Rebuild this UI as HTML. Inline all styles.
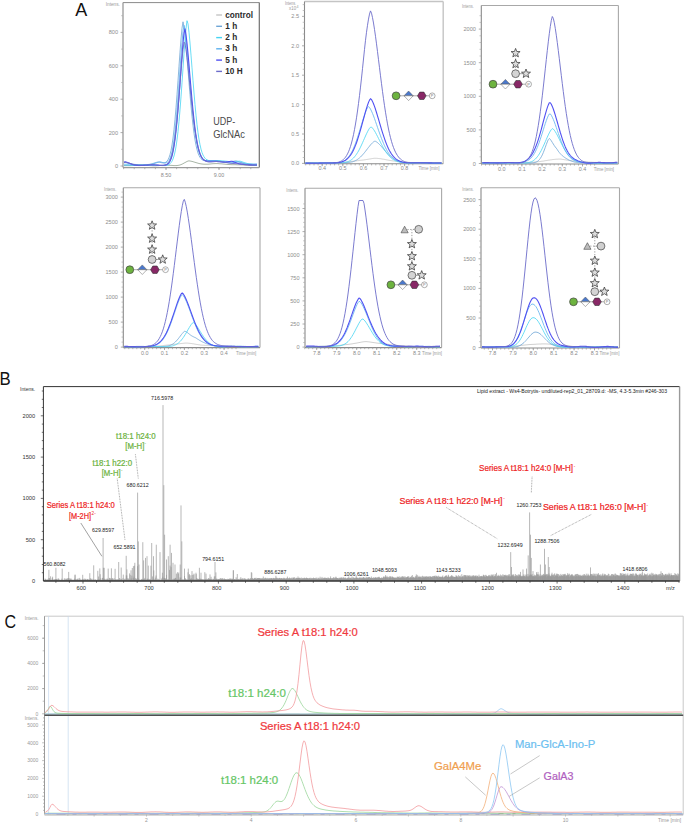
<!DOCTYPE html>
<html><head><meta charset="utf-8"><style>
html,body{margin:0;padding:0;background:#fff;}
svg{display:block;}
text{font-family:"Liberation Sans",sans-serif;}
</style></head><body>
<svg width="685" height="824" viewBox="0 0 685 824">
<rect width="685" height="824" fill="#fff"/>
<line x1="123" y1="2.6" x2="259.3" y2="2.6" stroke="#8a8a8a" stroke-width="1"/>
<line x1="259.3" y1="2.6" x2="259.3" y2="167.6" stroke="#707070" stroke-width="1.2"/>
<line x1="123" y1="2.6" x2="123" y2="167.6" stroke="#9a9a9a" stroke-width="1.3"/>
<line x1="123" y1="167.6" x2="259.3" y2="167.6" stroke="#9a9a9a" stroke-width="1.3"/>
<line x1="121.2" y1="149.3" x2="123" y2="149.3" stroke="#aaa" stroke-width="0.7"/>
<line x1="121.2" y1="115.9" x2="123" y2="115.9" stroke="#aaa" stroke-width="0.7"/>
<line x1="121.2" y1="82.5" x2="123" y2="82.5" stroke="#aaa" stroke-width="0.7"/>
<line x1="121.2" y1="49.1" x2="123" y2="49.1" stroke="#aaa" stroke-width="0.7"/>
<line x1="121.2" y1="15.7" x2="123" y2="15.7" stroke="#aaa" stroke-width="0.7"/>
<line x1="120.5" y1="166" x2="123" y2="166" stroke="#999" stroke-width="0.8"/>
<text x="118.1" y="168" font-size="5.6" fill="#8e8e8e" text-anchor="end">0</text>
<line x1="120.5" y1="132.6" x2="123" y2="132.6" stroke="#999" stroke-width="0.8"/>
<text x="118.1" y="134.6" font-size="5.6" fill="#8e8e8e" text-anchor="end">200</text>
<line x1="120.5" y1="99.2" x2="123" y2="99.2" stroke="#999" stroke-width="0.8"/>
<text x="118.1" y="101.2" font-size="5.6" fill="#8e8e8e" text-anchor="end">400</text>
<line x1="120.5" y1="65.8" x2="123" y2="65.8" stroke="#999" stroke-width="0.8"/>
<text x="118.1" y="67.8" font-size="5.6" fill="#8e8e8e" text-anchor="end">600</text>
<line x1="120.5" y1="32.4" x2="123" y2="32.4" stroke="#999" stroke-width="0.8"/>
<text x="118.1" y="34.4" font-size="5.6" fill="#8e8e8e" text-anchor="end">800</text>
<text x="119.9" y="5.9" font-size="5" fill="#999" text-anchor="end" textLength="14.2" lengthAdjust="spacingAndGlyphs">Intens.</text>
<line x1="123.6" y1="167.6" x2="123.6" y2="169.2" stroke="#999" stroke-width="0.7"/>
<line x1="134.2" y1="167.6" x2="134.2" y2="169.2" stroke="#999" stroke-width="0.7"/>
<line x1="144.8" y1="167.6" x2="144.8" y2="169.2" stroke="#999" stroke-width="0.7"/>
<line x1="155.4" y1="167.6" x2="155.4" y2="169.2" stroke="#999" stroke-width="0.7"/>
<line x1="166" y1="167.6" x2="166" y2="169.2" stroke="#999" stroke-width="0.7"/>
<line x1="176.6" y1="167.6" x2="176.6" y2="169.2" stroke="#999" stroke-width="0.7"/>
<line x1="187.2" y1="167.6" x2="187.2" y2="169.2" stroke="#999" stroke-width="0.7"/>
<line x1="197.8" y1="167.6" x2="197.8" y2="169.2" stroke="#999" stroke-width="0.7"/>
<line x1="208.4" y1="167.6" x2="208.4" y2="169.2" stroke="#999" stroke-width="0.7"/>
<line x1="219" y1="167.6" x2="219" y2="169.2" stroke="#999" stroke-width="0.7"/>
<line x1="229.6" y1="167.6" x2="229.6" y2="169.2" stroke="#999" stroke-width="0.7"/>
<line x1="240.2" y1="167.6" x2="240.2" y2="169.2" stroke="#999" stroke-width="0.7"/>
<line x1="250.8" y1="167.6" x2="250.8" y2="169.2" stroke="#999" stroke-width="0.7"/>
<line x1="166" y1="167.6" x2="166" y2="170" stroke="#999" stroke-width="0.8"/>
<text x="166" y="176.5" font-size="5.4" fill="#8a8a8a" text-anchor="middle">8.50</text>
<line x1="219" y1="167.6" x2="219" y2="170" stroke="#999" stroke-width="0.8"/>
<text x="219" y="176.5" font-size="5.4" fill="#8a8a8a" text-anchor="middle">9.00</text>
<polyline points="124,165.7 125,165.7 126,165.7 127,165.7 128,165.7 129,165.7 130,165.7 131,165.6 132,165.6 133,165.5 134,165.4 135,165.3 136,165.3 137,165.2 138,165.1 139,165.1 140,165.1 141,165 142,165.1 143,165.1 144,165.1 145,165.2 146,165.3 147,165.4 148,165.5 149,165.5 150,165.6 151,165.7 152,165.7 153,165.8 154,165.8 155,165.8 156,165.8 157,165.7 158,165.7 159,165.6 160,165.5 161,165.4 162,165.4 163,165.3 164,165.2 165,165.2 166,165.2 167,165.2 168,165.2 169,165.3 170,165.3 171,165.4 172,165.4 173,165.5 174,165.6 175,165.6 176,165.6 177,165.5 178,165.4 179,165.2 180,165 181,164.6 182,164.2 183,163.7 184,163.1 185,162.6 186,162 187,161.5 188,161 189,160.9 190,161 191,161.2 192,161.4 193,161.7 194,162 195,162.3 196,162.6 197,162.9 198,163.2 199,163.5 200,163.7 201,163.9 202,164 203,164.1 204,164.2 205,164.2 206,164.2 207,164.2 208,164.2 209,164.1 210,164 211,163.9 212,163.8 213,163.7 214,163.7 215,163.6 216,163.6 217,163.6 218,163.6 219,163.7 220,163.8 221,163.8 222,163.9 223,164 224,164.1 225,164.2 226,164.3 227,164.4 228,164.5 229,164.5 230,164.6 231,164.6 232,164.7 233,164.7 234,164.7 235,164.7 236,164.7 237,164.8 238,164.8 239,164.8 240,164.8 241,164.9 242,164.9 243,165 244,165.1 245,165.1 246,165.2 247,165.3 248,165.3 249,165.4 250,165.4 251,165.5 252,165.5 253,165.5 254,165.5 255,165.5 256,165.5 257,165.4" fill="none" stroke="#92a290" stroke-width="0.8" stroke-linejoin="round"/>
<polyline points="124,163 125,162.7 126,162.8 127,163 128,163.2 129,163.4 130,163.6 131,163.8 132,164 133,164.2 134,164.3 135,164.4 136,164.5 137,164.6 138,164.6 139,164.7 140,164.7 141,164.7 142,164.7 143,164.7 144,164.7 145,164.7 146,164.7 147,164.6 148,164.5 149,164.4 150,164.2 151,164 152,163.8 153,163.5 154,163.1 155,162.8 156,162.5 157,162.2 158,162 159,162.1 160,162.3 161,162.6 162,162.8 163,162.9 164,162.9 165,162.7 166,162.1 167,161.2 168,159.8 169,157.6 170,154.6 171,150.5 172,145 173,138.1 174,129.6 175,119.4 176,107.7 177,94.7 178,80.7 179,66.2 180,52.1 181,39 182,28.2 183,21.8 184,26.9 185,35.5 186,46.1 187,57.9 188,70.2 189,82.6 190,94.6 191,105.9 192,116.2 193,125.3 194,133.2 195,139.9 196,145.3 197,149.6 198,153 199,155.5 200,157.4 201,158.7 202,159.6 203,160.2 204,160.6 205,160.7 206,160.8 207,160.8 208,160.8 209,160.7 210,160.7 211,160.6 212,160.5 213,160.5 214,160.5 215,160.5 216,160.5 217,160.6 218,160.6 219,160.8 220,161 221,161.2 222,161.4 223,161.6 224,161.7 225,161.9 226,162 227,162.1 228,162.1 229,162 230,162 231,161.8 232,161.6 233,161.4 234,161.2 235,161 236,160.9 237,161.1 238,161.4 239,161.7 240,162.1 241,162.4 242,162.8 243,163.1 244,163.3 245,163.6 246,163.8 247,164 248,164.2 249,164.4 250,164.6 251,164.8 252,165 253,165.1 254,165.3 255,165.4 256,165.5 257,165.6" fill="none" stroke="#6fa6d6" stroke-width="0.8" stroke-linejoin="round"/>
<polyline points="124,165.1 125,165.1 126,165.1 127,165.1 128,165.1 129,165.2 130,165.2 131,165.2 132,165.3 133,165.3 134,165.4 135,165.5 136,165.5 137,165.5 138,165.5 139,165.6 140,165.6 141,165.5 142,165.5 143,165.5 144,165.4 145,165.4 146,165.3 147,165.3 148,165.2 149,165.2 150,165.2 151,165.2 152,165.1 153,165.2 154,165.2 155,165.2 156,165.3 157,165.3 158,165.4 159,165.4 160,165.5 161,165.5 162,165.6 163,165.6 164,165.6 165,165.6 166,165.5 167,165.3 168,165 169,164.5 170,163.8 171,162.7 172,161.2 173,159 174,156 175,152 176,146.7 177,139.9 178,131.6 179,121.5 180,109.9 181,96.9 182,82.9 183,68.3 184,53.7 185,40.2 186,28.6 187,20.7 188,23.8 189,32.3 190,43 191,55.1 192,67.8 193,80.6 194,93 195,104.6 196,115.2 197,124.6 198,132.6 199,139.3 200,144.7 201,149.1 202,152.5 203,155 204,156.9 205,158.2 206,159.2 207,159.8 208,160.3 209,160.6 210,160.7 211,160.8 212,160.9 213,160.8 214,160.8 215,160.8 216,160.7 217,160.7 218,160.6 219,160.7 220,160.7 221,160.8 222,160.9 223,160.9 224,161 225,161.1 226,161.2 227,161.3 228,161.4 229,161.6 230,161.7 231,161.7 232,161.8 233,161.8 234,161.8 235,161.7 236,161.6 237,161.5 238,161.3 239,161.2 240,161.2 241,161.4 242,161.8 243,162.1 244,162.5 245,162.8 246,163.1 247,163.4 248,163.6 249,163.8 250,163.9 251,164.1 252,164.2 253,164.4 254,164.5 255,164.7 256,164.8 257,165" fill="none" stroke="#45d4f2" stroke-width="0.8" stroke-linejoin="round"/>
<polyline points="124,165 125,164.9 126,164.9 127,164.9 128,164.8 129,164.8 130,164.8 131,164.7 132,164.7 133,164.7 134,164.7 135,164.7 136,164.7 137,164.7 138,164.7 139,164.7 140,164.7 141,164.7 142,164.7 143,164.7 144,164.7 145,164.7 146,164.7 147,164.7 148,164.6 149,164.6 150,164.5 151,164.3 152,164.2 153,163.9 154,163.6 155,163.3 156,163 157,162.6 158,162.3 159,162 160,161.8 161,162 162,162.3 163,162.6 164,162.8 165,163 166,162.9 167,162.5 168,161.8 169,160.5 170,158.4 171,155.5 172,151.5 173,146.2 174,139.5 175,131.2 176,121.2 177,109.7 178,97 179,83.2 180,69.1 181,55.2 182,42.4 183,31.7 184,25.3 185,30.1 186,38.4 187,48.5 188,59.8 189,71.7 190,83.7 191,95.3 192,106.2 193,116.2 194,125.1 195,132.8 196,139.3 197,144.6 198,148.9 199,152.3 200,154.8 201,156.8 202,158.2 203,159.2 204,159.9 205,160.3 206,160.6 207,160.8 208,160.9 209,161 210,161 211,161 212,161 213,161 214,160.9 215,160.9 216,161 217,161 218,161 219,161.2 220,161.3 221,161.5 222,161.7 223,161.9 224,162 225,162.2 226,162.4 227,162.5 228,162.7 229,162.8 230,162.8 231,162.8 232,162.8 233,162.7 234,162.6 235,162.4 236,162.2 237,162 238,162 239,162.2 240,162.4 241,162.8 242,163.1 243,163.3 244,163.6 245,163.8 246,163.9 247,164 248,164 249,164 250,164 251,164 252,164 253,164 254,164 255,163.9 256,163.9 257,163.9" fill="none" stroke="#5cb0ee" stroke-width="0.8" stroke-linejoin="round"/>
<polyline points="124,162.2 125,161.9 126,162 127,162.3 128,162.7 129,163.1 130,163.5 131,163.9 132,164.3 133,164.6 134,164.9 135,165.1 136,165.3 137,165.4 138,165.5 139,165.5 140,165.5 141,165.5 142,165.5 143,165.5 144,165.4 145,165.3 146,165.2 147,165.2 148,165.1 149,165 150,165 151,165 152,164.9 153,164.9 154,164.9 155,165 156,165 157,165.1 158,165.1 159,165.2 160,165.2 161,165.3 162,165.3 163,165.3 164,165.3 165,165.1 166,164.9 167,164.5 168,163.8 169,162.8 170,161.2 171,159.1 172,156 173,151.9 174,146.5 175,139.7 176,131.3 177,121.3 178,109.8 179,96.9 180,83.2 181,69.2 182,55.5 183,43 184,33 185,28.9 186,34.7 187,43.3 188,53.6 189,64.9 190,76.7 191,88.4 192,99.7 193,110.3 194,119.9 195,128.4 196,135.7 197,141.8 198,146.8 199,150.8 200,153.9 201,156.2 202,157.9 203,159.2 204,160 205,160.6 206,160.9 207,161.2 208,161.3 209,161.3 210,161.3 211,161.3 212,161.3 213,161.3 214,161.3 215,161.3 216,161.3 217,161.4 218,161.6 219,161.7 220,161.8 221,161.9 222,162 223,162.1 224,162.1 225,162.1 226,162.1 227,161.9 228,161.8 229,161.6 230,161.5 231,161.3 232,161.3 233,161.6 234,161.9 235,162.3 236,162.7 237,163.1 238,163.4 239,163.7 240,163.9 241,164.1 242,164.3 243,164.4 244,164.5 245,164.6 246,164.7 247,164.8 248,164.8 249,164.9 250,164.9 251,164.9 252,165 253,165 254,165 255,165 256,165 257,165" fill="none" stroke="#5050f2" stroke-width="1.1" stroke-linejoin="round"/>
<polyline points="124,162.6 125,162.2 126,162.3 127,162.6 128,162.8 129,163.1 130,163.4 131,163.7 132,164 133,164.3 134,164.5 135,164.7 136,164.9 137,165 138,165.1 139,165.2 140,165.2 141,165.2 142,165.2 143,165.2 144,165.2 145,165.1 146,165 147,164.9 148,164.9 149,164.8 150,164.8 151,164.7 152,164.7 153,164.8 154,164.8 155,164.9 156,165 157,165.1 158,165.2 159,165.3 160,165.4 161,165.5 162,165.5 163,165.5 164,165.4 165,165.1 166,164.8 167,164.2 168,163.3 169,162.1 170,160.3 171,157.9 172,154.6 173,150.3 174,144.7 175,137.9 176,129.5 177,119.8 178,108.8 179,96.8 180,84.2 181,71.6 182,59.7 183,49.4 184,42.2 185,43.6 186,49.7 187,57.6 188,66.7 189,76.4 190,86.4 191,96.3 192,105.8 193,114.7 194,122.9 195,130.2 196,136.5 197,142 198,146.5 199,150.2 200,153.2 201,155.6 202,157.5 203,158.9 204,159.9 205,160.7 206,161.3 207,161.6 208,161.9 209,162 210,162 211,162 212,161.9 213,161.8 214,161.7 215,161.6 216,161.5 217,161.5 218,161.5 219,161.6 220,161.7 221,161.8 222,161.9 223,162 224,162.2 225,162.4 226,162.5 227,162.7 228,162.9 229,163 230,163.2 231,163.3 232,163.4 233,163.5 234,163.5 235,163.6 236,163.7 237,163.7 238,163.8 239,163.9 240,164 241,164.1 242,164.2 243,164.3 244,164.4 245,164.5 246,164.6 247,164.7 248,164.8 249,164.9 250,164.9 251,165 252,165 253,165 254,165 255,164.9 256,164.9 257,164.8" fill="none" stroke="#6c6cca" stroke-width="0.9" stroke-linejoin="round"/>
<line x1="216.2" y1="15" x2="222" y2="15" stroke="#c4c4c4" stroke-width="1.4"/>
<text x="225.3" y="17.5" font-size="8.2" fill="#2a2a2a" font-weight="bold">control</text>
<line x1="216.2" y1="26.3" x2="222" y2="26.3" stroke="#6fa6d6" stroke-width="1.4"/>
<text x="225.3" y="28.8" font-size="8.2" fill="#2a2a2a" font-weight="bold">1 h</text>
<line x1="216.2" y1="37.6" x2="222" y2="37.6" stroke="#45d4f2" stroke-width="1.4"/>
<text x="225.3" y="40.1" font-size="8.2" fill="#2a2a2a" font-weight="bold">2 h</text>
<line x1="216.2" y1="48.8" x2="222" y2="48.8" stroke="#5cb0ee" stroke-width="1.4"/>
<text x="225.3" y="51.3" font-size="8.2" fill="#2a2a2a" font-weight="bold">3 h</text>
<line x1="216.2" y1="60.1" x2="222" y2="60.1" stroke="#5050f2" stroke-width="1.4"/>
<text x="225.3" y="62.6" font-size="8.2" fill="#2a2a2a" font-weight="bold">5 h</text>
<line x1="216.2" y1="71.4" x2="222" y2="71.4" stroke="#6c6cca" stroke-width="1.4"/>
<text x="225.3" y="73.9" font-size="8.2" fill="#2a2a2a" font-weight="bold">10 H</text>
<text x="213.3" y="124.8" font-size="10.4" fill="#4a4a4a" textLength="22" lengthAdjust="spacingAndGlyphs">UDP-</text>
<text x="213.3" y="137.5" font-size="10.4" fill="#4a4a4a" textLength="31.6" lengthAdjust="spacingAndGlyphs">GlcNAc</text>
<line x1="304.5" y1="1.5" x2="443.2" y2="1.5" stroke="#c4c4c4" stroke-width="1.4"/>
<line x1="443.2" y1="1.5" x2="443.2" y2="163.8" stroke="#c4c4c4" stroke-width="1.4"/>
<line x1="304.5" y1="1.5" x2="304.5" y2="163.8" stroke="#8a8a8a" stroke-width="1.1"/>
<line x1="304.5" y1="163.8" x2="443.2" y2="163.8" stroke="#8a8a8a" stroke-width="1.1"/>
<line x1="302.7" y1="157.5" x2="304.5" y2="157.5" stroke="#aaa" stroke-width="0.7"/>
<line x1="302.7" y1="151.6" x2="304.5" y2="151.6" stroke="#aaa" stroke-width="0.7"/>
<line x1="302.7" y1="145.8" x2="304.5" y2="145.8" stroke="#aaa" stroke-width="0.7"/>
<line x1="302.7" y1="139.9" x2="304.5" y2="139.9" stroke="#aaa" stroke-width="0.7"/>
<line x1="302.7" y1="128.1" x2="304.5" y2="128.1" stroke="#aaa" stroke-width="0.7"/>
<line x1="302.7" y1="122.2" x2="304.5" y2="122.2" stroke="#aaa" stroke-width="0.7"/>
<line x1="302.7" y1="116.4" x2="304.5" y2="116.4" stroke="#aaa" stroke-width="0.7"/>
<line x1="302.7" y1="110.5" x2="304.5" y2="110.5" stroke="#aaa" stroke-width="0.7"/>
<line x1="302.7" y1="98.7" x2="304.5" y2="98.7" stroke="#aaa" stroke-width="0.7"/>
<line x1="302.7" y1="92.8" x2="304.5" y2="92.8" stroke="#aaa" stroke-width="0.7"/>
<line x1="302.7" y1="87" x2="304.5" y2="87" stroke="#aaa" stroke-width="0.7"/>
<line x1="302.7" y1="81.1" x2="304.5" y2="81.1" stroke="#aaa" stroke-width="0.7"/>
<line x1="302.7" y1="69.3" x2="304.5" y2="69.3" stroke="#aaa" stroke-width="0.7"/>
<line x1="302.7" y1="63.4" x2="304.5" y2="63.4" stroke="#aaa" stroke-width="0.7"/>
<line x1="302.7" y1="57.6" x2="304.5" y2="57.6" stroke="#aaa" stroke-width="0.7"/>
<line x1="302.7" y1="51.7" x2="304.5" y2="51.7" stroke="#aaa" stroke-width="0.7"/>
<line x1="302.7" y1="39.9" x2="304.5" y2="39.9" stroke="#aaa" stroke-width="0.7"/>
<line x1="302.7" y1="34" x2="304.5" y2="34" stroke="#aaa" stroke-width="0.7"/>
<line x1="302.7" y1="28.2" x2="304.5" y2="28.2" stroke="#aaa" stroke-width="0.7"/>
<line x1="302.7" y1="22.3" x2="304.5" y2="22.3" stroke="#aaa" stroke-width="0.7"/>
<line x1="302.7" y1="10.5" x2="304.5" y2="10.5" stroke="#aaa" stroke-width="0.7"/>
<line x1="302.7" y1="4.6" x2="304.5" y2="4.6" stroke="#aaa" stroke-width="0.7"/>
<line x1="302" y1="163.4" x2="304.5" y2="163.4" stroke="#999" stroke-width="0.8"/>
<text x="299.1" y="165.4" font-size="5.6" fill="#8e8e8e" text-anchor="end">0.0</text>
<line x1="302" y1="134" x2="304.5" y2="134" stroke="#999" stroke-width="0.8"/>
<text x="299.1" y="136" font-size="5.6" fill="#8e8e8e" text-anchor="end">0.5</text>
<line x1="302" y1="104.6" x2="304.5" y2="104.6" stroke="#999" stroke-width="0.8"/>
<text x="299.1" y="106.6" font-size="5.6" fill="#8e8e8e" text-anchor="end">1.0</text>
<line x1="302" y1="75.2" x2="304.5" y2="75.2" stroke="#999" stroke-width="0.8"/>
<text x="299.1" y="77.2" font-size="5.6" fill="#8e8e8e" text-anchor="end">1.5</text>
<line x1="302" y1="45.8" x2="304.5" y2="45.8" stroke="#999" stroke-width="0.8"/>
<text x="299.1" y="47.8" font-size="5.6" fill="#8e8e8e" text-anchor="end">2.0</text>
<line x1="302" y1="16.4" x2="304.5" y2="16.4" stroke="#999" stroke-width="0.8"/>
<text x="299.1" y="18.4" font-size="5.6" fill="#8e8e8e" text-anchor="end">2.5</text>
<text x="296.1" y="4.6" font-size="4.8" fill="#999" text-anchor="end" textLength="11.2" lengthAdjust="spacingAndGlyphs">Intens.</text>
<text x="296.1" y="10.2" font-size="4.8" fill="#999" text-anchor="end" textLength="7" lengthAdjust="spacingAndGlyphs">x10</text>
<text x="296.5" y="7.6" font-size="3.6" fill="#999">4</text>
<line x1="305.7" y1="163.8" x2="305.7" y2="165.4" stroke="#999" stroke-width="0.7"/>
<line x1="309.8" y1="163.8" x2="309.8" y2="165.4" stroke="#999" stroke-width="0.7"/>
<line x1="314" y1="163.8" x2="314" y2="165.4" stroke="#999" stroke-width="0.7"/>
<line x1="318.1" y1="163.8" x2="318.1" y2="165.4" stroke="#999" stroke-width="0.7"/>
<line x1="322.2" y1="163.8" x2="322.2" y2="165.4" stroke="#999" stroke-width="0.7"/>
<line x1="326.3" y1="163.8" x2="326.3" y2="165.4" stroke="#999" stroke-width="0.7"/>
<line x1="330.4" y1="163.8" x2="330.4" y2="165.4" stroke="#999" stroke-width="0.7"/>
<line x1="334.6" y1="163.8" x2="334.6" y2="165.4" stroke="#999" stroke-width="0.7"/>
<line x1="338.7" y1="163.8" x2="338.7" y2="165.4" stroke="#999" stroke-width="0.7"/>
<line x1="342.8" y1="163.8" x2="342.8" y2="165.4" stroke="#999" stroke-width="0.7"/>
<line x1="346.9" y1="163.8" x2="346.9" y2="165.4" stroke="#999" stroke-width="0.7"/>
<line x1="351" y1="163.8" x2="351" y2="165.4" stroke="#999" stroke-width="0.7"/>
<line x1="355.2" y1="163.8" x2="355.2" y2="165.4" stroke="#999" stroke-width="0.7"/>
<line x1="359.3" y1="163.8" x2="359.3" y2="165.4" stroke="#999" stroke-width="0.7"/>
<line x1="363.4" y1="163.8" x2="363.4" y2="165.4" stroke="#999" stroke-width="0.7"/>
<line x1="367.5" y1="163.8" x2="367.5" y2="165.4" stroke="#999" stroke-width="0.7"/>
<line x1="371.6" y1="163.8" x2="371.6" y2="165.4" stroke="#999" stroke-width="0.7"/>
<line x1="375.8" y1="163.8" x2="375.8" y2="165.4" stroke="#999" stroke-width="0.7"/>
<line x1="379.9" y1="163.8" x2="379.9" y2="165.4" stroke="#999" stroke-width="0.7"/>
<line x1="384" y1="163.8" x2="384" y2="165.4" stroke="#999" stroke-width="0.7"/>
<line x1="388.1" y1="163.8" x2="388.1" y2="165.4" stroke="#999" stroke-width="0.7"/>
<line x1="392.2" y1="163.8" x2="392.2" y2="165.4" stroke="#999" stroke-width="0.7"/>
<line x1="396.4" y1="163.8" x2="396.4" y2="165.4" stroke="#999" stroke-width="0.7"/>
<line x1="400.5" y1="163.8" x2="400.5" y2="165.4" stroke="#999" stroke-width="0.7"/>
<line x1="404.6" y1="163.8" x2="404.6" y2="165.4" stroke="#999" stroke-width="0.7"/>
<line x1="408.7" y1="163.8" x2="408.7" y2="165.4" stroke="#999" stroke-width="0.7"/>
<line x1="412.8" y1="163.8" x2="412.8" y2="165.4" stroke="#999" stroke-width="0.7"/>
<line x1="322.2" y1="163.8" x2="322.2" y2="166.2" stroke="#999" stroke-width="0.8"/>
<text x="322.2" y="170.4" font-size="5.4" fill="#8a8a8a" text-anchor="middle">0.4</text>
<line x1="342.8" y1="163.8" x2="342.8" y2="166.2" stroke="#999" stroke-width="0.8"/>
<text x="342.8" y="170.4" font-size="5.4" fill="#8a8a8a" text-anchor="middle">0.5</text>
<line x1="363.4" y1="163.8" x2="363.4" y2="166.2" stroke="#999" stroke-width="0.8"/>
<text x="363.4" y="170.4" font-size="5.4" fill="#8a8a8a" text-anchor="middle">0.6</text>
<line x1="384" y1="163.8" x2="384" y2="166.2" stroke="#999" stroke-width="0.8"/>
<text x="384" y="170.4" font-size="5.4" fill="#8a8a8a" text-anchor="middle">0.7</text>
<line x1="404.6" y1="163.8" x2="404.6" y2="166.2" stroke="#999" stroke-width="0.8"/>
<text x="404.6" y="170.4" font-size="5.4" fill="#8a8a8a" text-anchor="middle">0.8</text>
<text x="429" y="170.4" font-size="4.6" fill="#999" text-anchor="middle" textLength="21" lengthAdjust="spacingAndGlyphs">Time [min]</text>
<polyline points="305.5,163 306.5,163 307.5,163 308.5,162.9 309.5,162.9 310.5,162.9 311.5,162.9 312.5,162.9 313.5,162.9 314.5,163 315.5,163 316.5,163 317.5,163.1 318.5,163.1 319.5,163.1 320.5,163.1 321.5,163.1 322.5,163.1 323.5,163.1 324.5,163.1 325.5,163.1 326.5,163.1 327.5,163 328.5,163 329.5,162.9 330.5,162.9 331.5,162.9 332.5,162.8 333.5,162.8 334.5,162.8 335.5,162.7 336.5,162.7 337.5,162.7 338.5,162.6 339.5,162.6 340.5,162.5 341.5,162.5 342.5,162.4 343.5,162.3 344.5,162.2 345.5,162.1 346.5,162 347.5,161.9 348.5,161.8 349.5,161.7 350.5,161.5 351.5,161.4 352.5,161.3 353.5,161.1 354.5,161 355.5,160.9 356.5,160.8 357.5,160.7 358.5,160.6 359.5,160.4 360.5,160.3 361.5,160.2 362.5,160.1 363.5,160 364.5,159.8 365.5,159.7 366.5,159.5 367.5,159.4 368.5,159.2 369.5,159 370.5,158.9 371.5,158.7 372.5,158.5 373.5,158.4 374.5,158.3 375.5,158.3 376.5,158.3 377.5,158.4 378.5,158.5 379.5,158.6 380.5,158.7 381.5,158.9 382.5,159.1 383.5,159.2 384.5,159.4 385.5,159.6 386.5,159.8 387.5,160 388.5,160.2 389.5,160.4 390.5,160.5 391.5,160.7 392.5,160.8 393.5,161 394.5,161.1 395.5,161.2 396.5,161.3 397.5,161.4 398.5,161.5 399.5,161.6 400.5,161.6 401.5,161.7 402.5,161.8 403.5,161.9 404.5,162 405.5,162.1 406.5,162.1 407.5,162.2 408.5,162.3 409.5,162.4 410.5,162.5 411.5,162.6 412.5,162.7 413.5,162.7 414.5,162.8 415.5,162.8 416.5,162.9 417.5,162.9 418.5,163 419.5,163 420.5,163 421.5,163 422.5,163.1 423.5,163.1 424.5,163.1 425.5,163.1 426.5,163.1 427.5,163.1 428.5,163.1 429.5,163.1 430.5,163.1 431.5,163.1 432.5,163.1 433.5,163 434.5,163 435.5,163 436.5,163 437.5,163 438.5,163 439.5,163 440.5,163 441.5,162.9" fill="none" stroke="#c4c4c4" stroke-width="0.8" stroke-linejoin="round"/>
<polyline points="305.5,163 306.5,163 307.5,162.9 308.5,162.9 309.5,162.8 310.5,162.8 311.5,162.8 312.5,162.7 313.5,162.7 314.5,162.7 315.5,162.7 316.5,162.7 317.5,162.8 318.5,162.8 319.5,162.9 320.5,162.9 321.5,163 322.5,163.1 323.5,163.1 324.5,163.2 325.5,163.2 326.5,163.3 327.5,163.3 328.5,163.3 329.5,163.3 330.5,163.3 331.5,163.3 332.5,163.3 333.5,163.2 334.5,163.1 335.5,163.1 336.5,163 337.5,163 338.5,162.9 339.5,162.8 340.5,162.8 341.5,162.8 342.5,162.7 343.5,162.7 344.5,162.7 345.5,162.6 346.5,162.6 347.5,162.5 348.5,162.5 349.5,162.4 350.5,162.2 351.5,162 352.5,161.8 353.5,161.5 354.5,161.1 355.5,160.6 356.5,160.1 357.5,159.4 358.5,158.7 359.5,157.9 360.5,157 361.5,156 362.5,154.9 363.5,153.8 364.5,152.6 365.5,151.3 366.5,150 367.5,148.7 368.5,147.4 369.5,146.2 370.5,144.9 371.5,143.8 372.5,142.8 373.5,141.9 374.5,141.3 375.5,141.3 376.5,141.9 377.5,142.6 378.5,143.5 379.5,144.5 380.5,145.5 381.5,146.6 382.5,147.8 383.5,148.9 384.5,150.1 385.5,151.2 386.5,152.3 387.5,153.4 388.5,154.4 389.5,155.3 390.5,156.3 391.5,157.1 392.5,157.9 393.5,158.6 394.5,159.3 395.5,159.9 396.5,160.4 397.5,160.9 398.5,161.3 399.5,161.7 400.5,162 401.5,162.2 402.5,162.4 403.5,162.6 404.5,162.7 405.5,162.8 406.5,162.8 407.5,162.8 408.5,162.8 409.5,162.8 410.5,162.8 411.5,162.8 412.5,162.7 413.5,162.7 414.5,162.7 415.5,162.7 416.5,162.7 417.5,162.7 418.5,162.7 419.5,162.7 420.5,162.7 421.5,162.8 422.5,162.8 423.5,162.9 424.5,163 425.5,163 426.5,163.1 427.5,163.1 428.5,163.1 429.5,163.1 430.5,163.1 431.5,163.1 432.5,163.1 433.5,163.1 434.5,163.1 435.5,163 436.5,163 437.5,162.9 438.5,162.9 439.5,162.9 440.5,162.8 441.5,162.8" fill="none" stroke="#6fa6d6" stroke-width="0.8" stroke-linejoin="round"/>
<polyline points="305.5,163.1 306.5,163.1 307.5,163.1 308.5,163.1 309.5,163.1 310.5,163.2 311.5,163.2 312.5,163.2 313.5,163.2 314.5,163.2 315.5,163.2 316.5,163.2 317.5,163.2 318.5,163.1 319.5,163.1 320.5,163.1 321.5,163 322.5,163 323.5,163 324.5,162.9 325.5,162.9 326.5,162.8 327.5,162.8 328.5,162.8 329.5,162.7 330.5,162.7 331.5,162.7 332.5,162.7 333.5,162.7 334.5,162.7 335.5,162.7 336.5,162.7 337.5,162.7 338.5,162.7 339.5,162.7 340.5,162.7 341.5,162.7 342.5,162.6 343.5,162.5 344.5,162.4 345.5,162.2 346.5,162 347.5,161.7 348.5,161.4 349.5,160.9 350.5,160.4 351.5,159.7 352.5,158.9 353.5,158 354.5,156.9 355.5,155.6 356.5,154.2 357.5,152.7 358.5,151 359.5,149.1 360.5,147.1 361.5,145 362.5,142.8 363.5,140.5 364.5,138.3 365.5,136 366.5,133.8 367.5,131.8 368.5,129.9 369.5,128.3 370.5,127.2 371.5,127.1 372.5,128.1 373.5,129.4 374.5,130.9 375.5,132.6 376.5,134.5 377.5,136.4 378.5,138.4 379.5,140.4 380.5,142.4 381.5,144.4 382.5,146.3 383.5,148.1 384.5,149.8 385.5,151.4 386.5,152.8 387.5,154.2 388.5,155.4 389.5,156.5 390.5,157.5 391.5,158.3 392.5,159.1 393.5,159.7 394.5,160.3 395.5,160.8 396.5,161.2 397.5,161.6 398.5,161.8 399.5,162.1 400.5,162.3 401.5,162.4 402.5,162.6 403.5,162.7 404.5,162.7 405.5,162.8 406.5,162.8 407.5,162.8 408.5,162.9 409.5,162.9 410.5,162.8 411.5,162.8 412.5,162.8 413.5,162.8 414.5,162.8 415.5,162.8 416.5,162.7 417.5,162.7 418.5,162.7 419.5,162.7 420.5,162.7 421.5,162.8 422.5,162.8 423.5,162.8 424.5,162.8 425.5,162.9 426.5,162.9 427.5,162.9 428.5,163 429.5,163 430.5,163.1 431.5,163.1 432.5,163.1 433.5,163.2 434.5,163.2 435.5,163.2 436.5,163.2 437.5,163.3 438.5,163.3 439.5,163.3 440.5,163.3 441.5,163.3" fill="none" stroke="#45d4f2" stroke-width="0.8" stroke-linejoin="round"/>
<polyline points="305.5,163.1 306.5,163.1 307.5,163.1 308.5,163.1 309.5,163.1 310.5,163.1 311.5,163.1 312.5,163.1 313.5,163.1 314.5,163.1 315.5,163 316.5,163 317.5,163 318.5,162.9 319.5,162.9 320.5,162.8 321.5,162.8 322.5,162.8 323.5,162.8 324.5,162.7 325.5,162.7 326.5,162.7 327.5,162.7 328.5,162.7 329.5,162.7 330.5,162.7 331.5,162.7 332.5,162.8 333.5,162.8 334.5,162.7 335.5,162.7 336.5,162.7 337.5,162.6 338.5,162.5 339.5,162.3 340.5,162.1 341.5,161.9 342.5,161.5 343.5,161.1 344.5,160.5 345.5,159.9 346.5,159.1 347.5,158.1 348.5,157 349.5,155.6 350.5,154.1 351.5,152.4 352.5,150.5 353.5,148.3 354.5,145.9 355.5,143.3 356.5,140.5 357.5,137.6 358.5,134.4 359.5,131.2 360.5,127.9 361.5,124.6 362.5,121.3 363.5,118.1 364.5,115 365.5,112.2 366.5,109.7 367.5,107.7 368.5,106.6 369.5,107.5 370.5,109.1 371.5,111.1 372.5,113.4 373.5,115.9 374.5,118.6 375.5,121.5 376.5,124.4 377.5,127.3 378.5,130.2 379.5,133 380.5,135.8 381.5,138.5 382.5,141 383.5,143.4 384.5,145.7 385.5,147.7 386.5,149.7 387.5,151.4 388.5,153 389.5,154.4 390.5,155.6 391.5,156.7 392.5,157.7 393.5,158.6 394.5,159.3 395.5,159.9 396.5,160.5 397.5,161 398.5,161.4 399.5,161.7 400.5,162 401.5,162.2 402.5,162.4 403.5,162.5 404.5,162.7 405.5,162.8 406.5,162.8 407.5,162.9 408.5,162.9 409.5,162.9 410.5,163 411.5,163 412.5,162.9 413.5,162.9 414.5,162.9 415.5,162.9 416.5,162.9 417.5,162.8 418.5,162.8 419.5,162.8 420.5,162.8 421.5,162.8 422.5,162.8 423.5,162.8 424.5,162.9 425.5,162.9 426.5,162.9 427.5,163 428.5,163 429.5,163.1 430.5,163.1 431.5,163.1 432.5,163.2 433.5,163.2 434.5,163.3 435.5,163.3 436.5,163.3 437.5,163.3 438.5,163.3 439.5,163.3 440.5,163.3 441.5,163.3" fill="none" stroke="#5cb0ee" stroke-width="0.8" stroke-linejoin="round"/>
<polyline points="305.5,163.1 306.5,163.2 307.5,163.2 308.5,163.2 309.5,163.3 310.5,163.3 311.5,163.3 312.5,163.3 313.5,163.3 314.5,163.3 315.5,163.3 316.5,163.2 317.5,163.2 318.5,163.2 319.5,163.1 320.5,163.1 321.5,163.1 322.5,163 323.5,163 324.5,163 325.5,163 326.5,163 327.5,163 328.5,163 329.5,163 330.5,163 331.5,163 332.5,163 333.5,162.9 334.5,162.9 335.5,162.9 336.5,162.8 337.5,162.7 338.5,162.6 339.5,162.4 340.5,162.2 341.5,162 342.5,161.6 343.5,161.2 344.5,160.8 345.5,160.2 346.5,159.5 347.5,158.6 348.5,157.7 349.5,156.5 350.5,155.2 351.5,153.7 352.5,151.9 353.5,150 354.5,147.8 355.5,145.4 356.5,142.7 357.5,139.8 358.5,136.7 359.5,133.4 360.5,129.9 361.5,126.3 362.5,122.7 363.5,119 364.5,115.3 365.5,111.7 366.5,108.3 367.5,105.2 368.5,102.4 369.5,100.1 370.5,98.7 371.5,99.6 372.5,101.4 373.5,103.7 374.5,106.4 375.5,109.3 376.5,112.5 377.5,115.8 378.5,119.2 379.5,122.6 380.5,126 381.5,129.3 382.5,132.6 383.5,135.7 384.5,138.7 385.5,141.5 386.5,144.1 387.5,146.5 388.5,148.7 389.5,150.7 390.5,152.4 391.5,154 392.5,155.4 393.5,156.6 394.5,157.7 395.5,158.6 396.5,159.4 397.5,160 398.5,160.6 399.5,161 400.5,161.4 401.5,161.7 402.5,162 403.5,162.2 404.5,162.4 405.5,162.5 406.5,162.6 407.5,162.7 408.5,162.7 409.5,162.8 410.5,162.8 411.5,162.8 412.5,162.8 413.5,162.8 414.5,162.8 415.5,162.8 416.5,162.8 417.5,162.8 418.5,162.8 419.5,162.8 420.5,162.8 421.5,162.8 422.5,162.8 423.5,162.8 424.5,162.8 425.5,162.8 426.5,162.8 427.5,162.8 428.5,162.9 429.5,162.9 430.5,162.9 431.5,162.9 432.5,163 433.5,163 434.5,163 435.5,163 436.5,163 437.5,163 438.5,163 439.5,163 440.5,163 441.5,163" fill="none" stroke="#5050f2" stroke-width="1.1" stroke-linejoin="round"/>
<polyline points="305.5,162.9 306.5,162.9 307.5,162.9 308.5,162.9 309.5,163 310.5,163 311.5,163.1 312.5,163.1 313.5,163.2 314.5,163.2 315.5,163.2 316.5,163.2 317.5,163.2 318.5,163.2 319.5,163.2 320.5,163.1 321.5,163.1 322.5,163 323.5,163 324.5,163 325.5,162.9 326.5,162.9 327.5,162.9 328.5,162.9 329.5,162.9 330.5,162.9 331.5,162.9 332.5,162.9 333.5,162.8 334.5,162.8 335.5,162.7 336.5,162.6 337.5,162.4 338.5,162.2 339.5,161.8 340.5,161.4 341.5,160.9 342.5,160.2 343.5,159.4 344.5,158.4 345.5,157.2 346.5,155.7 347.5,153.9 348.5,151.8 349.5,149.3 350.5,146.4 351.5,143 352.5,139.1 353.5,134.7 354.5,129.6 355.5,124 356.5,117.8 357.5,111 358.5,103.5 359.5,95.6 360.5,87.1 361.5,78.1 362.5,68.7 363.5,59 364.5,49.4 365.5,40.3 366.5,32.3 367.5,25.3 368.5,19.1 369.5,14.1 370.5,10.9 371.5,13.2 372.5,17.6 373.5,23 374.5,29.4 375.5,36.3 376.5,43.8 377.5,51.6 378.5,59.7 379.5,67.7 380.5,75.8 381.5,83.7 382.5,91.4 383.5,98.7 384.5,105.7 385.5,112.2 386.5,118.3 387.5,123.9 388.5,129 389.5,133.6 390.5,137.7 391.5,141.4 392.5,144.7 393.5,147.5 394.5,150 395.5,152.2 396.5,154 397.5,155.6 398.5,157 399.5,158.1 400.5,159.1 401.5,159.9 402.5,160.6 403.5,161.1 404.5,161.6 405.5,161.9 406.5,162.2 407.5,162.4 408.5,162.5 409.5,162.7 410.5,162.7 411.5,162.8 412.5,162.8 413.5,162.8 414.5,162.8 415.5,162.8 416.5,162.9 417.5,162.9 418.5,162.9 419.5,162.9 420.5,162.9 421.5,163 422.5,163 423.5,163 424.5,163 425.5,163 426.5,163 427.5,163 428.5,163 429.5,163 430.5,163 431.5,163 432.5,162.9 433.5,162.9 434.5,162.9 435.5,162.8 436.5,162.8 437.5,162.8 438.5,162.8 439.5,162.8 440.5,162.9 441.5,162.9" fill="none" stroke="#6c6cca" stroke-width="0.9" stroke-linejoin="round"/>
<line x1="396.1" y1="95.8" x2="432.2" y2="95.8" stroke="#777" stroke-width="0.6"/>
<circle cx="396.1" cy="95.8" r="3.9" fill="#6db33f" stroke="#444" stroke-width="0.7"/>
<path d="M404,95.8 L408.6,91 L413.2,95.8 Z" fill="#4a78cc" stroke="#555" stroke-width="0.5"/>
<path d="M404,95.8 L408.6,100.6 L413.2,95.8 Z" fill="#fff" stroke="#666" stroke-width="0.5"/>
<polygon points="426.1,95.8 423.9,99.5 419.7,99.5 417.5,95.8 419.7,92.1 423.9,92.1" fill="#882866" stroke="#333" stroke-width="0.6"/>
<circle cx="432.2" cy="95.8" r="2.9" fill="#fff" stroke="#777" stroke-width="0.6"/>
<text x="432.2" y="97.3" font-size="4" fill="#777" text-anchor="middle">P</text>
<line x1="481.3" y1="5.5" x2="618.4" y2="5.5" stroke="#a8a8a8" stroke-width="1.1"/>
<line x1="618.4" y1="5.5" x2="618.4" y2="164" stroke="#a8a8a8" stroke-width="1.1"/>
<line x1="481.3" y1="5.5" x2="481.3" y2="164" stroke="#8a8a8a" stroke-width="1.1"/>
<line x1="481.3" y1="164" x2="618.4" y2="164" stroke="#8a8a8a" stroke-width="1.1"/>
<line x1="479.5" y1="156.8" x2="481.3" y2="156.8" stroke="#aaa" stroke-width="0.7"/>
<line x1="479.5" y1="150.1" x2="481.3" y2="150.1" stroke="#aaa" stroke-width="0.7"/>
<line x1="479.5" y1="143.3" x2="481.3" y2="143.3" stroke="#aaa" stroke-width="0.7"/>
<line x1="479.5" y1="136.6" x2="481.3" y2="136.6" stroke="#aaa" stroke-width="0.7"/>
<line x1="479.5" y1="123.2" x2="481.3" y2="123.2" stroke="#aaa" stroke-width="0.7"/>
<line x1="479.5" y1="116.5" x2="481.3" y2="116.5" stroke="#aaa" stroke-width="0.7"/>
<line x1="479.5" y1="109.7" x2="481.3" y2="109.7" stroke="#aaa" stroke-width="0.7"/>
<line x1="479.5" y1="103" x2="481.3" y2="103" stroke="#aaa" stroke-width="0.7"/>
<line x1="479.5" y1="89.6" x2="481.3" y2="89.6" stroke="#aaa" stroke-width="0.7"/>
<line x1="479.5" y1="82.9" x2="481.3" y2="82.9" stroke="#aaa" stroke-width="0.7"/>
<line x1="479.5" y1="76.1" x2="481.3" y2="76.1" stroke="#aaa" stroke-width="0.7"/>
<line x1="479.5" y1="69.4" x2="481.3" y2="69.4" stroke="#aaa" stroke-width="0.7"/>
<line x1="479.5" y1="56" x2="481.3" y2="56" stroke="#aaa" stroke-width="0.7"/>
<line x1="479.5" y1="49.3" x2="481.3" y2="49.3" stroke="#aaa" stroke-width="0.7"/>
<line x1="479.5" y1="42.5" x2="481.3" y2="42.5" stroke="#aaa" stroke-width="0.7"/>
<line x1="479.5" y1="35.8" x2="481.3" y2="35.8" stroke="#aaa" stroke-width="0.7"/>
<line x1="479.5" y1="22.4" x2="481.3" y2="22.4" stroke="#aaa" stroke-width="0.7"/>
<line x1="479.5" y1="15.7" x2="481.3" y2="15.7" stroke="#aaa" stroke-width="0.7"/>
<line x1="478.8" y1="163.5" x2="481.3" y2="163.5" stroke="#999" stroke-width="0.8"/>
<text x="475.9" y="165.5" font-size="5.6" fill="#8e8e8e" text-anchor="end">0</text>
<line x1="478.8" y1="129.9" x2="481.3" y2="129.9" stroke="#999" stroke-width="0.8"/>
<text x="475.9" y="131.9" font-size="5.6" fill="#8e8e8e" text-anchor="end">500</text>
<line x1="478.8" y1="96.3" x2="481.3" y2="96.3" stroke="#999" stroke-width="0.8"/>
<text x="475.9" y="98.3" font-size="5.6" fill="#8e8e8e" text-anchor="end">1000</text>
<line x1="478.8" y1="62.7" x2="481.3" y2="62.7" stroke="#999" stroke-width="0.8"/>
<text x="475.9" y="64.7" font-size="5.6" fill="#8e8e8e" text-anchor="end">1500</text>
<line x1="478.8" y1="29.1" x2="481.3" y2="29.1" stroke="#999" stroke-width="0.8"/>
<text x="475.9" y="31.1" font-size="5.6" fill="#8e8e8e" text-anchor="end">2000</text>
<text x="473.8" y="8.4" font-size="5" fill="#999" text-anchor="end" textLength="11.8" lengthAdjust="spacingAndGlyphs">Intens.</text>
<line x1="481.5" y1="164" x2="481.5" y2="165.6" stroke="#999" stroke-width="0.7"/>
<line x1="485.5" y1="164" x2="485.5" y2="165.6" stroke="#999" stroke-width="0.7"/>
<line x1="489.6" y1="164" x2="489.6" y2="165.6" stroke="#999" stroke-width="0.7"/>
<line x1="493.6" y1="164" x2="493.6" y2="165.6" stroke="#999" stroke-width="0.7"/>
<line x1="497.7" y1="164" x2="497.7" y2="165.6" stroke="#999" stroke-width="0.7"/>
<line x1="501.7" y1="164" x2="501.7" y2="165.6" stroke="#999" stroke-width="0.7"/>
<line x1="505.7" y1="164" x2="505.7" y2="165.6" stroke="#999" stroke-width="0.7"/>
<line x1="509.8" y1="164" x2="509.8" y2="165.6" stroke="#999" stroke-width="0.7"/>
<line x1="513.8" y1="164" x2="513.8" y2="165.6" stroke="#999" stroke-width="0.7"/>
<line x1="517.9" y1="164" x2="517.9" y2="165.6" stroke="#999" stroke-width="0.7"/>
<line x1="521.9" y1="164" x2="521.9" y2="165.6" stroke="#999" stroke-width="0.7"/>
<line x1="525.9" y1="164" x2="525.9" y2="165.6" stroke="#999" stroke-width="0.7"/>
<line x1="530" y1="164" x2="530" y2="165.6" stroke="#999" stroke-width="0.7"/>
<line x1="534" y1="164" x2="534" y2="165.6" stroke="#999" stroke-width="0.7"/>
<line x1="538.1" y1="164" x2="538.1" y2="165.6" stroke="#999" stroke-width="0.7"/>
<line x1="542.1" y1="164" x2="542.1" y2="165.6" stroke="#999" stroke-width="0.7"/>
<line x1="546.1" y1="164" x2="546.1" y2="165.6" stroke="#999" stroke-width="0.7"/>
<line x1="550.2" y1="164" x2="550.2" y2="165.6" stroke="#999" stroke-width="0.7"/>
<line x1="554.2" y1="164" x2="554.2" y2="165.6" stroke="#999" stroke-width="0.7"/>
<line x1="558.3" y1="164" x2="558.3" y2="165.6" stroke="#999" stroke-width="0.7"/>
<line x1="562.3" y1="164" x2="562.3" y2="165.6" stroke="#999" stroke-width="0.7"/>
<line x1="566.3" y1="164" x2="566.3" y2="165.6" stroke="#999" stroke-width="0.7"/>
<line x1="570.4" y1="164" x2="570.4" y2="165.6" stroke="#999" stroke-width="0.7"/>
<line x1="574.4" y1="164" x2="574.4" y2="165.6" stroke="#999" stroke-width="0.7"/>
<line x1="578.5" y1="164" x2="578.5" y2="165.6" stroke="#999" stroke-width="0.7"/>
<line x1="582.5" y1="164" x2="582.5" y2="165.6" stroke="#999" stroke-width="0.7"/>
<line x1="586.5" y1="164" x2="586.5" y2="165.6" stroke="#999" stroke-width="0.7"/>
<line x1="590.6" y1="164" x2="590.6" y2="165.6" stroke="#999" stroke-width="0.7"/>
<line x1="594.6" y1="164" x2="594.6" y2="165.6" stroke="#999" stroke-width="0.7"/>
<line x1="501.7" y1="164" x2="501.7" y2="166.4" stroke="#999" stroke-width="0.8"/>
<text x="501.7" y="171" font-size="5.4" fill="#8a8a8a" text-anchor="middle">0.0</text>
<line x1="521.9" y1="164" x2="521.9" y2="166.4" stroke="#999" stroke-width="0.8"/>
<text x="521.9" y="171" font-size="5.4" fill="#8a8a8a" text-anchor="middle">0.1</text>
<line x1="542.1" y1="164" x2="542.1" y2="166.4" stroke="#999" stroke-width="0.8"/>
<text x="542.1" y="171" font-size="5.4" fill="#8a8a8a" text-anchor="middle">0.2</text>
<line x1="562.3" y1="164" x2="562.3" y2="166.4" stroke="#999" stroke-width="0.8"/>
<text x="562.3" y="171" font-size="5.4" fill="#8a8a8a" text-anchor="middle">0.3</text>
<line x1="582.5" y1="164" x2="582.5" y2="166.4" stroke="#999" stroke-width="0.8"/>
<text x="582.5" y="171" font-size="5.4" fill="#8a8a8a" text-anchor="middle">0.4</text>
<text x="603.9" y="171" font-size="4.6" fill="#999" text-anchor="middle" textLength="20.3" lengthAdjust="spacingAndGlyphs">Time [min]</text>
<polyline points="482.3,163 483.3,163 484.3,163 485.3,163 486.3,163 487.3,163 488.3,163 489.3,163 490.3,163 491.3,163 492.3,163 493.3,163 494.3,163 495.3,163 496.3,163 497.3,163 498.3,163 499.3,163 500.3,163 501.3,163 502.3,163.1 503.3,163.1 504.3,163.1 505.3,163.1 506.3,163.1 507.3,163.1 508.3,163.1 509.3,163.1 510.3,163.1 511.3,163.1 512.3,163.1 513.3,163.1 514.3,163 515.3,163 516.3,163 517.3,162.9 518.3,162.9 519.3,162.8 520.3,162.8 521.3,162.7 522.3,162.7 523.3,162.6 524.3,162.6 525.3,162.6 526.3,162.5 527.3,162.5 528.3,162.4 529.3,162.4 530.3,162.3 531.3,162.3 532.3,162.2 533.3,162.2 534.3,162.1 535.3,162 536.3,161.9 537.3,161.8 538.3,161.7 539.3,161.6 540.3,161.5 541.3,161.3 542.3,161.2 543.3,161.1 544.3,160.9 545.3,160.7 546.3,160.6 547.3,160.4 548.3,160.2 549.3,160.1 550.3,159.9 551.3,159.8 552.3,159.6 553.3,159.5 554.3,159.4 555.3,159.3 556.3,159.2 557.3,159.2 558.3,159.1 559.3,159.1 560.3,159.1 561.3,159.2 562.3,159.4 563.3,159.5 564.3,159.7 565.3,159.8 566.3,160 567.3,160.1 568.3,160.3 569.3,160.5 570.3,160.6 571.3,160.7 572.3,160.9 573.3,161 574.3,161.1 575.3,161.2 576.3,161.3 577.3,161.4 578.3,161.5 579.3,161.6 580.3,161.6 581.3,161.7 582.3,161.8 583.3,161.8 584.3,161.9 585.3,161.9 586.3,162 587.3,162 588.3,162.1 589.3,162.1 590.3,162.2 591.3,162.2 592.3,162.3 593.3,162.3 594.3,162.4 595.3,162.4 596.3,162.4 597.3,162.5 598.3,162.5 599.3,162.6 600.3,162.6 601.3,162.6 602.3,162.7 603.3,162.7 604.3,162.7 605.3,162.7 606.3,162.7 607.3,162.8 608.3,162.8 609.3,162.8 610.3,162.8 611.3,162.9 612.3,162.9 613.3,162.9 614.3,163 615.3,163 616.3,163 617.3,163.1" fill="none" stroke="#c4c4c4" stroke-width="0.8" stroke-linejoin="round"/>
<polyline points="482.3,163 483.3,163 484.3,163 485.3,163 486.3,162.9 487.3,162.9 488.3,163 489.3,163 490.3,163 491.3,163 492.3,163 493.3,163.1 494.3,163.1 495.3,163.1 496.3,163.1 497.3,163.1 498.3,163.2 499.3,163.2 500.3,163.2 501.3,163.1 502.3,163.1 503.3,163.1 504.3,163.1 505.3,163 506.3,163 507.3,163 508.3,162.9 509.3,162.9 510.3,162.9 511.3,162.8 512.3,162.8 513.3,162.8 514.3,162.8 515.3,162.8 516.3,162.8 517.3,162.8 518.3,162.9 519.3,162.9 520.3,162.9 521.3,163 522.3,163 523.3,163 524.3,163.1 525.3,163.1 526.3,163.1 527.3,163.1 528.3,163.1 529.3,163.1 530.3,163.1 531.3,163 532.3,162.9 533.3,162.8 534.3,162.6 535.3,162.4 536.3,162 537.3,161.5 538.3,160.7 539.3,159.7 540.3,158.4 541.3,156.8 542.3,154.9 543.3,152.6 544.3,150 545.3,147.3 546.3,144.5 547.3,141.9 548.3,139.6 549.3,138.5 550.3,139.3 551.3,140.8 552.3,142.4 553.3,144 554.3,145.6 555.3,147 556.3,148.2 557.3,149.6 558.3,151.2 559.3,152.5 560.3,153.7 561.3,154.7 562.3,155.7 563.3,156.5 564.3,157.2 565.3,157.9 566.3,158.5 567.3,159.1 568.3,159.7 569.3,160.2 570.3,160.6 571.3,161 572.3,161.4 573.3,161.7 574.3,162 575.3,162.2 576.3,162.4 577.3,162.5 578.3,162.6 579.3,162.7 580.3,162.8 581.3,162.8 582.3,162.9 583.3,162.9 584.3,162.9 585.3,162.9 586.3,162.9 587.3,162.9 588.3,162.9 589.3,162.9 590.3,162.9 591.3,162.9 592.3,162.9 593.3,162.9 594.3,162.9 595.3,163 596.3,163 597.3,163 598.3,163.1 599.3,163.1 600.3,163.1 601.3,163.2 602.3,163.2 603.3,163.2 604.3,163.2 605.3,163.2 606.3,163.2 607.3,163.2 608.3,163.2 609.3,163.2 610.3,163.1 611.3,163.1 612.3,163.1 613.3,163 614.3,163 615.3,162.9 616.3,162.9 617.3,162.9" fill="none" stroke="#6fa6d6" stroke-width="0.8" stroke-linejoin="round"/>
<polyline points="482.3,163 483.3,163 484.3,163 485.3,163 486.3,163 487.3,163 488.3,163 489.3,163 490.3,163 491.3,163 492.3,163 493.3,163 494.3,163 495.3,163 496.3,163 497.3,163 498.3,163 499.3,163 500.3,162.9 501.3,162.9 502.3,162.9 503.3,162.9 504.3,162.9 505.3,162.9 506.3,162.8 507.3,162.8 508.3,162.8 509.3,162.8 510.3,162.8 511.3,162.7 512.3,162.7 513.3,162.7 514.3,162.7 515.3,162.8 516.3,162.8 517.3,162.8 518.3,162.8 519.3,162.9 520.3,162.9 521.3,162.9 522.3,162.9 523.3,163 524.3,163 525.3,162.9 526.3,162.9 527.3,162.8 528.3,162.6 529.3,162.4 530.3,162.1 531.3,161.8 532.3,161.3 533.3,160.7 534.3,159.9 535.3,159.1 536.3,158 537.3,156.8 538.3,155.5 539.3,153.9 540.3,152.2 541.3,150.4 542.3,148.3 543.3,146.2 544.3,144 545.3,141.7 546.3,139.4 547.3,137.1 548.3,134.9 549.3,132.9 550.3,131.1 551.3,129.6 552.3,128.6 553.3,129.1 554.3,130.2 555.3,131.7 556.3,133.4 557.3,135.2 558.3,137.2 559.3,139.2 560.3,141.3 561.3,143.3 562.3,145.3 563.3,147.2 564.3,149 565.3,150.7 566.3,152.3 567.3,153.7 568.3,155 569.3,156.1 570.3,157.1 571.3,158 572.3,158.8 573.3,159.4 574.3,160 575.3,160.4 576.3,160.8 577.3,161.2 578.3,161.4 579.3,161.7 580.3,161.9 581.3,162.1 582.3,162.2 583.3,162.3 584.3,162.5 585.3,162.6 586.3,162.6 587.3,162.7 588.3,162.8 589.3,162.9 590.3,162.9 591.3,163 592.3,163 593.3,163 594.3,163 595.3,163.1 596.3,163.1 597.3,163.1 598.3,163.1 599.3,163.1 600.3,163.1 601.3,163.1 602.3,163.1 603.3,163.1 604.3,163.1 605.3,163 606.3,163 607.3,163 608.3,163 609.3,163 610.3,163 611.3,163 612.3,163 613.3,163 614.3,163 615.3,163 616.3,163 617.3,163" fill="none" stroke="#45d4f2" stroke-width="0.8" stroke-linejoin="round"/>
<polyline points="482.3,163.2 483.3,163.1 484.3,163.1 485.3,163.1 486.3,163.1 487.3,163.1 488.3,163.1 489.3,163 490.3,163 491.3,163 492.3,163 493.3,163 494.3,163 495.3,163 496.3,163 497.3,163 498.3,163 499.3,163 500.3,163 501.3,163 502.3,163 503.3,163 504.3,163 505.3,163 506.3,163 507.3,163 508.3,163 509.3,163 510.3,163 511.3,163 512.3,163 513.3,162.9 514.3,162.9 515.3,162.8 516.3,162.8 517.3,162.7 518.3,162.7 519.3,162.6 520.3,162.5 521.3,162.4 522.3,162.2 523.3,162 524.3,161.8 525.3,161.5 526.3,161.2 527.3,160.8 528.3,160.2 529.3,159.6 530.3,158.7 531.3,157.8 532.3,156.6 533.3,155.2 534.3,153.6 535.3,151.8 536.3,149.7 537.3,147.4 538.3,144.9 539.3,142.2 540.3,139.2 541.3,136.2 542.3,133 543.3,129.8 544.3,126.6 545.3,123.5 546.3,120.6 547.3,117.9 548.3,115.7 549.3,114 550.3,113.9 551.3,115.3 552.3,117.2 553.3,119.4 554.3,121.9 555.3,124.6 556.3,127.5 557.3,130.4 558.3,133.3 559.3,136.1 560.3,138.9 561.3,141.6 562.3,144.1 563.3,146.5 564.3,148.7 565.3,150.6 566.3,152.4 567.3,154 568.3,155.4 569.3,156.6 570.3,157.7 571.3,158.6 572.3,159.3 573.3,159.9 574.3,160.5 575.3,160.9 576.3,161.3 577.3,161.6 578.3,161.8 579.3,162 580.3,162.2 581.3,162.3 582.3,162.5 583.3,162.5 584.3,162.6 585.3,162.7 586.3,162.7 587.3,162.8 588.3,162.8 589.3,162.8 590.3,162.9 591.3,162.9 592.3,162.9 593.3,162.9 594.3,162.9 595.3,162.9 596.3,163 597.3,163 598.3,163 599.3,163 600.3,163 601.3,163.1 602.3,163.1 603.3,163.1 604.3,163.1 605.3,163.1 606.3,163.1 607.3,163.1 608.3,163 609.3,163 610.3,163 611.3,163 612.3,163 613.3,163 614.3,163 615.3,163 616.3,163 617.3,163" fill="none" stroke="#5cb0ee" stroke-width="0.8" stroke-linejoin="round"/>
<polyline points="482.3,162.7 483.3,162.7 484.3,162.6 485.3,162.6 486.3,162.6 487.3,162.6 488.3,162.6 489.3,162.7 490.3,162.7 491.3,162.7 492.3,162.8 493.3,162.8 494.3,162.8 495.3,162.8 496.3,162.9 497.3,162.9 498.3,162.9 499.3,162.8 500.3,162.8 501.3,162.8 502.3,162.7 503.3,162.7 504.3,162.6 505.3,162.6 506.3,162.6 507.3,162.5 508.3,162.5 509.3,162.5 510.3,162.5 511.3,162.6 512.3,162.6 513.3,162.6 514.3,162.7 515.3,162.7 516.3,162.7 517.3,162.7 518.3,162.7 519.3,162.6 520.3,162.5 521.3,162.3 522.3,162.1 523.3,161.8 524.3,161.4 525.3,160.9 526.3,160.3 527.3,159.6 528.3,158.8 529.3,157.8 530.3,156.7 531.3,155.4 532.3,153.8 533.3,152.1 534.3,150.1 535.3,147.8 536.3,145.3 537.3,142.6 538.3,139.6 539.3,136.3 540.3,132.9 541.3,129.3 542.3,125.5 543.3,121.7 544.3,118 545.3,114.3 546.3,110.8 547.3,107.6 548.3,104.9 549.3,102.8 550.3,102.7 551.3,104.2 552.3,106.4 553.3,109 554.3,112 555.3,115.2 556.3,118.6 557.3,122 558.3,125.6 559.3,129 560.3,132.5 561.3,135.7 562.3,138.8 563.3,141.8 564.3,144.4 565.3,146.9 566.3,149.1 567.3,151 568.3,152.7 569.3,154.2 570.3,155.5 571.3,156.6 572.3,157.5 573.3,158.3 574.3,159 575.3,159.6 576.3,160.1 577.3,160.6 578.3,161 579.3,161.3 580.3,161.7 581.3,162 582.3,162.3 583.3,162.5 584.3,162.7 585.3,162.9 586.3,163 587.3,163.1 588.3,163.1 589.3,163.1 590.3,163.1 591.3,163 592.3,162.9 593.3,162.8 594.3,162.7 595.3,162.6 596.3,162.6 597.3,162.5 598.3,162.4 599.3,162.4 600.3,162.4 601.3,162.5 602.3,162.5 603.3,162.6 604.3,162.6 605.3,162.7 606.3,162.8 607.3,162.8 608.3,162.8 609.3,162.8 610.3,162.8 611.3,162.8 612.3,162.7 613.3,162.6 614.3,162.5 615.3,162.4 616.3,162.3 617.3,162.2" fill="none" stroke="#5050f2" stroke-width="1.1" stroke-linejoin="round"/>
<polyline points="482.3,162.9 483.3,162.9 484.3,162.9 485.3,162.9 486.3,162.9 487.3,162.9 488.3,162.9 489.3,162.9 490.3,163 491.3,163 492.3,163.1 493.3,163.1 494.3,163.1 495.3,163.2 496.3,163.2 497.3,163.1 498.3,163.1 499.3,163.1 500.3,163 501.3,163 502.3,162.9 503.3,162.8 504.3,162.8 505.3,162.7 506.3,162.7 507.3,162.7 508.3,162.7 509.3,162.7 510.3,162.7 511.3,162.7 512.3,162.7 513.3,162.8 514.3,162.8 515.3,162.9 516.3,162.9 517.3,162.9 518.3,162.9 519.3,162.9 520.3,162.8 521.3,162.7 522.3,162.5 523.3,162.2 524.3,161.8 525.3,161.3 526.3,160.6 527.3,159.7 528.3,158.7 529.3,157.3 530.3,155.7 531.3,153.7 532.3,151.3 533.3,148.4 534.3,145 535.3,141 536.3,136.5 537.3,131.2 538.3,125.4 539.3,118.9 540.3,111.7 541.3,104 542.3,95.8 543.3,87.1 544.3,78 545.3,68.8 546.3,59.6 547.3,50.5 548.3,41.8 549.3,33.7 550.3,26.5 551.3,20.5 552.3,16.5 553.3,18.3 554.3,22.7 555.3,28.5 556.3,35.2 557.3,42.6 558.3,50.5 559.3,58.7 560.3,67 561.3,75.4 562.3,83.6 563.3,91.6 564.3,99.3 565.3,106.6 566.3,113.4 567.3,119.7 568.3,125.5 569.3,130.8 570.3,135.5 571.3,139.7 572.3,143.5 573.3,146.7 574.3,149.6 575.3,152 576.3,154.1 577.3,155.9 578.3,157.3 579.3,158.5 580.3,159.5 581.3,160.3 582.3,161 583.3,161.4 584.3,161.8 585.3,162.1 586.3,162.3 587.3,162.4 588.3,162.5 589.3,162.5 590.3,162.6 591.3,162.6 592.3,162.6 593.3,162.6 594.3,162.6 595.3,162.6 596.3,162.7 597.3,162.7 598.3,162.7 599.3,162.8 600.3,162.8 601.3,162.8 602.3,162.9 603.3,162.9 604.3,162.9 605.3,162.9 606.3,162.9 607.3,162.9 608.3,162.9 609.3,162.8 610.3,162.8 611.3,162.8 612.3,162.8 613.3,162.8 614.3,162.8 615.3,162.8 616.3,162.8 617.3,162.8" fill="none" stroke="#6c6cca" stroke-width="0.9" stroke-linejoin="round"/>
<line x1="493" y1="84.2" x2="528.6" y2="84.2" stroke="#777" stroke-width="0.6"/>
<circle cx="493" cy="84.2" r="3.9" fill="#6db33f" stroke="#444" stroke-width="0.7"/>
<path d="M500.8,84.2 L505.4,79.4 L510,84.2 Z" fill="#4a78cc" stroke="#555" stroke-width="0.5"/>
<path d="M500.8,84.2 L505.4,89 L510,84.2 Z" fill="#fff" stroke="#666" stroke-width="0.5"/>
<polygon points="522.3,84.2 520.1,87.9 515.9,87.9 513.7,84.2 515.9,80.5 520.1,80.5" fill="#882866" stroke="#333" stroke-width="0.6"/>
<circle cx="528.6" cy="84.2" r="2.9" fill="#fff" stroke="#777" stroke-width="0.6"/>
<text x="528.6" y="85.7" font-size="4" fill="#777" text-anchor="middle">P</text>
<line x1="515.6" y1="73.7" x2="515.6" y2="53.1" stroke="#555" stroke-width="0.6" stroke-dasharray="1.2,1.6"/>
<line x1="515.6" y1="73.7" x2="526" y2="73.7" stroke="#666" stroke-width="0.6"/>
<polygon points="515.6,59.3 516.8,62.4 520.1,62.5 517.5,64.6 518.4,67.8 515.6,66 512.8,67.8 513.7,64.6 511.1,62.5 514.4,62.4" fill="#dcdcdc" stroke="#3a3a3a" stroke-width="0.75" stroke-linejoin="round"/>
<polygon points="515.6,48.4 516.8,51.5 520.1,51.6 517.5,53.7 518.4,56.9 515.6,55.1 512.8,56.9 513.7,53.7 511.1,51.6 514.4,51.5" fill="#dcdcdc" stroke="#3a3a3a" stroke-width="0.75" stroke-linejoin="round"/>
<circle cx="515.6" cy="73.7" r="3.9" fill="#d4d4d4" stroke="#444" stroke-width="0.7"/>
<polygon points="526,69 527.2,72.1 530.5,72.2 527.9,74.3 528.8,77.5 526,75.7 523.2,77.5 524.1,74.3 521.5,72.2 524.8,72.1" fill="#dcdcdc" stroke="#3a3a3a" stroke-width="0.75" stroke-linejoin="round"/>
<line x1="123.3" y1="187.7" x2="260" y2="187.7" stroke="#a8a8a8" stroke-width="1.1"/>
<line x1="260" y1="187.7" x2="260" y2="347.6" stroke="#a8a8a8" stroke-width="1.1"/>
<line x1="123.3" y1="187.7" x2="123.3" y2="347.6" stroke="#8a8a8a" stroke-width="1.1"/>
<line x1="123.3" y1="347.6" x2="260" y2="347.6" stroke="#8a8a8a" stroke-width="1.1"/>
<line x1="121.5" y1="342.1" x2="123.3" y2="342.1" stroke="#aaa" stroke-width="0.7"/>
<line x1="121.5" y1="337.1" x2="123.3" y2="337.1" stroke="#aaa" stroke-width="0.7"/>
<line x1="121.5" y1="332.1" x2="123.3" y2="332.1" stroke="#aaa" stroke-width="0.7"/>
<line x1="121.5" y1="327.1" x2="123.3" y2="327.1" stroke="#aaa" stroke-width="0.7"/>
<line x1="121.5" y1="317.1" x2="123.3" y2="317.1" stroke="#aaa" stroke-width="0.7"/>
<line x1="121.5" y1="312.1" x2="123.3" y2="312.1" stroke="#aaa" stroke-width="0.7"/>
<line x1="121.5" y1="307.1" x2="123.3" y2="307.1" stroke="#aaa" stroke-width="0.7"/>
<line x1="121.5" y1="302.1" x2="123.3" y2="302.1" stroke="#aaa" stroke-width="0.7"/>
<line x1="121.5" y1="292.1" x2="123.3" y2="292.1" stroke="#aaa" stroke-width="0.7"/>
<line x1="121.5" y1="287.1" x2="123.3" y2="287.1" stroke="#aaa" stroke-width="0.7"/>
<line x1="121.5" y1="282.1" x2="123.3" y2="282.1" stroke="#aaa" stroke-width="0.7"/>
<line x1="121.5" y1="277.1" x2="123.3" y2="277.1" stroke="#aaa" stroke-width="0.7"/>
<line x1="121.5" y1="267.1" x2="123.3" y2="267.1" stroke="#aaa" stroke-width="0.7"/>
<line x1="121.5" y1="262.1" x2="123.3" y2="262.1" stroke="#aaa" stroke-width="0.7"/>
<line x1="121.5" y1="257.1" x2="123.3" y2="257.1" stroke="#aaa" stroke-width="0.7"/>
<line x1="121.5" y1="252.1" x2="123.3" y2="252.1" stroke="#aaa" stroke-width="0.7"/>
<line x1="121.5" y1="242.1" x2="123.3" y2="242.1" stroke="#aaa" stroke-width="0.7"/>
<line x1="121.5" y1="237.1" x2="123.3" y2="237.1" stroke="#aaa" stroke-width="0.7"/>
<line x1="121.5" y1="232.1" x2="123.3" y2="232.1" stroke="#aaa" stroke-width="0.7"/>
<line x1="121.5" y1="227.1" x2="123.3" y2="227.1" stroke="#aaa" stroke-width="0.7"/>
<line x1="121.5" y1="217.1" x2="123.3" y2="217.1" stroke="#aaa" stroke-width="0.7"/>
<line x1="121.5" y1="212.1" x2="123.3" y2="212.1" stroke="#aaa" stroke-width="0.7"/>
<line x1="121.5" y1="207.1" x2="123.3" y2="207.1" stroke="#aaa" stroke-width="0.7"/>
<line x1="121.5" y1="202.1" x2="123.3" y2="202.1" stroke="#aaa" stroke-width="0.7"/>
<line x1="121.5" y1="192.1" x2="123.3" y2="192.1" stroke="#aaa" stroke-width="0.7"/>
<line x1="120.8" y1="347.1" x2="123.3" y2="347.1" stroke="#999" stroke-width="0.8"/>
<text x="117.9" y="349.1" font-size="5.6" fill="#8e8e8e" text-anchor="end">0</text>
<line x1="120.8" y1="322.1" x2="123.3" y2="322.1" stroke="#999" stroke-width="0.8"/>
<text x="117.9" y="324.1" font-size="5.6" fill="#8e8e8e" text-anchor="end">500</text>
<line x1="120.8" y1="297.1" x2="123.3" y2="297.1" stroke="#999" stroke-width="0.8"/>
<text x="117.9" y="299.1" font-size="5.6" fill="#8e8e8e" text-anchor="end">1000</text>
<line x1="120.8" y1="272.1" x2="123.3" y2="272.1" stroke="#999" stroke-width="0.8"/>
<text x="117.9" y="274.1" font-size="5.6" fill="#8e8e8e" text-anchor="end">1500</text>
<line x1="120.8" y1="247.1" x2="123.3" y2="247.1" stroke="#999" stroke-width="0.8"/>
<text x="117.9" y="249.1" font-size="5.6" fill="#8e8e8e" text-anchor="end">2000</text>
<line x1="120.8" y1="222.1" x2="123.3" y2="222.1" stroke="#999" stroke-width="0.8"/>
<text x="117.9" y="224.1" font-size="5.6" fill="#8e8e8e" text-anchor="end">2500</text>
<line x1="120.8" y1="197.1" x2="123.3" y2="197.1" stroke="#999" stroke-width="0.8"/>
<text x="117.9" y="199.1" font-size="5.6" fill="#8e8e8e" text-anchor="end">3000</text>
<text x="116.3" y="191.3" font-size="5" fill="#999" text-anchor="end" textLength="12.3" lengthAdjust="spacingAndGlyphs">Intens.</text>
<line x1="124.8" y1="347.6" x2="124.8" y2="349.2" stroke="#999" stroke-width="0.7"/>
<line x1="128.8" y1="347.6" x2="128.8" y2="349.2" stroke="#999" stroke-width="0.7"/>
<line x1="132.8" y1="347.6" x2="132.8" y2="349.2" stroke="#999" stroke-width="0.7"/>
<line x1="136.8" y1="347.6" x2="136.8" y2="349.2" stroke="#999" stroke-width="0.7"/>
<line x1="140.7" y1="347.6" x2="140.7" y2="349.2" stroke="#999" stroke-width="0.7"/>
<line x1="144.7" y1="347.6" x2="144.7" y2="349.2" stroke="#999" stroke-width="0.7"/>
<line x1="148.7" y1="347.6" x2="148.7" y2="349.2" stroke="#999" stroke-width="0.7"/>
<line x1="152.6" y1="347.6" x2="152.6" y2="349.2" stroke="#999" stroke-width="0.7"/>
<line x1="156.6" y1="347.6" x2="156.6" y2="349.2" stroke="#999" stroke-width="0.7"/>
<line x1="160.6" y1="347.6" x2="160.6" y2="349.2" stroke="#999" stroke-width="0.7"/>
<line x1="164.5" y1="347.6" x2="164.5" y2="349.2" stroke="#999" stroke-width="0.7"/>
<line x1="168.5" y1="347.6" x2="168.5" y2="349.2" stroke="#999" stroke-width="0.7"/>
<line x1="172.5" y1="347.6" x2="172.5" y2="349.2" stroke="#999" stroke-width="0.7"/>
<line x1="176.5" y1="347.6" x2="176.5" y2="349.2" stroke="#999" stroke-width="0.7"/>
<line x1="180.4" y1="347.6" x2="180.4" y2="349.2" stroke="#999" stroke-width="0.7"/>
<line x1="184.4" y1="347.6" x2="184.4" y2="349.2" stroke="#999" stroke-width="0.7"/>
<line x1="188.4" y1="347.6" x2="188.4" y2="349.2" stroke="#999" stroke-width="0.7"/>
<line x1="192.3" y1="347.6" x2="192.3" y2="349.2" stroke="#999" stroke-width="0.7"/>
<line x1="196.3" y1="347.6" x2="196.3" y2="349.2" stroke="#999" stroke-width="0.7"/>
<line x1="200.3" y1="347.6" x2="200.3" y2="349.2" stroke="#999" stroke-width="0.7"/>
<line x1="204.2" y1="347.6" x2="204.2" y2="349.2" stroke="#999" stroke-width="0.7"/>
<line x1="208.2" y1="347.6" x2="208.2" y2="349.2" stroke="#999" stroke-width="0.7"/>
<line x1="212.2" y1="347.6" x2="212.2" y2="349.2" stroke="#999" stroke-width="0.7"/>
<line x1="216.2" y1="347.6" x2="216.2" y2="349.2" stroke="#999" stroke-width="0.7"/>
<line x1="220.1" y1="347.6" x2="220.1" y2="349.2" stroke="#999" stroke-width="0.7"/>
<line x1="224.1" y1="347.6" x2="224.1" y2="349.2" stroke="#999" stroke-width="0.7"/>
<line x1="228.1" y1="347.6" x2="228.1" y2="349.2" stroke="#999" stroke-width="0.7"/>
<line x1="232" y1="347.6" x2="232" y2="349.2" stroke="#999" stroke-width="0.7"/>
<line x1="236" y1="347.6" x2="236" y2="349.2" stroke="#999" stroke-width="0.7"/>
<line x1="144.7" y1="347.6" x2="144.7" y2="350" stroke="#999" stroke-width="0.8"/>
<text x="144.7" y="354.6" font-size="5.4" fill="#8a8a8a" text-anchor="middle">0.0</text>
<line x1="164.5" y1="347.6" x2="164.5" y2="350" stroke="#999" stroke-width="0.8"/>
<text x="164.5" y="354.6" font-size="5.4" fill="#8a8a8a" text-anchor="middle">0.1</text>
<line x1="184.4" y1="347.6" x2="184.4" y2="350" stroke="#999" stroke-width="0.8"/>
<text x="184.4" y="354.6" font-size="5.4" fill="#8a8a8a" text-anchor="middle">0.2</text>
<line x1="204.2" y1="347.6" x2="204.2" y2="350" stroke="#999" stroke-width="0.8"/>
<text x="204.2" y="354.6" font-size="5.4" fill="#8a8a8a" text-anchor="middle">0.3</text>
<line x1="224.1" y1="347.6" x2="224.1" y2="350" stroke="#999" stroke-width="0.8"/>
<text x="224.1" y="354.6" font-size="5.4" fill="#8a8a8a" text-anchor="middle">0.4</text>
<text x="246.2" y="354.6" font-size="4.6" fill="#999" text-anchor="middle" textLength="20.3" lengthAdjust="spacingAndGlyphs">Time [min]</text>
<polyline points="124.3,346.5 125.3,346.5 126.3,346.4 127.3,346.4 128.3,346.4 129.3,346.5 130.3,346.5 131.3,346.6 132.3,346.6 133.3,346.6 134.3,346.7 135.3,346.7 136.3,346.7 137.3,346.7 138.3,346.7 139.3,346.7 140.3,346.7 141.3,346.6 142.3,346.6 143.3,346.6 144.3,346.5 145.3,346.5 146.3,346.4 147.3,346.4 148.3,346.3 149.3,346.3 150.3,346.3 151.3,346.3 152.3,346.2 153.3,346.2 154.3,346.2 155.3,346.2 156.3,346.1 157.3,346.1 158.3,346 159.3,345.9 160.3,345.9 161.3,345.8 162.3,345.7 163.3,345.6 164.3,345.4 165.3,345.3 166.3,345.2 167.3,345.1 168.3,345 169.3,344.9 170.3,344.8 171.3,344.7 172.3,344.6 173.3,344.5 174.3,344.4 175.3,344.2 176.3,344.1 177.3,344 178.3,343.9 179.3,343.8 180.3,343.6 181.3,343.5 182.3,343.4 183.3,343.3 184.3,343.2 185.3,343.1 186.3,343.1 187.3,343.1 188.3,343.2 189.3,343.3 190.3,343.4 191.3,343.5 192.3,343.7 193.3,343.8 194.3,344 195.3,344.2 196.3,344.4 197.3,344.5 198.3,344.7 199.3,344.8 200.3,345 201.3,345.1 202.3,345.2 203.3,345.2 204.3,345.3 205.3,345.3 206.3,345.4 207.3,345.4 208.3,345.4 209.3,345.5 210.3,345.5 211.3,345.5 212.3,345.6 213.3,345.6 214.3,345.7 215.3,345.8 216.3,345.8 217.3,345.9 218.3,346 219.3,346.1 220.3,346.2 221.3,346.2 222.3,346.3 223.3,346.3 224.3,346.4 225.3,346.4 226.3,346.4 227.3,346.4 228.3,346.4 229.3,346.3 230.3,346.3 231.3,346.3 232.3,346.3 233.3,346.3 234.3,346.3 235.3,346.3 236.3,346.3 237.3,346.3 238.3,346.4 239.3,346.4 240.3,346.4 241.3,346.5 242.3,346.5 243.3,346.5 244.3,346.5 245.3,346.6 246.3,346.6 247.3,346.6 248.3,346.6 249.3,346.6 250.3,346.6 251.3,346.6 252.3,346.6 253.3,346.6 254.3,346.6 255.3,346.6 256.3,346.6 257.3,346.6 258.3,346.6" fill="none" stroke="#c4c4c4" stroke-width="0.8" stroke-linejoin="round"/>
<polyline points="124.3,346.8 125.3,346.8 126.3,346.7 127.3,346.7 128.3,346.7 129.3,346.7 130.3,346.6 131.3,346.6 132.3,346.6 133.3,346.5 134.3,346.5 135.3,346.5 136.3,346.4 137.3,346.4 138.3,346.4 139.3,346.4 140.3,346.4 141.3,346.4 142.3,346.4 143.3,346.4 144.3,346.5 145.3,346.5 146.3,346.5 147.3,346.6 148.3,346.6 149.3,346.6 150.3,346.7 151.3,346.7 152.3,346.7 153.3,346.7 154.3,346.7 155.3,346.7 156.3,346.7 157.3,346.7 158.3,346.7 159.3,346.7 160.3,346.7 161.3,346.6 162.3,346.6 163.3,346.5 164.3,346.4 165.3,346.3 166.3,346.2 167.3,346.1 168.3,345.9 169.3,345.6 170.3,345.3 171.3,344.8 172.3,344.3 173.3,343.7 174.3,342.9 175.3,342 176.3,341 177.3,339.9 178.3,338.7 179.3,337.4 180.3,336.1 181.3,334.7 182.3,333.5 183.3,332.3 184.3,331.4 185.3,331.4 186.3,331.9 187.3,332.5 188.3,333.3 189.3,334.1 190.3,334.9 191.3,335.6 192.3,336.2 193.3,336.7 194.3,337.2 195.3,337.6 196.3,338.2 197.3,338.9 198.3,339.5 199.3,340.2 200.3,340.7 201.3,341.3 202.3,341.8 203.3,342.3 204.3,342.7 205.3,343.2 206.3,343.6 207.3,343.9 208.3,344.3 209.3,344.6 210.3,344.9 211.3,345.2 212.3,345.4 213.3,345.6 214.3,345.8 215.3,345.9 216.3,346 217.3,346.1 218.3,346.1 219.3,346.2 220.3,346.2 221.3,346.2 222.3,346.2 223.3,346.2 224.3,346.2 225.3,346.2 226.3,346.2 227.3,346.2 228.3,346.3 229.3,346.3 230.3,346.3 231.3,346.3 232.3,346.4 233.3,346.4 234.3,346.5 235.3,346.5 236.3,346.6 237.3,346.6 238.3,346.7 239.3,346.7 240.3,346.7 241.3,346.8 242.3,346.8 243.3,346.8 244.3,346.8 245.3,346.8 246.3,346.8 247.3,346.7 248.3,346.7 249.3,346.7 250.3,346.7 251.3,346.6 252.3,346.6 253.3,346.6 254.3,346.6 255.3,346.6 256.3,346.6 257.3,346.6 258.3,346.6" fill="none" stroke="#6fa6d6" stroke-width="0.8" stroke-linejoin="round"/>
<polyline points="124.3,346.6 125.3,346.6 126.3,346.7 127.3,346.7 128.3,346.8 129.3,346.8 130.3,346.8 131.3,346.8 132.3,346.9 133.3,346.9 134.3,346.9 135.3,346.9 136.3,346.8 137.3,346.8 138.3,346.8 139.3,346.8 140.3,346.8 141.3,346.8 142.3,346.7 143.3,346.7 144.3,346.7 145.3,346.6 146.3,346.6 147.3,346.6 148.3,346.6 149.3,346.5 150.3,346.5 151.3,346.5 152.3,346.5 153.3,346.5 154.3,346.5 155.3,346.5 156.3,346.5 157.3,346.5 158.3,346.5 159.3,346.6 160.3,346.6 161.3,346.6 162.3,346.7 163.3,346.7 164.3,346.7 165.3,346.7 166.3,346.7 167.3,346.6 168.3,346.6 169.3,346.5 170.3,346.3 171.3,346.2 172.3,346 173.3,345.7 174.3,345.3 175.3,344.9 176.3,344.4 177.3,343.8 178.3,343.1 179.3,342.2 180.3,341.3 181.3,340.2 182.3,338.9 183.3,337.5 184.3,336 185.3,334.4 186.3,332.7 187.3,331 188.3,329.2 189.3,327.5 190.3,325.9 191.3,324.4 192.3,323.2 193.3,322.5 194.3,323.1 195.3,324.1 196.3,325.4 197.3,326.8 198.3,328.4 199.3,330 200.3,331.6 201.3,333.2 202.3,334.8 203.3,336.3 204.3,337.7 205.3,339 206.3,340.1 207.3,341.2 208.3,342.2 209.3,343 210.3,343.8 211.3,344.4 212.3,345 213.3,345.4 214.3,345.8 215.3,346.1 216.3,346.4 217.3,346.6 218.3,346.7 219.3,346.8 220.3,346.8 221.3,346.8 222.3,346.8 223.3,346.8 224.3,346.7 225.3,346.6 226.3,346.6 227.3,346.5 228.3,346.4 229.3,346.4 230.3,346.4 231.3,346.3 232.3,346.4 233.3,346.4 234.3,346.4 235.3,346.4 236.3,346.5 237.3,346.6 238.3,346.6 239.3,346.7 240.3,346.7 241.3,346.8 242.3,346.8 243.3,346.8 244.3,346.8 245.3,346.8 246.3,346.8 247.3,346.7 248.3,346.7 249.3,346.6 250.3,346.6 251.3,346.5 252.3,346.5 253.3,346.4 254.3,346.4 255.3,346.4 256.3,346.3 257.3,346.3 258.3,346.3" fill="none" stroke="#45d4f2" stroke-width="0.8" stroke-linejoin="round"/>
<polyline points="124.3,346.6 125.3,346.6 126.3,346.6 127.3,346.7 128.3,346.7 129.3,346.7 130.3,346.7 131.3,346.7 132.3,346.7 133.3,346.7 134.3,346.7 135.3,346.7 136.3,346.7 137.3,346.6 138.3,346.6 139.3,346.6 140.3,346.6 141.3,346.5 142.3,346.5 143.3,346.5 144.3,346.5 145.3,346.5 146.3,346.4 147.3,346.4 148.3,346.4 149.3,346.3 150.3,346.2 151.3,346.1 152.3,346 153.3,345.8 154.3,345.6 155.3,345.2 156.3,344.9 157.3,344.4 158.3,343.8 159.3,343.1 160.3,342.3 161.3,341.4 162.3,340.2 163.3,339 164.3,337.5 165.3,335.9 166.3,334.1 167.3,332 168.3,329.8 169.3,327.5 170.3,324.9 171.3,322.2 172.3,319.4 173.3,316.5 174.3,313.5 175.3,310.5 176.3,307.6 177.3,304.7 178.3,302 179.3,299.5 180.3,297.3 181.3,295.6 182.3,294.7 183.3,295.7 184.3,297.2 185.3,299.2 186.3,301.3 187.3,303.7 188.3,306.3 189.3,309 190.3,311.7 191.3,314.4 192.3,317.2 193.3,319.9 194.3,322.4 195.3,324.9 196.3,327.3 197.3,329.5 198.3,331.6 199.3,333.5 200.3,335.2 201.3,336.7 202.3,338.1 203.3,339.4 204.3,340.5 205.3,341.4 206.3,342.2 207.3,342.9 208.3,343.5 209.3,344 210.3,344.5 211.3,344.9 212.3,345.2 213.3,345.5 214.3,345.7 215.3,345.9 216.3,346.1 217.3,346.2 218.3,346.4 219.3,346.5 220.3,346.6 221.3,346.6 222.3,346.7 223.3,346.8 224.3,346.8 225.3,346.8 226.3,346.8 227.3,346.8 228.3,346.8 229.3,346.7 230.3,346.7 231.3,346.6 232.3,346.5 233.3,346.5 234.3,346.4 235.3,346.3 236.3,346.3 237.3,346.2 238.3,346.2 239.3,346.2 240.3,346.2 241.3,346.2 242.3,346.3 243.3,346.3 244.3,346.4 245.3,346.4 246.3,346.5 247.3,346.6 248.3,346.7 249.3,346.8 250.3,346.8 251.3,346.9 252.3,346.9 253.3,347 254.3,347 255.3,347 256.3,346.9 257.3,346.9 258.3,346.9" fill="none" stroke="#5cb0ee" stroke-width="0.8" stroke-linejoin="round"/>
<polyline points="124.3,346.3 125.3,346.4 126.3,346.4 127.3,346.4 128.3,346.5 129.3,346.5 130.3,346.5 131.3,346.5 132.3,346.6 133.3,346.6 134.3,346.6 135.3,346.6 136.3,346.7 137.3,346.7 138.3,346.7 139.3,346.7 140.3,346.7 141.3,346.7 142.3,346.7 143.3,346.7 144.3,346.6 145.3,346.6 146.3,346.5 147.3,346.5 148.3,346.4 149.3,346.3 150.3,346.2 151.3,346 152.3,345.8 153.3,345.6 154.3,345.3 155.3,344.9 156.3,344.4 157.3,343.9 158.3,343.3 159.3,342.5 160.3,341.6 161.3,340.6 162.3,339.4 163.3,338 164.3,336.5 165.3,334.8 166.3,332.9 167.3,330.8 168.3,328.5 169.3,326 170.3,323.4 171.3,320.7 172.3,317.8 173.3,314.8 174.3,311.8 175.3,308.8 176.3,305.8 177.3,302.9 178.3,300.2 179.3,297.7 180.3,295.6 181.3,293.8 182.3,293 183.3,294 184.3,295.5 185.3,297.5 186.3,299.7 187.3,302.1 188.3,304.7 189.3,307.4 190.3,310.1 191.3,312.9 192.3,315.7 193.3,318.4 194.3,321.1 195.3,323.6 196.3,326 197.3,328.3 198.3,330.5 199.3,332.4 200.3,334.2 201.3,335.9 202.3,337.4 203.3,338.7 204.3,339.9 205.3,340.9 206.3,341.8 207.3,342.6 208.3,343.2 209.3,343.8 210.3,344.3 211.3,344.7 212.3,345 213.3,345.3 214.3,345.5 215.3,345.7 216.3,345.8 217.3,346 218.3,346 219.3,346.1 220.3,346.2 221.3,346.2 222.3,346.3 223.3,346.3 224.3,346.3 225.3,346.3 226.3,346.4 227.3,346.4 228.3,346.4 229.3,346.4 230.3,346.4 231.3,346.4 232.3,346.4 233.3,346.4 234.3,346.4 235.3,346.5 236.3,346.5 237.3,346.5 238.3,346.5 239.3,346.5 240.3,346.5 241.3,346.5 242.3,346.5 243.3,346.5 244.3,346.5 245.3,346.5 246.3,346.5 247.3,346.5 248.3,346.5 249.3,346.5 250.3,346.5 251.3,346.5 252.3,346.5 253.3,346.5 254.3,346.5 255.3,346.4 256.3,346.4 257.3,346.4 258.3,346.4" fill="none" stroke="#5050f2" stroke-width="1.1" stroke-linejoin="round"/>
<polyline points="124.3,346.8 125.3,346.8 126.3,346.8 127.3,346.8 128.3,346.8 129.3,346.8 130.3,346.9 131.3,346.9 132.3,346.9 133.3,346.9 134.3,346.9 135.3,346.9 136.3,346.9 137.3,346.9 138.3,346.9 139.3,346.8 140.3,346.8 141.3,346.8 142.3,346.8 143.3,346.7 144.3,346.7 145.3,346.6 146.3,346.5 147.3,346.4 148.3,346.2 149.3,346 150.3,345.8 151.3,345.5 152.3,345.1 153.3,344.6 154.3,344 155.3,343.3 156.3,342.4 157.3,341.3 158.3,340 159.3,338.4 160.3,336.5 161.3,334.4 162.3,331.8 163.3,328.9 164.3,325.5 165.3,321.6 166.3,317.3 167.3,312.5 168.3,307.1 169.3,301.3 170.3,294.9 171.3,288.1 172.3,280.9 173.3,273.3 174.3,265.5 175.3,257.4 176.3,249.2 177.3,241.1 178.3,233.1 179.3,225.3 180.3,218.1 181.3,211.4 182.3,205.7 183.3,201.2 184.3,199.4 185.3,202.3 186.3,206.7 187.3,212.1 188.3,218.3 189.3,225 190.3,232.2 191.3,239.6 192.3,247.2 193.3,254.9 194.3,262.5 195.3,270 196.3,277.3 197.3,284.2 198.3,290.8 199.3,297.1 200.3,302.9 201.3,308.3 202.3,313.2 203.3,317.7 204.3,321.7 205.3,325.3 206.3,328.4 207.3,331.2 208.3,333.6 209.3,335.7 210.3,337.5 211.3,339.1 212.3,340.4 213.3,341.5 214.3,342.4 215.3,343.1 216.3,343.7 217.3,344.3 218.3,344.7 219.3,345 220.3,345.3 221.3,345.5 222.3,345.7 223.3,345.9 224.3,346 225.3,346.1 226.3,346.2 227.3,346.2 228.3,346.3 229.3,346.4 230.3,346.4 231.3,346.4 232.3,346.5 233.3,346.5 234.3,346.5 235.3,346.6 236.3,346.6 237.3,346.6 238.3,346.6 239.3,346.7 240.3,346.7 241.3,346.7 242.3,346.7 243.3,346.7 244.3,346.7 245.3,346.7 246.3,346.7 247.3,346.7 248.3,346.7 249.3,346.7 250.3,346.7 251.3,346.7 252.3,346.7 253.3,346.7 254.3,346.7 255.3,346.7 256.3,346.7 257.3,346.7 258.3,346.7" fill="none" stroke="#6c6cca" stroke-width="0.9" stroke-linejoin="round"/>
<line x1="129.8" y1="269.7" x2="165.5" y2="269.7" stroke="#777" stroke-width="0.6"/>
<circle cx="129.8" cy="269.7" r="3.9" fill="#6db33f" stroke="#444" stroke-width="0.7"/>
<path d="M137.7,269.7 L142.3,264.9 L146.9,269.7 Z" fill="#4a78cc" stroke="#555" stroke-width="0.5"/>
<path d="M137.7,269.7 L142.3,274.5 L146.9,269.7 Z" fill="#fff" stroke="#666" stroke-width="0.5"/>
<polygon points="159.2,269.7 157.1,273.4 152.8,273.4 150.6,269.7 152.8,266 157.1,266" fill="#882866" stroke="#333" stroke-width="0.6"/>
<circle cx="165.5" cy="269.7" r="2.9" fill="#fff" stroke="#777" stroke-width="0.6"/>
<text x="165.5" y="271.2" font-size="4" fill="#777" text-anchor="middle">P</text>
<line x1="152.1" y1="259.5" x2="152.1" y2="225.5" stroke="#555" stroke-width="0.6" stroke-dasharray="1.2,1.6"/>
<line x1="152.1" y1="259.5" x2="162.7" y2="259.5" stroke="#666" stroke-width="0.6"/>
<polygon points="152.1,244.9 153.3,248 156.6,248.1 154,250.2 154.9,253.4 152.1,251.6 149.3,253.4 150.2,250.2 147.6,248.1 150.9,248" fill="#dcdcdc" stroke="#3a3a3a" stroke-width="0.75" stroke-linejoin="round"/>
<polygon points="152.1,233.9 153.3,237 156.6,237.1 154,239.2 154.9,242.4 152.1,240.6 149.3,242.4 150.2,239.2 147.6,237.1 150.9,237" fill="#dcdcdc" stroke="#3a3a3a" stroke-width="0.75" stroke-linejoin="round"/>
<polygon points="152.1,220.8 153.3,223.9 156.6,224 154,226.1 154.9,229.3 152.1,227.5 149.3,229.3 150.2,226.1 147.6,224 150.9,223.9" fill="#dcdcdc" stroke="#3a3a3a" stroke-width="0.75" stroke-linejoin="round"/>
<circle cx="152.1" cy="259.5" r="3.9" fill="#d4d4d4" stroke="#444" stroke-width="0.7"/>
<polygon points="162.7,254.8 163.9,257.9 167.2,258 164.6,260.1 165.5,263.3 162.7,261.5 159.9,263.3 160.8,260.1 158.2,258 161.5,257.9" fill="#dcdcdc" stroke="#3a3a3a" stroke-width="0.75" stroke-linejoin="round"/>
<line x1="305" y1="188.2" x2="441.6" y2="188.2" stroke="#a8a8a8" stroke-width="1.1"/>
<line x1="441.6" y1="188.2" x2="441.6" y2="347.6" stroke="#a8a8a8" stroke-width="1.1"/>
<line x1="305" y1="188.2" x2="305" y2="347.6" stroke="#8a8a8a" stroke-width="1.1"/>
<line x1="305" y1="347.6" x2="441.6" y2="347.6" stroke="#8a8a8a" stroke-width="1.1"/>
<line x1="303.2" y1="342.5" x2="305" y2="342.5" stroke="#aaa" stroke-width="0.7"/>
<line x1="303.2" y1="337.9" x2="305" y2="337.9" stroke="#aaa" stroke-width="0.7"/>
<line x1="303.2" y1="333.2" x2="305" y2="333.2" stroke="#aaa" stroke-width="0.7"/>
<line x1="303.2" y1="328.6" x2="305" y2="328.6" stroke="#aaa" stroke-width="0.7"/>
<line x1="303.2" y1="319.4" x2="305" y2="319.4" stroke="#aaa" stroke-width="0.7"/>
<line x1="303.2" y1="314.8" x2="305" y2="314.8" stroke="#aaa" stroke-width="0.7"/>
<line x1="303.2" y1="310.1" x2="305" y2="310.1" stroke="#aaa" stroke-width="0.7"/>
<line x1="303.2" y1="305.5" x2="305" y2="305.5" stroke="#aaa" stroke-width="0.7"/>
<line x1="303.2" y1="296.3" x2="305" y2="296.3" stroke="#aaa" stroke-width="0.7"/>
<line x1="303.2" y1="291.7" x2="305" y2="291.7" stroke="#aaa" stroke-width="0.7"/>
<line x1="303.2" y1="287" x2="305" y2="287" stroke="#aaa" stroke-width="0.7"/>
<line x1="303.2" y1="282.4" x2="305" y2="282.4" stroke="#aaa" stroke-width="0.7"/>
<line x1="303.2" y1="273.2" x2="305" y2="273.2" stroke="#aaa" stroke-width="0.7"/>
<line x1="303.2" y1="268.6" x2="305" y2="268.6" stroke="#aaa" stroke-width="0.7"/>
<line x1="303.2" y1="263.9" x2="305" y2="263.9" stroke="#aaa" stroke-width="0.7"/>
<line x1="303.2" y1="259.3" x2="305" y2="259.3" stroke="#aaa" stroke-width="0.7"/>
<line x1="303.2" y1="250.1" x2="305" y2="250.1" stroke="#aaa" stroke-width="0.7"/>
<line x1="303.2" y1="245.5" x2="305" y2="245.5" stroke="#aaa" stroke-width="0.7"/>
<line x1="303.2" y1="240.8" x2="305" y2="240.8" stroke="#aaa" stroke-width="0.7"/>
<line x1="303.2" y1="236.2" x2="305" y2="236.2" stroke="#aaa" stroke-width="0.7"/>
<line x1="303.2" y1="227" x2="305" y2="227" stroke="#aaa" stroke-width="0.7"/>
<line x1="303.2" y1="222.4" x2="305" y2="222.4" stroke="#aaa" stroke-width="0.7"/>
<line x1="303.2" y1="217.7" x2="305" y2="217.7" stroke="#aaa" stroke-width="0.7"/>
<line x1="303.2" y1="213.1" x2="305" y2="213.1" stroke="#aaa" stroke-width="0.7"/>
<line x1="303.2" y1="203.9" x2="305" y2="203.9" stroke="#aaa" stroke-width="0.7"/>
<line x1="302.5" y1="347.1" x2="305" y2="347.1" stroke="#999" stroke-width="0.8"/>
<text x="299.6" y="349.1" font-size="5.6" fill="#8e8e8e" text-anchor="end">0</text>
<line x1="302.5" y1="324" x2="305" y2="324" stroke="#999" stroke-width="0.8"/>
<text x="299.6" y="326" font-size="5.6" fill="#8e8e8e" text-anchor="end">250</text>
<line x1="302.5" y1="300.9" x2="305" y2="300.9" stroke="#999" stroke-width="0.8"/>
<text x="299.6" y="302.9" font-size="5.6" fill="#8e8e8e" text-anchor="end">500</text>
<line x1="302.5" y1="277.8" x2="305" y2="277.8" stroke="#999" stroke-width="0.8"/>
<text x="299.6" y="279.8" font-size="5.6" fill="#8e8e8e" text-anchor="end">750</text>
<line x1="302.5" y1="254.7" x2="305" y2="254.7" stroke="#999" stroke-width="0.8"/>
<text x="299.6" y="256.7" font-size="5.6" fill="#8e8e8e" text-anchor="end">1000</text>
<line x1="302.5" y1="231.6" x2="305" y2="231.6" stroke="#999" stroke-width="0.8"/>
<text x="299.6" y="233.6" font-size="5.6" fill="#8e8e8e" text-anchor="end">1250</text>
<line x1="302.5" y1="208.5" x2="305" y2="208.5" stroke="#999" stroke-width="0.8"/>
<text x="299.6" y="210.5" font-size="5.6" fill="#8e8e8e" text-anchor="end">1500</text>
<text x="298.4" y="192" font-size="5" fill="#999" text-anchor="end" textLength="12.1" lengthAdjust="spacingAndGlyphs">Intens.</text>
<line x1="304.7" y1="347.6" x2="304.7" y2="349.2" stroke="#999" stroke-width="0.7"/>
<line x1="308.7" y1="347.6" x2="308.7" y2="349.2" stroke="#999" stroke-width="0.7"/>
<line x1="312.7" y1="347.6" x2="312.7" y2="349.2" stroke="#999" stroke-width="0.7"/>
<line x1="316.7" y1="347.6" x2="316.7" y2="349.2" stroke="#999" stroke-width="0.7"/>
<line x1="320.7" y1="347.6" x2="320.7" y2="349.2" stroke="#999" stroke-width="0.7"/>
<line x1="324.7" y1="347.6" x2="324.7" y2="349.2" stroke="#999" stroke-width="0.7"/>
<line x1="328.7" y1="347.6" x2="328.7" y2="349.2" stroke="#999" stroke-width="0.7"/>
<line x1="332.7" y1="347.6" x2="332.7" y2="349.2" stroke="#999" stroke-width="0.7"/>
<line x1="336.7" y1="347.6" x2="336.7" y2="349.2" stroke="#999" stroke-width="0.7"/>
<line x1="340.7" y1="347.6" x2="340.7" y2="349.2" stroke="#999" stroke-width="0.7"/>
<line x1="344.7" y1="347.6" x2="344.7" y2="349.2" stroke="#999" stroke-width="0.7"/>
<line x1="348.7" y1="347.6" x2="348.7" y2="349.2" stroke="#999" stroke-width="0.7"/>
<line x1="352.7" y1="347.6" x2="352.7" y2="349.2" stroke="#999" stroke-width="0.7"/>
<line x1="356.7" y1="347.6" x2="356.7" y2="349.2" stroke="#999" stroke-width="0.7"/>
<line x1="360.7" y1="347.6" x2="360.7" y2="349.2" stroke="#999" stroke-width="0.7"/>
<line x1="364.7" y1="347.6" x2="364.7" y2="349.2" stroke="#999" stroke-width="0.7"/>
<line x1="368.7" y1="347.6" x2="368.7" y2="349.2" stroke="#999" stroke-width="0.7"/>
<line x1="372.7" y1="347.6" x2="372.7" y2="349.2" stroke="#999" stroke-width="0.7"/>
<line x1="376.7" y1="347.6" x2="376.7" y2="349.2" stroke="#999" stroke-width="0.7"/>
<line x1="380.7" y1="347.6" x2="380.7" y2="349.2" stroke="#999" stroke-width="0.7"/>
<line x1="384.7" y1="347.6" x2="384.7" y2="349.2" stroke="#999" stroke-width="0.7"/>
<line x1="388.7" y1="347.6" x2="388.7" y2="349.2" stroke="#999" stroke-width="0.7"/>
<line x1="392.7" y1="347.6" x2="392.7" y2="349.2" stroke="#999" stroke-width="0.7"/>
<line x1="396.7" y1="347.6" x2="396.7" y2="349.2" stroke="#999" stroke-width="0.7"/>
<line x1="400.7" y1="347.6" x2="400.7" y2="349.2" stroke="#999" stroke-width="0.7"/>
<line x1="404.7" y1="347.6" x2="404.7" y2="349.2" stroke="#999" stroke-width="0.7"/>
<line x1="408.7" y1="347.6" x2="408.7" y2="349.2" stroke="#999" stroke-width="0.7"/>
<line x1="412.7" y1="347.6" x2="412.7" y2="349.2" stroke="#999" stroke-width="0.7"/>
<line x1="416.7" y1="347.6" x2="416.7" y2="349.2" stroke="#999" stroke-width="0.7"/>
<line x1="420.7" y1="347.6" x2="420.7" y2="349.2" stroke="#999" stroke-width="0.7"/>
<line x1="424.7" y1="347.6" x2="424.7" y2="349.2" stroke="#999" stroke-width="0.7"/>
<line x1="428.7" y1="347.6" x2="428.7" y2="349.2" stroke="#999" stroke-width="0.7"/>
<line x1="432.7" y1="347.6" x2="432.7" y2="349.2" stroke="#999" stroke-width="0.7"/>
<line x1="436.7" y1="347.6" x2="436.7" y2="349.2" stroke="#999" stroke-width="0.7"/>
<line x1="316.7" y1="347.6" x2="316.7" y2="350" stroke="#999" stroke-width="0.8"/>
<text x="316.7" y="354.6" font-size="5.4" fill="#8a8a8a" text-anchor="middle">7.8</text>
<line x1="336.7" y1="347.6" x2="336.7" y2="350" stroke="#999" stroke-width="0.8"/>
<text x="336.7" y="354.6" font-size="5.4" fill="#8a8a8a" text-anchor="middle">7.9</text>
<line x1="356.7" y1="347.6" x2="356.7" y2="350" stroke="#999" stroke-width="0.8"/>
<text x="356.7" y="354.6" font-size="5.4" fill="#8a8a8a" text-anchor="middle">8.0</text>
<line x1="376.7" y1="347.6" x2="376.7" y2="350" stroke="#999" stroke-width="0.8"/>
<text x="376.7" y="354.6" font-size="5.4" fill="#8a8a8a" text-anchor="middle">8.1</text>
<line x1="396.7" y1="347.6" x2="396.7" y2="350" stroke="#999" stroke-width="0.8"/>
<text x="396.7" y="354.6" font-size="5.4" fill="#8a8a8a" text-anchor="middle">8.2</text>
<line x1="416.7" y1="347.6" x2="416.7" y2="350" stroke="#999" stroke-width="0.8"/>
<text x="416.7" y="354.6" font-size="5.4" fill="#8a8a8a" text-anchor="middle">8.3</text>
<text x="432" y="354.6" font-size="4.6" fill="#999" text-anchor="middle" textLength="20" lengthAdjust="spacingAndGlyphs">Time [min]</text>
<polyline points="306,346.7 307,346.7 308,346.8 309,346.8 310,346.8 311,346.8 312,346.8 313,346.8 314,346.7 315,346.7 316,346.6 317,346.5 318,346.5 319,346.4 320,346.3 321,346.3 322,346.2 323,346.2 324,346.2 325,346.1 326,346.1 327,346.1 328,346.1 329,346.1 330,346.1 331,346 332,346 333,346 334,345.9 335,345.8 336,345.7 337,345.6 338,345.5 339,345.4 340,345.3 341,345.2 342,345 343,344.9 344,344.8 345,344.7 346,344.6 347,344.5 348,344.4 349,344.3 350,344.1 351,344 352,343.9 353,343.7 354,343.5 355,343.3 356,343.2 357,343 358,342.8 359,342.6 360,342.4 361,342.2 362,342 363,341.9 364,341.7 365,341.7 366,341.6 367,341.7 368,341.8 369,341.9 370,342 371,342.2 372,342.3 373,342.5 374,342.6 375,342.8 376,342.9 377,343.1 378,343.2 379,343.3 380,343.4 381,343.5 382,343.6 383,343.7 384,343.9 385,344 386,344.1 387,344.2 388,344.3 389,344.5 390,344.6 391,344.7 392,344.9 393,345 394,345.1 395,345.2 396,345.3 397,345.4 398,345.5 399,345.6 400,345.6 401,345.7 402,345.7 403,345.8 404,345.8 405,345.9 406,345.9 407,346 408,346 409,346.1 410,346.2 411,346.3 412,346.4 413,346.5 414,346.5 415,346.6 416,346.7 417,346.7 418,346.8 419,346.8 420,346.8 421,346.8 422,346.7 423,346.7 424,346.6 425,346.6 426,346.5 427,346.5 428,346.4 429,346.4 430,346.4 431,346.4 432,346.4 433,346.4 434,346.4 435,346.4 436,346.5 437,346.5 438,346.5 439,346.6 440,346.6" fill="none" stroke="#c4c4c4" stroke-width="0.8" stroke-linejoin="round"/>
<polyline points="306,346.6 307,346.6 308,346.7 309,346.7 310,346.7 311,346.7 312,346.7 313,346.7 314,346.7 315,346.7 316,346.7 317,346.7 318,346.7 319,346.7 320,346.7 321,346.7 322,346.7 323,346.6 324,346.6 325,346.6 326,346.6 327,346.5 328,346.5 329,346.4 330,346.4 331,346.4 332,346.3 333,346.3 334,346.3 335,346.2 336,346.2 337,346.1 338,346 339,345.9 340,345.8 341,345.5 342,345.3 343,344.9 344,344.5 345,343.9 346,343.3 347,342.5 348,341.6 349,340.5 350,339.2 351,337.8 352,336.3 353,334.6 354,332.8 355,330.9 356,328.9 357,327 358,325.1 359,323.2 360,321.6 361,320.1 362,319.1 363,319 364,319.9 365,321 366,322.4 367,323.9 368,325.5 369,327.2 370,328.9 371,330.6 372,332.2 373,333.9 374,335.4 375,336.8 376,338.1 377,339.3 378,340.4 379,341.4 380,342.3 381,343 382,343.7 383,344.2 384,344.7 385,345.1 386,345.4 387,345.6 388,345.8 389,346 390,346.1 391,346.2 392,346.3 393,346.3 394,346.4 395,346.4 396,346.4 397,346.4 398,346.4 399,346.5 400,346.5 401,346.5 402,346.5 403,346.5 404,346.6 405,346.6 406,346.6 407,346.6 408,346.6 409,346.6 410,346.6 411,346.6 412,346.6 413,346.5 414,346.5 415,346.5 416,346.4 417,346.4 418,346.4 419,346.4 420,346.4 421,346.4 422,346.4 423,346.4 424,346.5 425,346.5 426,346.6 427,346.6 428,346.7 429,346.7 430,346.7 431,346.8 432,346.8 433,346.8 434,346.8 435,346.8 436,346.8 437,346.8 438,346.8 439,346.8 440,346.7" fill="none" stroke="#45d4f2" stroke-width="0.8" stroke-linejoin="round"/>
<polyline points="306,346.8 307,346.8 308,346.8 309,346.8 310,346.7 311,346.7 312,346.7 313,346.6 314,346.6 315,346.5 316,346.5 317,346.5 318,346.4 319,346.4 320,346.4 321,346.4 322,346.4 323,346.4 324,346.4 325,346.4 326,346.4 327,346.4 328,346.4 329,346.4 330,346.3 331,346.2 332,346 333,345.8 334,345.4 335,345 336,344.6 337,344 338,343.2 339,342.4 340,341.4 341,340.3 342,339 343,337.5 344,335.9 345,334.1 346,332.1 347,330 348,327.7 349,325.2 350,322.7 351,320 352,317.3 353,314.6 354,311.9 355,309.3 356,306.8 357,304.6 358,302.7 359,301.4 360,301.7 361,302.8 362,304.4 363,306.2 364,308.3 365,310.6 366,312.9 367,315.4 368,317.9 369,320.4 370,322.9 371,325.3 372,327.7 373,329.9 374,332 375,333.9 376,335.7 377,337.3 378,338.8 379,340 380,341.2 381,342.1 382,342.9 383,343.6 384,344.1 385,344.5 386,344.9 387,345.1 388,345.3 389,345.5 390,345.6 391,345.7 392,345.8 393,345.9 394,345.9 395,346 396,346.1 397,346.2 398,346.2 399,346.3 400,346.4 401,346.5 402,346.6 403,346.6 404,346.7 405,346.7 406,346.8 407,346.8 408,346.8 409,346.8 410,346.8 411,346.8 412,346.8 413,346.7 414,346.7 415,346.7 416,346.7 417,346.6 418,346.6 419,346.6 420,346.6 421,346.5 422,346.5 423,346.5 424,346.5 425,346.4 426,346.4 427,346.4 428,346.4 429,346.4 430,346.4 431,346.5 432,346.5 433,346.5 434,346.6 435,346.6 436,346.6 437,346.7 438,346.7 439,346.7 440,346.8" fill="none" stroke="#5cb0ee" stroke-width="0.8" stroke-linejoin="round"/>
<polyline points="306,346.2 307,346.1 308,346.1 309,346 310,346 311,346 312,346 313,346.1 314,346.1 315,346.2 316,346.3 317,346.4 318,346.5 319,346.5 320,346.6 321,346.7 322,346.7 323,346.7 324,346.7 325,346.6 326,346.6 327,346.5 328,346.3 329,346.2 330,346 331,345.8 332,345.5 333,345.2 334,344.8 335,344.4 336,343.8 337,343.2 338,342.4 339,341.5 340,340.5 341,339.2 342,337.8 343,336.2 344,334.4 345,332.4 346,330.2 347,327.9 348,325.3 349,322.6 350,319.9 351,317 352,314.1 353,311.2 354,308.5 355,305.8 356,303.3 357,301.2 358,299.4 359,298.1 360,298.6 361,299.9 362,301.7 363,303.8 364,306 365,308.5 366,311 367,313.5 368,316.1 369,318.6 370,321.1 371,323.5 372,325.8 373,327.9 374,330 375,331.9 376,333.7 377,335.3 378,336.8 379,338.2 380,339.4 381,340.5 382,341.5 383,342.3 384,343 385,343.7 386,344.2 387,344.7 388,345 389,345.3 390,345.6 391,345.7 392,345.9 393,346 394,346.1 395,346.1 396,346.2 397,346.2 398,346.2 399,346.3 400,346.3 401,346.3 402,346.4 403,346.4 404,346.4 405,346.5 406,346.5 407,346.5 408,346.4 409,346.4 410,346.4 411,346.3 412,346.3 413,346.2 414,346.2 415,346.2 416,346.1 417,346.1 418,346.1 419,346.2 420,346.2 421,346.3 422,346.3 423,346.4 424,346.5 425,346.6 426,346.6 427,346.7 428,346.8 429,346.8 430,346.8 431,346.8 432,346.7 433,346.7 434,346.6 435,346.5 436,346.4 437,346.3 438,346.2 439,346.2 440,346.1" fill="none" stroke="#5050f2" stroke-width="1.1" stroke-linejoin="round"/>
<polyline points="306,346.6 307,346.6 308,346.6 309,346.7 310,346.7 311,346.7 312,346.7 313,346.7 314,346.7 315,346.7 316,346.7 317,346.6 318,346.6 319,346.6 320,346.6 321,346.6 322,346.6 323,346.6 324,346.5 325,346.5 326,346.4 327,346.3 328,346.2 329,346 330,345.8 331,345.4 332,345 333,344.4 334,343.6 335,342.7 336,341.5 337,340.1 338,338.3 339,336.2 340,333.7 341,330.7 342,327.2 343,323.2 344,318.6 345,313.4 346,307.5 347,301.1 348,294 349,286.3 350,278.1 351,269.5 352,260.4 353,251.2 354,241.8 355,232.5 356,223.4 357,214.7 358,206.7 359,200.5 360,200.5 361,200.5 362,200.5 363,200.5 364,203.4 365,210 366,217.1 367,224.8 368,232.8 369,241 370,249.3 371,257.5 372,265.6 373,273.4 374,281 375,288.1 376,294.8 377,301 378,306.8 379,312 380,316.7 381,321 382,324.8 383,328.1 384,331 385,333.5 386,335.7 387,337.6 388,339.2 389,340.5 390,341.6 391,342.5 392,343.3 393,344 394,344.5 395,344.9 396,345.3 397,345.5 398,345.7 399,345.9 400,346 401,346.1 402,346.2 403,346.3 404,346.3 405,346.3 406,346.3 407,346.3 408,346.4 409,346.4 410,346.4 411,346.4 412,346.4 413,346.5 414,346.5 415,346.5 416,346.6 417,346.6 418,346.7 419,346.7 420,346.7 421,346.8 422,346.8 423,346.8 424,346.8 425,346.8 426,346.7 427,346.7 428,346.7 429,346.6 430,346.6 431,346.5 432,346.5 433,346.4 434,346.4 435,346.4 436,346.4 437,346.4 438,346.4 439,346.4 440,346.5" fill="none" stroke="#6c6cca" stroke-width="0.9" stroke-linejoin="round"/>
<line x1="390.9" y1="284.8" x2="424.4" y2="284.8" stroke="#777" stroke-width="0.6"/>
<circle cx="390.9" cy="284.8" r="3.9" fill="#6db33f" stroke="#444" stroke-width="0.7"/>
<path d="M398,284.8 L402.6,280 L407.2,284.8 Z" fill="#4a78cc" stroke="#555" stroke-width="0.5"/>
<path d="M398,284.8 L402.6,289.6 L407.2,284.8 Z" fill="#fff" stroke="#666" stroke-width="0.5"/>
<polygon points="418.7,284.8 416.5,288.5 412.2,288.5 410.1,284.8 412.2,281.1 416.5,281.1" fill="#882866" stroke="#333" stroke-width="0.6"/>
<circle cx="424.4" cy="284.8" r="2.9" fill="#fff" stroke="#777" stroke-width="0.6"/>
<text x="424.4" y="286.3" font-size="4" fill="#777" text-anchor="middle">P</text>
<line x1="411.9" y1="275.3" x2="411.9" y2="229.6" stroke="#555" stroke-width="0.6" stroke-dasharray="1.2,1.6"/>
<line x1="411.9" y1="275.3" x2="421.7" y2="275.3" stroke="#666" stroke-width="0.6"/>
<line x1="404.6" y1="229.6" x2="418.7" y2="229.3" stroke="#555" stroke-width="0.6" stroke-dasharray="1.2,1.6"/>
<path d="M401,232.8 L404.6,226.2 L408.2,232.8 Z" fill="#bdbdbd" stroke="#444" stroke-width="0.6"/>
<circle cx="418.7" cy="229.3" r="3.9" fill="#d0d0d0" stroke="#444" stroke-width="0.7"/>
<polygon points="411.9,261.6 413.1,264.7 416.4,264.8 413.8,266.9 414.7,270.1 411.9,268.3 409.1,270.1 410,266.9 407.4,264.8 410.7,264.7" fill="#dcdcdc" stroke="#3a3a3a" stroke-width="0.75" stroke-linejoin="round"/>
<polygon points="411.9,251.5 413.1,254.6 416.4,254.7 413.8,256.8 414.7,260 411.9,258.2 409.1,260 410,256.8 407.4,254.7 410.7,254.6" fill="#dcdcdc" stroke="#3a3a3a" stroke-width="0.75" stroke-linejoin="round"/>
<polygon points="411.9,239.4 413.1,242.5 416.4,242.6 413.8,244.7 414.7,247.9 411.9,246.1 409.1,247.9 410,244.7 407.4,242.6 410.7,242.5" fill="#dcdcdc" stroke="#3a3a3a" stroke-width="0.75" stroke-linejoin="round"/>
<circle cx="411.9" cy="275.3" r="3.9" fill="#d4d4d4" stroke="#444" stroke-width="0.7"/>
<polygon points="421.7,270.6 422.9,273.7 426.2,273.8 423.6,275.9 424.5,279.1 421.7,277.3 418.9,279.1 419.8,275.9 417.2,273.8 420.5,273.7" fill="#dcdcdc" stroke="#3a3a3a" stroke-width="0.75" stroke-linejoin="round"/>
<line x1="481" y1="187.8" x2="619.5" y2="187.8" stroke="#a8a8a8" stroke-width="1.1"/>
<line x1="619.5" y1="187.8" x2="619.5" y2="348" stroke="#a8a8a8" stroke-width="1.1"/>
<line x1="481" y1="187.8" x2="481" y2="348" stroke="#8a8a8a" stroke-width="1.1"/>
<line x1="481" y1="348" x2="619.5" y2="348" stroke="#8a8a8a" stroke-width="1.1"/>
<line x1="479.2" y1="341.7" x2="481" y2="341.7" stroke="#aaa" stroke-width="0.7"/>
<line x1="479.2" y1="335.8" x2="481" y2="335.8" stroke="#aaa" stroke-width="0.7"/>
<line x1="479.2" y1="329.8" x2="481" y2="329.8" stroke="#aaa" stroke-width="0.7"/>
<line x1="479.2" y1="323.9" x2="481" y2="323.9" stroke="#aaa" stroke-width="0.7"/>
<line x1="479.2" y1="312.1" x2="481" y2="312.1" stroke="#aaa" stroke-width="0.7"/>
<line x1="479.2" y1="306.2" x2="481" y2="306.2" stroke="#aaa" stroke-width="0.7"/>
<line x1="479.2" y1="300.2" x2="481" y2="300.2" stroke="#aaa" stroke-width="0.7"/>
<line x1="479.2" y1="294.3" x2="481" y2="294.3" stroke="#aaa" stroke-width="0.7"/>
<line x1="479.2" y1="282.5" x2="481" y2="282.5" stroke="#aaa" stroke-width="0.7"/>
<line x1="479.2" y1="276.6" x2="481" y2="276.6" stroke="#aaa" stroke-width="0.7"/>
<line x1="479.2" y1="270.6" x2="481" y2="270.6" stroke="#aaa" stroke-width="0.7"/>
<line x1="479.2" y1="264.7" x2="481" y2="264.7" stroke="#aaa" stroke-width="0.7"/>
<line x1="479.2" y1="252.9" x2="481" y2="252.9" stroke="#aaa" stroke-width="0.7"/>
<line x1="479.2" y1="247" x2="481" y2="247" stroke="#aaa" stroke-width="0.7"/>
<line x1="479.2" y1="241" x2="481" y2="241" stroke="#aaa" stroke-width="0.7"/>
<line x1="479.2" y1="235.1" x2="481" y2="235.1" stroke="#aaa" stroke-width="0.7"/>
<line x1="479.2" y1="223.3" x2="481" y2="223.3" stroke="#aaa" stroke-width="0.7"/>
<line x1="479.2" y1="217.4" x2="481" y2="217.4" stroke="#aaa" stroke-width="0.7"/>
<line x1="479.2" y1="211.4" x2="481" y2="211.4" stroke="#aaa" stroke-width="0.7"/>
<line x1="479.2" y1="205.5" x2="481" y2="205.5" stroke="#aaa" stroke-width="0.7"/>
<line x1="478.5" y1="347.6" x2="481" y2="347.6" stroke="#999" stroke-width="0.8"/>
<text x="475.6" y="349.6" font-size="5.6" fill="#8e8e8e" text-anchor="end">0</text>
<line x1="478.5" y1="318" x2="481" y2="318" stroke="#999" stroke-width="0.8"/>
<text x="475.6" y="320" font-size="5.6" fill="#8e8e8e" text-anchor="end">500</text>
<line x1="478.5" y1="288.4" x2="481" y2="288.4" stroke="#999" stroke-width="0.8"/>
<text x="475.6" y="290.4" font-size="5.6" fill="#8e8e8e" text-anchor="end">1000</text>
<line x1="478.5" y1="258.8" x2="481" y2="258.8" stroke="#999" stroke-width="0.8"/>
<text x="475.6" y="260.8" font-size="5.6" fill="#8e8e8e" text-anchor="end">1500</text>
<line x1="478.5" y1="229.2" x2="481" y2="229.2" stroke="#999" stroke-width="0.8"/>
<text x="475.6" y="231.2" font-size="5.6" fill="#8e8e8e" text-anchor="end">2000</text>
<line x1="478.5" y1="199.6" x2="481" y2="199.6" stroke="#999" stroke-width="0.8"/>
<text x="475.6" y="201.6" font-size="5.6" fill="#8e8e8e" text-anchor="end">2500</text>
<text x="473.6" y="191.3" font-size="5" fill="#999" text-anchor="end" textLength="11.3" lengthAdjust="spacingAndGlyphs">Intens.</text>
<line x1="484.3" y1="348" x2="484.3" y2="349.6" stroke="#999" stroke-width="0.7"/>
<line x1="488.4" y1="348" x2="488.4" y2="349.6" stroke="#999" stroke-width="0.7"/>
<line x1="492.5" y1="348" x2="492.5" y2="349.6" stroke="#999" stroke-width="0.7"/>
<line x1="496.6" y1="348" x2="496.6" y2="349.6" stroke="#999" stroke-width="0.7"/>
<line x1="500.7" y1="348" x2="500.7" y2="349.6" stroke="#999" stroke-width="0.7"/>
<line x1="504.7" y1="348" x2="504.7" y2="349.6" stroke="#999" stroke-width="0.7"/>
<line x1="508.8" y1="348" x2="508.8" y2="349.6" stroke="#999" stroke-width="0.7"/>
<line x1="512.9" y1="348" x2="512.9" y2="349.6" stroke="#999" stroke-width="0.7"/>
<line x1="517" y1="348" x2="517" y2="349.6" stroke="#999" stroke-width="0.7"/>
<line x1="521.1" y1="348" x2="521.1" y2="349.6" stroke="#999" stroke-width="0.7"/>
<line x1="525.1" y1="348" x2="525.1" y2="349.6" stroke="#999" stroke-width="0.7"/>
<line x1="529.2" y1="348" x2="529.2" y2="349.6" stroke="#999" stroke-width="0.7"/>
<line x1="533.3" y1="348" x2="533.3" y2="349.6" stroke="#999" stroke-width="0.7"/>
<line x1="537.4" y1="348" x2="537.4" y2="349.6" stroke="#999" stroke-width="0.7"/>
<line x1="541.5" y1="348" x2="541.5" y2="349.6" stroke="#999" stroke-width="0.7"/>
<line x1="545.5" y1="348" x2="545.5" y2="349.6" stroke="#999" stroke-width="0.7"/>
<line x1="549.6" y1="348" x2="549.6" y2="349.6" stroke="#999" stroke-width="0.7"/>
<line x1="553.7" y1="348" x2="553.7" y2="349.6" stroke="#999" stroke-width="0.7"/>
<line x1="557.8" y1="348" x2="557.8" y2="349.6" stroke="#999" stroke-width="0.7"/>
<line x1="561.9" y1="348" x2="561.9" y2="349.6" stroke="#999" stroke-width="0.7"/>
<line x1="565.9" y1="348" x2="565.9" y2="349.6" stroke="#999" stroke-width="0.7"/>
<line x1="570" y1="348" x2="570" y2="349.6" stroke="#999" stroke-width="0.7"/>
<line x1="574.1" y1="348" x2="574.1" y2="349.6" stroke="#999" stroke-width="0.7"/>
<line x1="578.2" y1="348" x2="578.2" y2="349.6" stroke="#999" stroke-width="0.7"/>
<line x1="582.3" y1="348" x2="582.3" y2="349.6" stroke="#999" stroke-width="0.7"/>
<line x1="586.3" y1="348" x2="586.3" y2="349.6" stroke="#999" stroke-width="0.7"/>
<line x1="590.4" y1="348" x2="590.4" y2="349.6" stroke="#999" stroke-width="0.7"/>
<line x1="594.5" y1="348" x2="594.5" y2="349.6" stroke="#999" stroke-width="0.7"/>
<line x1="598.6" y1="348" x2="598.6" y2="349.6" stroke="#999" stroke-width="0.7"/>
<line x1="602.7" y1="348" x2="602.7" y2="349.6" stroke="#999" stroke-width="0.7"/>
<line x1="606.7" y1="348" x2="606.7" y2="349.6" stroke="#999" stroke-width="0.7"/>
<line x1="610.8" y1="348" x2="610.8" y2="349.6" stroke="#999" stroke-width="0.7"/>
<line x1="492.5" y1="348" x2="492.5" y2="350.4" stroke="#999" stroke-width="0.8"/>
<text x="492.5" y="355" font-size="5.4" fill="#8a8a8a" text-anchor="middle">7.8</text>
<line x1="512.9" y1="348" x2="512.9" y2="350.4" stroke="#999" stroke-width="0.8"/>
<text x="512.9" y="355" font-size="5.4" fill="#8a8a8a" text-anchor="middle">7.9</text>
<line x1="533.3" y1="348" x2="533.3" y2="350.4" stroke="#999" stroke-width="0.8"/>
<text x="533.3" y="355" font-size="5.4" fill="#8a8a8a" text-anchor="middle">8.0</text>
<line x1="553.7" y1="348" x2="553.7" y2="350.4" stroke="#999" stroke-width="0.8"/>
<text x="553.7" y="355" font-size="5.4" fill="#8a8a8a" text-anchor="middle">8.1</text>
<line x1="574.1" y1="348" x2="574.1" y2="350.4" stroke="#999" stroke-width="0.8"/>
<text x="574.1" y="355" font-size="5.4" fill="#8a8a8a" text-anchor="middle">8.2</text>
<line x1="594.5" y1="348" x2="594.5" y2="350.4" stroke="#999" stroke-width="0.8"/>
<text x="594.5" y="355" font-size="5.4" fill="#8a8a8a" text-anchor="middle">8.3</text>
<text x="609.4" y="355" font-size="4.6" fill="#999" text-anchor="middle" textLength="20" lengthAdjust="spacingAndGlyphs">Time [min]</text>
<polyline points="482,347.1 483,347.1 484,347.1 485,347.1 486,347 487,347 488,347 489,347 490,347 491,347 492,347 493,347 494,347 495,346.9 496,346.9 497,346.9 498,346.9 499,346.9 500,346.9 501,346.9 502,346.9 503,346.8 504,346.8 505,346.8 506,346.8 507,346.8 508,346.7 509,346.7 510,346.6 511,346.6 512,346.5 513,346.4 514,346.3 515,346.2 516,346.1 517,345.9 518,345.8 519,345.7 520,345.6 521,345.4 522,345.3 523,345.2 524,345.1 525,345 526,344.9 527,344.8 528,344.7 529,344.6 530,344.5 531,344.5 532,344.4 533,344.4 534,344.3 535,344.3 536,344.2 537,344.1 538,344.1 539,344 540,344 541,344 542,343.9 543,343.9 544,343.9 545,343.9 546,343.9 547,344 548,344 549,344.1 550,344.2 551,344.3 552,344.4 553,344.5 554,344.7 555,344.8 556,344.9 557,345 558,345.2 559,345.3 560,345.4 561,345.5 562,345.6 563,345.6 564,345.7 565,345.8 566,345.8 567,345.9 568,346 569,346 570,346.1 571,346.2 572,346.3 573,346.5 574,346.6 575,346.7 576,346.8 577,346.9 578,347 579,347.1 580,347.2 581,347.3 582,347.3 583,347.3 584,347.3 585,347.3 586,347.2 587,347.2 588,347.1 589,347 590,346.9 591,346.8 592,346.8 593,346.7 594,346.7 595,346.6 596,346.6 597,346.7 598,346.7 599,346.7 600,346.8 601,346.9 602,346.9 603,347 604,347.1 605,347.2 606,347.2 607,347.2 608,347.3 609,347.3 610,347.3 611,347.2 612,347.2 613,347.2 614,347.2 615,347.1 616,347.1 617,347.1 618,347.1" fill="none" stroke="#c4c4c4" stroke-width="0.8" stroke-linejoin="round"/>
<polyline points="482,347.2 483,347.2 484,347.2 485,347.1 486,347.1 487,347.1 488,347 489,347 490,347 491,347 492,346.9 493,346.9 494,346.9 495,346.9 496,346.9 497,346.9 498,346.9 499,347 500,347 501,347.1 502,347.1 503,347.2 504,347.2 505,347.2 506,347.3 507,347.3 508,347.3 509,347.4 510,347.4 511,347.3 512,347.3 513,347.2 514,347.1 515,347 516,346.8 517,346.6 518,346.3 519,345.9 520,345.4 521,344.9 522,344.2 523,343.4 524,342.6 525,341.6 526,340.5 527,339.3 528,338.1 529,337 530,335.8 531,334.7 532,333.8 533,333 534,332.4 535,332.1 536,332.1 537,332.3 538,332.6 539,333.1 540,333.8 541,334.6 542,335.6 543,336.6 544,337.6 545,338.7 546,339.7 547,340.7 548,341.6 549,342.5 550,343.3 551,344 552,344.5 553,345 554,345.4 555,345.8 556,346.1 557,346.3 558,346.5 559,346.6 560,346.7 561,346.8 562,346.8 563,346.9 564,346.9 565,346.9 566,346.9 567,347 568,347 569,347 570,347 571,347 572,347 573,347 574,346.9 575,346.9 576,346.9 577,346.9 578,346.9 579,347 580,347 581,347 582,347 583,347 584,347.1 585,347.1 586,347.1 587,347.2 588,347.2 589,347.2 590,347.3 591,347.3 592,347.3 593,347.3 594,347.3 595,347.3 596,347.3 597,347.3 598,347.3 599,347.3 600,347.2 601,347.2 602,347.2 603,347.1 604,347.1 605,347 606,347 607,347 608,347 609,346.9 610,346.9 611,346.9 612,346.9 613,346.9 614,347 615,347 616,347 617,347 618,347.1" fill="none" stroke="#6fa6d6" stroke-width="0.8" stroke-linejoin="round"/>
<polyline points="482,347.3 483,347.3 484,347.3 485,347.3 486,347.3 487,347.3 488,347.3 489,347.3 490,347.3 491,347.3 492,347.3 493,347.2 494,347.2 495,347.2 496,347.1 497,347 498,347 499,346.9 500,346.9 501,346.8 502,346.8 503,346.7 504,346.7 505,346.7 506,346.7 507,346.7 508,346.6 509,346.6 510,346.5 511,346.4 512,346.2 513,346 514,345.6 515,345.1 516,344.5 517,343.7 518,342.6 519,341.4 520,340 521,338.3 522,336.5 523,334.4 524,332.3 525,330 526,327.7 527,325.5 528,323.5 529,321.6 530,320 531,318.8 532,318 533,317.7 534,317.7 535,318.2 536,318.9 537,319.9 538,321.2 539,322.8 540,324.5 541,326.4 542,328.3 543,330.2 544,332.2 545,334 546,335.8 547,337.4 548,338.9 549,340.2 550,341.4 551,342.5 552,343.3 553,344.1 554,344.7 555,345.3 556,345.7 557,346.1 558,346.3 559,346.5 560,346.7 561,346.8 562,346.9 563,347 564,347 565,347 566,347 567,347 568,347 569,346.9 570,346.9 571,346.9 572,346.9 573,346.9 574,346.9 575,346.9 576,346.9 577,347 578,347 579,347.1 580,347.1 581,347.2 582,347.2 583,347.3 584,347.3 585,347.3 586,347.3 587,347.3 588,347.3 589,347.3 590,347.2 591,347.2 592,347.1 593,347.1 594,347 595,347 596,347 597,346.9 598,346.9 599,346.9 600,346.9 601,346.9 602,346.9 603,347 604,347 605,347 606,347 607,347 608,347.1 609,347.1 610,347.1 611,347.1 612,347.1 613,347.1 614,347.1 615,347.1 616,347.1 617,347.1 618,347.1" fill="none" stroke="#45d4f2" stroke-width="0.8" stroke-linejoin="round"/>
<polyline points="482,346.9 483,346.9 484,346.9 485,347 486,347 487,347 488,347 489,347 490,347 491,346.9 492,346.9 493,346.9 494,346.9 495,346.8 496,346.8 497,346.8 498,346.8 499,346.8 500,346.8 501,346.7 502,346.7 503,346.7 504,346.7 505,346.6 506,346.6 507,346.5 508,346.3 509,346.1 510,345.7 511,345.3 512,344.7 513,343.9 514,343 515,341.8 516,340.4 517,338.8 518,336.9 519,334.7 520,332.3 521,329.6 522,326.8 523,323.8 524,320.7 525,317.7 526,314.7 527,312 528,309.5 529,307.4 530,305.8 531,304.7 532,304.1 533,304.1 534,304.6 535,305.5 536,306.7 537,308.4 538,310.4 539,312.6 540,315.1 541,317.7 542,320.3 543,323 544,325.7 545,328.2 546,330.6 547,332.9 548,335 549,336.8 550,338.5 551,339.9 552,341.2 553,342.3 554,343.2 555,344 556,344.6 557,345.1 558,345.6 559,345.9 560,346.2 561,346.4 562,346.6 563,346.8 564,346.9 565,347 566,347 567,347.1 568,347.1 569,347.1 570,347.1 571,347.1 572,347.1 573,347.1 574,347 575,347 576,347 577,347 578,346.9 579,346.9 580,346.9 581,346.9 582,346.9 583,346.9 584,346.9 585,346.9 586,346.9 587,346.9 588,347 589,347 590,347 591,347 592,347 593,347 594,347 595,347 596,347 597,347 598,347 599,346.9 600,346.9 601,346.9 602,346.9 603,346.8 604,346.8 605,346.8 606,346.8 607,346.8 608,346.8 609,346.8 610,346.9 611,346.9 612,347 613,347 614,347 615,347.1 616,347.1 617,347.2 618,347.2" fill="none" stroke="#5cb0ee" stroke-width="0.8" stroke-linejoin="round"/>
<polyline points="482,346.9 483,346.9 484,346.9 485,347 486,347 487,347.1 488,347.1 489,347.1 490,347.1 491,347.1 492,347.1 493,347.1 494,347 495,347 496,346.9 497,346.9 498,346.8 499,346.8 500,346.8 501,346.8 502,346.7 503,346.7 504,346.7 505,346.7 506,346.7 507,346.6 508,346.5 509,346.3 510,346 511,345.5 512,345 513,344.3 514,343.4 515,342.2 516,340.9 517,339.3 518,337.4 519,335.3 520,332.9 521,330.2 522,327.3 523,324.2 524,320.9 525,317.5 526,314.2 527,310.9 528,307.8 529,305 530,302.5 531,300.5 532,298.9 533,298 534,297.7 535,297.9 536,298.6 537,299.7 538,301.3 539,303.2 540,305.5 541,308.1 542,310.9 543,313.8 544,316.8 545,319.9 546,322.8 547,325.7 548,328.4 549,330.9 550,333.2 551,335.3 552,337.1 553,338.7 554,340 555,341.2 556,342.2 557,343 558,343.7 559,344.2 560,344.7 561,345.1 562,345.4 563,345.7 564,345.9 565,346.2 566,346.4 567,346.5 568,346.7 569,346.8 570,346.9 571,347 572,347 573,347 574,346.9 575,346.9 576,346.8 577,346.7 578,346.6 579,346.5 580,346.4 581,346.3 582,346.3 583,346.3 584,346.3 585,346.3 586,346.4 587,346.6 588,346.7 589,346.9 590,347 591,347.2 592,347.3 593,347.4 594,347.5 595,347.5 596,347.5 597,347.4 598,347.4 599,347.3 600,347.1 601,347 602,346.8 603,346.7 604,346.6 605,346.5 606,346.5 607,346.4 608,346.4 609,346.5 610,346.6 611,346.7 612,346.8 613,346.9 614,347.1 615,347.2 616,347.3 617,347.4 618,347.4" fill="none" stroke="#5050f2" stroke-width="1.1" stroke-linejoin="round"/>
<polyline points="482,347.1 483,347.1 484,347.1 485,347.2 486,347.2 487,347.2 488,347.2 489,347.3 490,347.3 491,347.2 492,347.2 493,347.2 494,347.2 495,347.1 496,347.1 497,347.1 498,347 499,347 500,346.9 501,346.9 502,346.8 503,346.8 504,346.7 505,346.5 506,346.4 507,346.1 508,345.7 509,345.2 510,344.6 511,343.6 512,342.4 513,340.9 514,338.9 515,336.3 516,333.2 517,329.4 518,324.8 519,319.4 520,313.1 521,306 522,298.1 523,289.3 524,279.9 525,270 526,259.8 527,249.5 528,239.4 529,229.8 530,220.9 531,213.2 532,206.8 533,202 534,199 535,197.8 536,198.4 537,200.4 538,203.8 539,208.5 540,214.4 541,221.4 542,229.2 543,237.7 544,246.6 545,255.8 546,265 547,274 548,282.8 549,291 550,298.7 551,305.8 552,312.2 553,317.8 554,322.8 555,327.2 556,330.9 557,334 558,336.6 559,338.8 560,340.5 561,341.9 562,343 563,343.9 564,344.6 565,345.1 566,345.5 567,345.8 568,346.1 569,346.3 570,346.4 571,346.5 572,346.6 573,346.7 574,346.7 575,346.8 576,346.8 577,346.8 578,346.9 579,346.9 580,346.9 581,346.9 582,347 583,347 584,347 585,347 586,347 587,347 588,347 589,347 590,347 591,347 592,347 593,347.1 594,347.1 595,347.1 596,347.1 597,347.1 598,347.1 599,347.2 600,347.2 601,347.2 602,347.2 603,347.2 604,347.2 605,347.2 606,347.2 607,347.2 608,347.2 609,347.2 610,347.2 611,347.2 612,347.2 613,347.1 614,347.1 615,347.1 616,347 617,347 618,347" fill="none" stroke="#6c6cca" stroke-width="0.9" stroke-linejoin="round"/>
<line x1="573.5" y1="301.8" x2="607.1" y2="301.8" stroke="#777" stroke-width="0.6"/>
<circle cx="573.5" cy="301.8" r="3.9" fill="#6db33f" stroke="#444" stroke-width="0.7"/>
<path d="M580.8,301.8 L585.4,297 L590,301.8 Z" fill="#4a78cc" stroke="#555" stroke-width="0.5"/>
<path d="M580.8,301.8 L585.4,306.6 L590,301.8 Z" fill="#fff" stroke="#666" stroke-width="0.5"/>
<polygon points="601.3,301.8 599.1,305.5 594.9,305.5 592.7,301.8 594.9,298.1 599.1,298.1" fill="#882866" stroke="#333" stroke-width="0.6"/>
<circle cx="607.1" cy="301.8" r="2.9" fill="#fff" stroke="#777" stroke-width="0.6"/>
<text x="607.1" y="303.3" font-size="4" fill="#777" text-anchor="middle">P</text>
<line x1="594.8" y1="291.7" x2="594.8" y2="234" stroke="#555" stroke-width="0.6" stroke-dasharray="1.2,1.6"/>
<line x1="594.8" y1="291.7" x2="604.4" y2="291.7" stroke="#666" stroke-width="0.6"/>
<line x1="587.4" y1="246.1" x2="601" y2="246.1" stroke="#555" stroke-width="0.6" stroke-dasharray="1.2,1.6"/>
<path d="M583.8,249.3 L587.4,242.7 L591,249.3 Z" fill="#bdbdbd" stroke="#444" stroke-width="0.6"/>
<circle cx="601" cy="246.1" r="3.9" fill="#d0d0d0" stroke="#444" stroke-width="0.7"/>
<polygon points="594.8,278.5 596,281.6 599.3,281.7 596.7,283.8 597.6,287 594.8,285.2 592,287 592.9,283.8 590.3,281.7 593.6,281.6" fill="#dcdcdc" stroke="#3a3a3a" stroke-width="0.75" stroke-linejoin="round"/>
<polygon points="594.8,267.9 596,271 599.3,271.1 596.7,273.2 597.6,276.4 594.8,274.6 592,276.4 592.9,273.2 590.3,271.1 593.6,271" fill="#dcdcdc" stroke="#3a3a3a" stroke-width="0.75" stroke-linejoin="round"/>
<polygon points="594.8,256 596,259.1 599.3,259.2 596.7,261.3 597.6,264.5 594.8,262.7 592,264.5 592.9,261.3 590.3,259.2 593.6,259.1" fill="#dcdcdc" stroke="#3a3a3a" stroke-width="0.75" stroke-linejoin="round"/>
<polygon points="594.8,229.3 596,232.4 599.3,232.5 596.7,234.6 597.6,237.8 594.8,236 592,237.8 592.9,234.6 590.3,232.5 593.6,232.4" fill="#dcdcdc" stroke="#3a3a3a" stroke-width="0.75" stroke-linejoin="round"/>
<circle cx="594.8" cy="291.7" r="3.9" fill="#d4d4d4" stroke="#444" stroke-width="0.7"/>
<polygon points="604.4,287 605.6,290.1 608.9,290.2 606.3,292.3 607.2,295.5 604.4,293.7 601.6,295.5 602.5,292.3 599.9,290.2 603.2,290.1" fill="#dcdcdc" stroke="#3a3a3a" stroke-width="0.75" stroke-linejoin="round"/>
<text x="75.2" y="15.8" font-size="18.6" fill="#111" textLength="12" lengthAdjust="spacingAndGlyphs">A</text>
<line x1="43.4" y1="386.6" x2="679.6" y2="386.6" stroke="#333" stroke-width="1"/>
<line x1="679.6" y1="386.6" x2="679.6" y2="581" stroke="#9a9a9a" stroke-width="1.4"/>
<line x1="43.4" y1="386.6" x2="43.4" y2="581" stroke="#333" stroke-width="1"/>
<line x1="41.8" y1="572.7" x2="43.4" y2="572.7" stroke="#333" stroke-width="0.7"/>
<line x1="41.8" y1="564.5" x2="43.4" y2="564.5" stroke="#333" stroke-width="0.7"/>
<line x1="41.8" y1="556.2" x2="43.4" y2="556.2" stroke="#333" stroke-width="0.7"/>
<line x1="41.8" y1="548" x2="43.4" y2="548" stroke="#333" stroke-width="0.7"/>
<line x1="40.8" y1="539.7" x2="43.4" y2="539.7" stroke="#333" stroke-width="0.7"/>
<line x1="41.8" y1="531.4" x2="43.4" y2="531.4" stroke="#333" stroke-width="0.7"/>
<line x1="41.8" y1="523.2" x2="43.4" y2="523.2" stroke="#333" stroke-width="0.7"/>
<line x1="41.8" y1="514.9" x2="43.4" y2="514.9" stroke="#333" stroke-width="0.7"/>
<line x1="41.8" y1="506.7" x2="43.4" y2="506.7" stroke="#333" stroke-width="0.7"/>
<line x1="40.8" y1="498.4" x2="43.4" y2="498.4" stroke="#333" stroke-width="0.7"/>
<line x1="41.8" y1="490.1" x2="43.4" y2="490.1" stroke="#333" stroke-width="0.7"/>
<line x1="41.8" y1="481.9" x2="43.4" y2="481.9" stroke="#333" stroke-width="0.7"/>
<line x1="41.8" y1="473.6" x2="43.4" y2="473.6" stroke="#333" stroke-width="0.7"/>
<line x1="41.8" y1="465.4" x2="43.4" y2="465.4" stroke="#333" stroke-width="0.7"/>
<line x1="40.8" y1="457.1" x2="43.4" y2="457.1" stroke="#333" stroke-width="0.7"/>
<line x1="41.8" y1="448.8" x2="43.4" y2="448.8" stroke="#333" stroke-width="0.7"/>
<line x1="41.8" y1="440.6" x2="43.4" y2="440.6" stroke="#333" stroke-width="0.7"/>
<line x1="41.8" y1="432.3" x2="43.4" y2="432.3" stroke="#333" stroke-width="0.7"/>
<line x1="41.8" y1="424.1" x2="43.4" y2="424.1" stroke="#333" stroke-width="0.7"/>
<line x1="40.8" y1="415.8" x2="43.4" y2="415.8" stroke="#333" stroke-width="0.7"/>
<line x1="41.8" y1="407.5" x2="43.4" y2="407.5" stroke="#333" stroke-width="0.7"/>
<line x1="41.8" y1="399.3" x2="43.4" y2="399.3" stroke="#333" stroke-width="0.7"/>
<line x1="41.8" y1="391" x2="43.4" y2="391" stroke="#333" stroke-width="0.7"/>
<text x="35.2" y="583" font-size="5.7" fill="#333" text-anchor="end">0</text>
<text x="35.2" y="541.7" font-size="5.7" fill="#333" text-anchor="end">500</text>
<text x="35.2" y="500.4" font-size="5.7" fill="#333" text-anchor="end">1000</text>
<text x="35.2" y="459.1" font-size="5.7" fill="#333" text-anchor="end">1500</text>
<text x="35.2" y="417.8" font-size="5.7" fill="#333" text-anchor="end">2000</text>
<text x="35.2" y="391.4" font-size="5.6" fill="#333" text-anchor="end" textLength="15.2" lengthAdjust="spacingAndGlyphs">Intens.</text>
<line x1="55.9" y1="581" x2="55.9" y2="582.8" stroke="#333" stroke-width="0.7"/>
<line x1="69.4" y1="581" x2="69.4" y2="582.8" stroke="#333" stroke-width="0.7"/>
<line x1="83" y1="581" x2="83" y2="583.6" stroke="#333" stroke-width="0.7"/>
<line x1="96.5" y1="581" x2="96.5" y2="582.8" stroke="#333" stroke-width="0.7"/>
<line x1="110.1" y1="581" x2="110.1" y2="582.8" stroke="#333" stroke-width="0.7"/>
<line x1="123.6" y1="581" x2="123.6" y2="582.8" stroke="#333" stroke-width="0.7"/>
<line x1="137.2" y1="581" x2="137.2" y2="582.8" stroke="#333" stroke-width="0.7"/>
<line x1="150.7" y1="581" x2="150.7" y2="583.6" stroke="#333" stroke-width="0.7"/>
<line x1="164.3" y1="581" x2="164.3" y2="582.8" stroke="#333" stroke-width="0.7"/>
<line x1="177.8" y1="581" x2="177.8" y2="582.8" stroke="#333" stroke-width="0.7"/>
<line x1="191.3" y1="581" x2="191.3" y2="582.8" stroke="#333" stroke-width="0.7"/>
<line x1="204.9" y1="581" x2="204.9" y2="582.8" stroke="#333" stroke-width="0.7"/>
<line x1="218.4" y1="581" x2="218.4" y2="583.6" stroke="#333" stroke-width="0.7"/>
<line x1="232" y1="581" x2="232" y2="582.8" stroke="#333" stroke-width="0.7"/>
<line x1="245.5" y1="581" x2="245.5" y2="582.8" stroke="#333" stroke-width="0.7"/>
<line x1="259.1" y1="581" x2="259.1" y2="582.8" stroke="#333" stroke-width="0.7"/>
<line x1="272.6" y1="581" x2="272.6" y2="582.8" stroke="#333" stroke-width="0.7"/>
<line x1="286.2" y1="581" x2="286.2" y2="583.6" stroke="#333" stroke-width="0.7"/>
<line x1="299.7" y1="581" x2="299.7" y2="582.8" stroke="#333" stroke-width="0.7"/>
<line x1="313.3" y1="581" x2="313.3" y2="582.8" stroke="#333" stroke-width="0.7"/>
<line x1="326.8" y1="581" x2="326.8" y2="582.8" stroke="#333" stroke-width="0.7"/>
<line x1="340.4" y1="581" x2="340.4" y2="582.8" stroke="#333" stroke-width="0.7"/>
<line x1="353.9" y1="581" x2="353.9" y2="583.6" stroke="#333" stroke-width="0.7"/>
<line x1="367.4" y1="581" x2="367.4" y2="582.8" stroke="#333" stroke-width="0.7"/>
<line x1="381" y1="581" x2="381" y2="582.8" stroke="#333" stroke-width="0.7"/>
<line x1="394.5" y1="581" x2="394.5" y2="582.8" stroke="#333" stroke-width="0.7"/>
<line x1="408.1" y1="581" x2="408.1" y2="582.8" stroke="#333" stroke-width="0.7"/>
<line x1="421.6" y1="581" x2="421.6" y2="583.6" stroke="#333" stroke-width="0.7"/>
<line x1="435.2" y1="581" x2="435.2" y2="582.8" stroke="#333" stroke-width="0.7"/>
<line x1="448.7" y1="581" x2="448.7" y2="582.8" stroke="#333" stroke-width="0.7"/>
<line x1="462.3" y1="581" x2="462.3" y2="582.8" stroke="#333" stroke-width="0.7"/>
<line x1="475.8" y1="581" x2="475.8" y2="582.8" stroke="#333" stroke-width="0.7"/>
<line x1="489.4" y1="581" x2="489.4" y2="583.6" stroke="#333" stroke-width="0.7"/>
<line x1="502.9" y1="581" x2="502.9" y2="582.8" stroke="#333" stroke-width="0.7"/>
<line x1="516.5" y1="581" x2="516.5" y2="582.8" stroke="#333" stroke-width="0.7"/>
<line x1="530" y1="581" x2="530" y2="582.8" stroke="#333" stroke-width="0.7"/>
<line x1="543.5" y1="581" x2="543.5" y2="582.8" stroke="#333" stroke-width="0.7"/>
<line x1="557.1" y1="581" x2="557.1" y2="583.6" stroke="#333" stroke-width="0.7"/>
<line x1="570.6" y1="581" x2="570.6" y2="582.8" stroke="#333" stroke-width="0.7"/>
<line x1="584.2" y1="581" x2="584.2" y2="582.8" stroke="#333" stroke-width="0.7"/>
<line x1="597.7" y1="581" x2="597.7" y2="582.8" stroke="#333" stroke-width="0.7"/>
<line x1="611.3" y1="581" x2="611.3" y2="582.8" stroke="#333" stroke-width="0.7"/>
<line x1="624.8" y1="581" x2="624.8" y2="583.6" stroke="#333" stroke-width="0.7"/>
<line x1="638.4" y1="581" x2="638.4" y2="582.8" stroke="#333" stroke-width="0.7"/>
<line x1="651.9" y1="581" x2="651.9" y2="582.8" stroke="#333" stroke-width="0.7"/>
<line x1="665.5" y1="581" x2="665.5" y2="582.8" stroke="#333" stroke-width="0.7"/>
<line x1="679" y1="581" x2="679" y2="582.8" stroke="#333" stroke-width="0.7"/>
<text x="81.3" y="589.9" font-size="5.7" fill="#333" text-anchor="middle">600</text>
<text x="149" y="589.9" font-size="5.7" fill="#333" text-anchor="middle">700</text>
<text x="216.7" y="589.9" font-size="5.7" fill="#333" text-anchor="middle">800</text>
<text x="284.5" y="589.9" font-size="5.7" fill="#333" text-anchor="middle">900</text>
<text x="352.2" y="589.9" font-size="5.7" fill="#333" text-anchor="middle">1000</text>
<text x="419.9" y="589.9" font-size="5.7" fill="#333" text-anchor="middle">1100</text>
<text x="487.7" y="589.9" font-size="5.7" fill="#333" text-anchor="middle">1200</text>
<text x="555.4" y="589.9" font-size="5.7" fill="#333" text-anchor="middle">1300</text>
<text x="623.1" y="589.9" font-size="5.7" fill="#333" text-anchor="middle">1400</text>
<text x="670.4" y="589.6" font-size="5.6" fill="#333" text-anchor="middle" textLength="9" lengthAdjust="spacingAndGlyphs">m/z</text>
<polygon points="44,581 44,579.9 44.5,579.7 44.9,579.8 45.4,579.7 45.8,579.7 46.3,580 46.7,580 47.2,579.5 47.6,579.9 48.1,579.9 48.5,579.4 49,579.7 49.4,579.5 49.9,579.7 50.3,579.7 50.8,579.9 51.2,579.7 51.7,579.5 52.1,579.7 52.6,579.6 53,579.6 53.5,580 53.9,579.6 54.4,579.7 54.8,579.8 55.3,580 55.7,579.5 56.2,579.7 56.6,579.6 57.1,579.5 57.5,579.6 58,579.5 58.4,579.8 58.9,579.6 59.3,579.8 59.8,579.5 60.2,579.5 60.7,580 61.1,579.9 61.6,579.9 62,579.5 62.5,579.8 62.9,579.7 63.4,579.8 63.8,579.7 64.3,579.8 64.7,579.8 65.2,579.7 65.6,579.7 66.1,579.5 66.5,579.6 67,579.5 67.4,579.5 67.9,579.4 68.3,579.6 68.8,579.9 69.2,579.5 69.7,579.5 70.1,579.5 70.6,579.7 71,579.6 71.5,579.9 71.9,579.5 72.4,579.7 72.8,579.9 73.3,580 73.7,579.5 74.2,579.4 74.6,580 75.1,579.6 75.5,579.8 76,579.9 76.4,579.9 76.9,579.6 77.3,579.5 77.8,580 78.2,579.7 78.7,580 79.1,579.6 79.6,579.8 80,579.5 80.5,579.5 80.9,579.7 81.4,579.4 81.8,579.8 82.3,580 82.7,579.7 83.2,580 83.6,579.9 84.1,579.8 84.5,579.7 85,579.9 85.4,580 85.9,579.5 86.3,579.8 86.8,579.5 87.2,579.5 87.7,579.8 88.1,579.8 88.6,579.7 89,579.6 89.5,579.7 89.9,579.7 90.4,579.7 90.8,579.5 91.3,579.7 91.7,579.8 92.2,579.6 92.6,579.9 93.1,579.8 93.5,579.5 94,579.7 94.4,579.7 94.9,580 95.3,579.8 95.8,579.7 96.2,580 96.7,579.7 97.1,579.7 97.6,580 98,579.7 98.5,579.8 98.9,579.6 99.4,579.8 99.8,579.6 100.3,579.6 100.7,580 101.2,580 101.6,579.6 102.1,579.5 102.5,579.9 103,579.8 103.4,579.7 103.9,579.8 104.3,579.8 104.8,579.8 105.2,579.8 105.7,579.7 106.1,579.8 106.6,579.8 107,579.6 107.5,580 107.9,579.7 108.4,579.6 108.8,579.8 109.3,579.9 109.7,579.6 110.2,579.9 110.6,579.9 111.1,579.8 111.5,579.6 112,580 112.4,579.8 112.9,579.8 113.3,579.5 113.8,579.8 114.2,579.5 114.7,579.9 115.1,579.8 115.6,579.6 116,579.5 116.5,579.8 116.9,579.9 117.4,580 117.8,579.7 118.3,579.9 118.7,579.6 119.2,579.5 119.6,579.9 120.1,579.9 120.5,579.6 121,579.6 121.4,579.6 121.9,579.8 122.3,579.9 122.8,579.9 123.2,579.6 123.7,579.9 124.1,579.8 124.6,579.8 125,579.8 125.5,579.8 125.9,579.5 126.4,579.9 126.8,580 127.3,579.5 127.7,579.5 128.2,579.4 128.6,579.8 129.1,579.5 129.5,579.5 130,579.9 130.4,579.6 130.9,579.5 131.3,579.6 131.8,579.7 132.2,579.9 132.7,579.8 133.1,579.9 133.6,580 134,579.7 134.5,579.9 134.9,579.6 135.4,580 135.8,579.5 136.3,579.6 136.7,579.5 137.2,579.5 137.6,579.5 138.1,579.7 138.5,580 139,579.6 139.4,579.9 139.9,579.8 140.3,579.6 140.8,579.7 141.2,579.8 141.7,579.5 142.1,579.7 142.6,579.8 143,579.9 143.5,579.5 143.9,579.7 144.4,579.6 144.8,579.8 145.3,579.9 145.7,579.7 146.2,579.5 146.6,579.9 147.1,579.6 147.5,579.5 148,579.6 148.4,579.5 148.8,580 149.3,579.7 149.7,579.5 150.2,580 150.6,579.9 151.1,579.9 151.5,579.7 152,579.8 152.4,579.7 152.9,579.5 153.3,580 153.8,580 154.2,579.9 154.7,579.9 155.1,580 155.6,579.4 156,579.5 156.5,579.9 156.9,579.7 157.4,579.8 157.8,579.8 158.3,579.8 158.7,579.6 159.2,579.6 159.6,579.7 160.1,579.8 160.5,579.8 161,579.9 161.4,579.6 161.9,579.5 162.3,579.7 162.8,579.9 163.2,579.8 163.7,579.7 164.1,579.5 164.6,579.4 165,579.7 165.5,579.4 165.9,579.5 166.4,579.6 166.8,579.7 167.3,579.6 167.7,579.5 168.2,579.6 168.6,579.5 169.1,579.6 169.5,579.7 170,579.5 170.4,579.4 170.9,579.8 171.3,579.6 171.8,579.6 172.2,579.3 172.7,579.2 173.1,579.6 173.6,579.3 174,579.3 174.5,579.7 174.9,579.5 175.4,579.8 175.8,579.3 176.3,579.4 176.7,579.2 177.2,579.3 177.6,579.4 178.1,579.3 178.5,579.4 179,579.8 179.4,579.4 179.9,579.8 180.3,579.7 180.8,579.3 181.2,579.8 181.7,579.8 182.1,579.7 182.6,579.2 183,579.7 183.5,579.8 183.9,579.2 184.4,579.7 184.8,579.2 185.3,579.3 185.7,579.2 186.2,579.1 186.6,579.4 187.1,579.2 187.5,579.8 188,579.2 188.4,579.4 188.9,579.2 189.3,579.7 189.8,579.2 190.2,579.1 190.7,579.7 191.1,579.5 191.6,579.3 192,579.1 192.5,579.6 192.9,579.6 193.4,579.6 193.8,579.3 194.3,579.2 194.7,579.4 195.2,579.4 195.6,579.4 196.1,579.5 196.5,579.4 197,579.7 197.4,579.3 197.9,579 198.3,579.4 198.8,579.1 199.2,579.6 199.7,579.2 200.1,579.1 200.6,579.2 201,579.3 201.5,579.3 201.9,579.2 202.4,579 202.8,579.6 203.3,579.6 203.7,579.1 204.2,578.9 204.6,579.3 205.1,579.3 205.5,579.1 206,579.5 206.4,579.4 206.9,579.5 207.3,579.2 207.8,579.4 208.2,579.5 208.7,579.1 209.1,578.9 209.6,579.4 210,579.1 210.5,579.3 210.9,578.9 211.4,579.1 211.8,579.4 212.3,579.4 212.7,579.6 213.2,579.2 213.6,579.3 214.1,579.5 214.5,579.3 215,579.3 215.4,578.9 215.9,579.5 216.3,578.7 216.8,579.2 217.2,579.1 217.7,579.2 218.1,578.9 218.6,578.9 219,579.1 219.5,579.2 219.9,578.9 220.4,578.8 220.8,579.2 221.3,578.9 221.7,578.7 222.2,579.1 222.6,579.3 223.1,579.3 223.5,578.9 224,578.9 224.4,578.7 224.9,578.8 225.3,579.3 225.8,579.4 226.2,579.3 226.7,579.4 227.1,578.9 227.6,578.7 228,578.7 228.5,579.3 228.9,578.7 229.4,579.2 229.8,579.1 230.3,578.8 230.7,579.4 231.2,579.4 231.6,578.7 232.1,579.2 232.5,579.2 233,578.9 233.4,578.9 233.9,579.5 234.3,579.2 234.8,579.1 235.2,579 235.7,579.3 236.1,578.9 236.6,578.6 237,579.1 237.5,578.9 237.9,579.3 238.4,579.2 238.8,578.8 239.3,579.3 239.7,578.6 240.2,578.6 240.6,579.3 241.1,578.5 241.5,579.1 242,578.7 242.4,578.7 242.9,579.1 243.3,578.8 243.8,578.8 244.2,578.6 244.7,579.1 245.1,578.7 245.6,578.5 246,578.7 246.5,578.9 246.9,579.3 247.4,578.9 247.8,579 248.3,578.7 248.7,578.7 249.2,578.8 249.6,579.2 250.1,578.7 250.5,578.7 251,579.2 251.4,578.5 251.9,578.7 252.3,579.2 252.8,578.4 253.2,579.2 253.7,579 254.1,578.6 254.6,578.8 255,578.8 255.5,578.7 255.9,578.9 256.4,579 256.8,579.2 257.3,579.3 257.7,578.6 258.2,578.6 258.6,578.8 259.1,578.6 259.5,579 260,579.1 260.4,578.9 260.9,578.5 261.3,579.3 261.8,578.8 262.2,579.1 262.7,578.6 263.1,579 263.6,579 264,578.9 264.5,578.8 264.9,578.5 265.4,579 265.8,578.5 266.3,579.2 266.7,579 267.2,579.2 267.6,579.2 268.1,578.5 268.5,578.6 269,579.1 269.4,579.1 269.9,578.9 270.3,578.6 270.8,578.5 271.2,578.5 271.7,578.7 272.1,579.2 272.6,578.9 273,579.1 273.5,578.8 273.9,578.7 274.4,579.1 274.8,579 275.3,578.5 275.7,579.3 276.2,578.5 276.6,578.4 277.1,578.3 277.5,578.9 278,578.7 278.4,578.7 278.9,578.6 279.3,578.3 279.8,578.6 280.2,579 280.7,578.4 281.1,578.8 281.6,578.7 282,578.5 282.5,579.3 282.9,578.5 283.4,578.6 283.8,578.8 284.3,578.7 284.7,578.8 285.2,579.1 285.6,578.7 286.1,579.2 286.5,578.8 287,578.6 287.4,578.8 287.9,578.7 288.3,578.3 288.8,578.3 289.2,579.1 289.7,578.4 290.1,578.6 290.6,579.2 291,578.9 291.5,579 291.9,579.2 292.4,578.7 292.8,578.3 293.3,578.9 293.7,578.3 294.2,578.5 294.6,579.1 295.1,578.4 295.5,578.6 296,578.3 296.4,578.5 296.9,578.5 297.3,578.9 297.8,578.4 298.2,578.3 298.7,578.3 299.1,578.8 299.6,578.4 300,578.7 300.5,579.1 300.9,579.2 301.4,579.2 301.8,579 302.3,579.1 302.7,578.7 303.2,578.5 303.6,578.7 304.1,578.8 304.5,578.5 305,578.9 305.4,578.7 305.9,578.4 306.3,578.8 306.8,579 307.2,578.3 307.7,578.5 308.1,578.8 308.6,578.8 309,578.7 309.5,578.6 309.9,579 310.4,579.2 310.8,579 311.3,578.4 311.7,579.1 312.2,578.7 312.6,579 313.1,579 313.5,579 314,578.8 314.4,579 314.9,579.2 315.3,579.1 315.8,579 316.2,578.7 316.7,579.1 317.1,579.2 317.6,578.7 318,578.8 318.5,578.4 318.9,579.1 319.4,578.8 319.8,578.8 320.3,579.2 320.7,578.2 321.2,579 321.6,579.1 322.1,578.7 322.5,579 323,578.5 323.4,578.8 323.9,579.1 324.3,579.1 324.8,578.4 325.2,578.9 325.7,578.3 326.1,578.7 326.6,578.2 327,578.9 327.5,578.9 327.9,578.9 328.4,578.3 328.8,578.5 329.3,578.8 329.7,579.1 330.2,578.4 330.6,578.1 331.1,578.5 331.5,579.2 332,579.1 332.4,579.1 332.9,579 333.3,579.1 333.8,579.1 334.2,578.4 334.7,578.2 335.1,578.9 335.6,578.1 336,578.6 336.5,578.3 336.9,578.2 337.4,578.1 337.8,579.1 338.3,578.8 338.7,578.5 339.2,578.1 339.6,579.1 340.1,578.8 340.5,578.2 341,579 341.4,578.7 341.9,578.8 342.3,578.4 342.8,578.1 343.2,579 343.7,578.3 344.1,578.3 344.6,578.2 345,578.5 345.5,578.1 345.9,578.7 346.4,578.7 346.8,578.9 347.3,578.3 347.7,578.6 348.2,578.8 348.6,578.9 349.1,578.3 349.5,578.5 350,578.3 350.4,578.7 350.9,578.6 351.3,579 351.8,578.3 352.2,579.1 352.7,578.6 353.1,578.3 353.6,578.4 354,579 354.5,578.9 354.9,578.2 355.4,578.4 355.8,578.1 356.3,578.1 356.7,578.6 357.2,578.1 357.6,578.2 358.1,578.7 358.5,578.6 359,579 359.4,578.6 359.9,577.9 360.3,578.9 360.8,578.4 361.2,578.9 361.7,578.9 362.1,578.3 362.6,578.7 363,579 363.5,578.8 363.9,578.2 364.4,578.3 364.8,579 365.3,578.7 365.7,577.8 366.2,578.7 366.6,578.3 367.1,578.5 367.5,578 368,578.2 368.4,578 368.9,578.3 369.3,578.7 369.8,578.7 370.2,578.8 370.7,577.9 371.1,578.8 371.6,578.9 372,577.7 372.5,578.7 372.9,577.8 373.4,578.8 373.8,578.3 374.3,578.6 374.7,577.8 375.2,578.1 375.6,578.1 376.1,577.9 376.5,577.8 377,578.4 377.4,578.1 377.9,578.3 378.3,578.7 378.8,577.8 379.2,578.1 379.7,577.8 380.1,578.6 380.6,578.1 381,578.2 381.5,577.9 381.9,578.7 382.4,578.4 382.8,578.2 383.3,578.7 383.7,578.1 384.2,577.8 384.6,578.2 385.1,577.9 385.5,578 386,578.5 386.4,578.3 386.9,577.4 387.3,578.3 387.8,578.2 388.2,578.6 388.7,578.4 389.1,578.5 389.6,577.5 390,577.7 390.5,577.5 390.9,577.4 391.4,577.9 391.8,577.4 392.3,578 392.7,578.1 393.2,577.4 393.6,577.4 394.1,577.4 394.5,578 395,577.6 395.4,578.1 395.9,577.3 396.3,577.4 396.8,578.2 397.2,577.3 397.7,578.4 398.1,578.5 398.6,577.6 399,578.2 399.5,577.9 399.9,577.7 400.4,578.6 400.8,577.5 401.3,578.2 401.7,578 402.2,578.1 402.6,577.5 403.1,577.5 403.5,578.2 404,578.4 404.4,578.1 404.9,578 405.3,578.4 405.8,578.3 406.2,577.4 406.7,577.5 407.1,577.1 407.6,577.1 408,577.2 408.5,578 408.9,578.3 409.4,578 409.8,577.8 410.3,577.7 410.7,577.7 411.2,577.9 411.6,577.2 412.1,578 412.5,577.8 413,577.1 413.4,577.2 413.9,578 414.3,578.1 414.8,577.2 415.2,578.4 415.7,578.2 416.1,577.6 416.6,577.6 417,578.2 417.5,578.3 417.9,578.1 418.4,577.2 418.8,577.7 419.3,576.9 419.7,577.2 420.2,576.9 420.6,578.3 421.1,578.1 421.5,578.4 422,577.7 422.4,577.8 422.9,578.3 423.3,577.5 423.8,578.2 424.2,577.8 424.7,577.9 425.1,577.1 425.6,577.7 426,577.9 426.5,578.3 426.9,577.6 427.4,577.3 427.8,577.2 428.3,576.8 428.7,577 429.2,577.9 429.6,578.1 430.1,577 430.5,577 431,577.4 431.4,576.9 431.9,577.4 432.3,577.8 432.8,578 433.2,578.2 433.7,577.2 434.1,576.7 434.6,576.7 435,577.4 435.5,577.1 435.9,576.7 436.4,576.8 436.8,577.2 437.3,577.5 437.7,577.3 438.2,577.9 438.6,577.9 439.1,577 439.5,576.5 440,577.2 440.4,577.5 440.9,577.6 441.3,577.4 441.8,576.8 442.2,577.4 442.7,576.5 443.1,577.9 443.6,577.6 444,577.2 444.5,577.4 444.9,576.6 445.4,576.7 445.8,576.5 446.3,577 446.7,578 447.2,577.1 447.6,577.1 448.1,577.2 448.5,577.6 449,576.8 449.4,576.5 449.9,577.9 450.3,576.9 450.8,577.4 451.2,577.1 451.7,576.5 452.1,576.3 452.6,576.9 453,577.7 453.5,576.4 453.9,577.7 454.4,577.3 454.8,576.5 455.3,577.4 455.7,577.5 456.2,576.3 456.6,576.3 457.1,577.4 457.5,577.3 458,577.5 458.4,577.7 458.9,577.5 459.3,576.2 459.8,577.8 460.2,577.5 460.7,577.6 461.1,577.8 461.6,577 462,576.6 462.5,576.4 462.9,576.8 463.4,576.4 463.8,577.9 464.3,577.4 464.7,576.1 465.2,577.8 465.6,577.4 466.1,577 466.5,577.4 467,576.8 467.4,577.8 467.9,577.4 468.3,576.1 468.8,577.6 469.2,576.1 469.7,577.5 470.1,576 470.6,576.6 471,576.6 471.5,577.6 471.9,577.7 472.4,576.4 472.8,577.5 473.3,577.4 473.7,576.2 474.2,576.1 474.6,577.7 475.1,575.9 475.5,576.7 476,577 476.4,577.6 476.9,577 477.3,575.8 477.8,577.2 478.2,577.5 478.7,577.5 479.1,577.5 479.6,577 480,575.9 480.5,577.6 480.9,577.3 481.4,575.9 481.8,575.7 482.3,575.8 482.7,577.2 483.2,577 483.6,575.8 484.1,576.7 484.5,576.3 485,577 485.4,577.6 485.9,577 486.3,576.2 486.8,576.1 487.2,576.5 487.7,576.7 488.1,576.6 488.6,576.7 489,576.5 489.5,575.9 489.9,577.2 490.4,576.4 490.8,575.7 491.3,575.9 491.7,577.3 492.2,575.7 492.6,575.9 493.1,577.3 493.5,577.1 494,577.2 494.4,577.5 494.9,575.6 495.3,576.8 495.8,575.8 496.2,577.4 496.7,577.6 497.1,575.8 497.6,576 498,575.6 498.5,576.2 498.9,576.5 499.4,576 499.8,577.4 500.3,576.5 500.7,576.7 501.2,577.3 501.6,576.3 502.1,576.9 502.5,576.5 503,576.8 503.4,576.9 503.9,576.8 504.3,576.3 504.8,575.5 505.2,575.6 505.7,575.8 506.1,575.8 506.6,577 507,575.5 507.5,577 507.9,577.3 508.4,576.5 508.8,576 509.3,576.8 509.7,576.2 510.2,577 510.6,575.5 511.1,576.6 511.5,576.5 512,576.4 512.4,575.7 512.9,575.5 513.3,576.4 513.8,576.6 514.2,576.2 514.7,577.4 515.1,576.6 515.6,575.8 516,575.9 516.5,577.4 516.9,575.7 517.4,576.7 517.8,575.5 518.3,576.7 518.7,577.1 519.2,576.4 519.6,575.7 520.1,576.6 520.5,575.7 521,576 521.4,576.7 521.9,576.9 522.3,576.4 522.8,576.7 523.2,576.7 523.7,576.1 524.1,575.6 524.6,576.3 525,577.2 525.5,577 525.9,576.7 526.4,576.2 526.8,577.2 527.3,577.3 527.7,576.8 528.2,576.9 528.6,577.4 529.1,576.3 529.5,575.5 530,576.3 530.4,575.9 530.9,575.7 531.3,575.7 531.8,575.5 532.2,576.5 532.7,576 533.1,577.2 533.6,575.6 534,576.6 534.5,576.4 534.9,575.5 535.4,576.8 535.8,577 536.3,575.7 536.7,576.2 537.2,577.3 537.6,577.4 538.1,576.7 538.5,577.4 539,575.6 539.4,577 539.9,576.8 540.3,576.6 540.8,576.3 541.2,576.5 541.7,576.1 542.1,576 542.6,576.5 543,577.2 543.5,575.3 543.9,575.9 544.4,577.2 544.8,576.5 545.3,575.8 545.7,575.3 546.2,577.3 546.6,577.4 547.1,576.4 547.5,576.5 548,575.5 548.4,575.6 548.9,576.7 549.3,576.5 549.8,576.1 550.2,575.5 550.7,576.9 551.1,576.5 551.6,577.2 552,576 552.5,577.3 552.9,575.3 553.4,576.2 553.8,576.1 554.3,577.2 554.7,576.9 555.2,576.3 555.6,575.5 556.1,576.2 556.5,576.7 557,575.2 557.4,575.9 557.9,576.2 558.3,576.9 558.8,576.7 559.2,575.4 559.7,577.1 560.1,576.2 560.6,576 561,576.6 561.5,575.7 561.9,575.3 562.4,575.5 562.8,575.7 563.3,576.9 563.7,577.2 564.2,576.4 564.6,576.6 565.1,576.9 565.5,575.4 566,576.8 566.4,575.5 566.9,575.2 567.3,577.1 567.8,575.3 568.2,576.4 568.7,576.8 569.1,576.9 569.6,577.2 570,576.2 570.5,576.5 570.9,575.4 571.4,575.5 571.8,577.2 572.3,576.4 572.7,576.4 573.2,576.9 573.6,576.7 574.1,576.7 574.5,575.7 575,576.5 575.4,577 575.9,576.8 576.3,576.3 576.8,576 577.2,576.7 577.7,575.7 578.1,576.8 578.6,575.8 579,575.9 579.5,576.9 579.9,575.6 580.4,576.4 580.8,576.1 581.3,575.9 581.7,575.8 582.2,576.3 582.6,577.1 583.1,575.5 583.5,575.3 584,576.1 584.4,575.9 584.9,576.6 585.3,575.2 585.8,575.7 586.2,576.7 586.7,575.4 587.1,575 587.6,576.5 588,575 588.5,576.1 588.9,576.8 589.4,575.6 589.8,576.5 590.3,575.6 590.7,575.9 591.2,577 591.6,576 592.1,575.3 592.5,576.1 593,576 593.4,575.3 593.9,576.2 594.3,576.1 594.8,575.9 595.2,575.3 595.7,576.7 596.1,577 596.6,575.5 597,575.9 597.5,576.5 597.9,575.2 598.4,575.2 598.8,576 599.3,574.9 599.7,575.3 600.2,575.5 600.6,576.5 601.1,577.2 601.5,575.6 602,575.5 602.4,576.4 602.9,576.1 603.4,575.9 603.8,576.6 604.3,575.6 604.7,575.9 605.2,576.3 605.6,576.9 606.1,575.9 606.5,576.4 607,575.5 607.4,576.8 607.9,576.2 608.3,576.7 608.8,576.2 609.2,575.8 609.7,576.9 610.1,577 610.6,576 611,576.7 611.5,576 611.9,576.8 612.4,576.9 612.8,575.9 613.3,575 613.7,575.1 614.2,575.9 614.6,576.2 615.1,577 615.5,576.5 616,576.4 616.4,574.9 616.9,576.8 617.3,574.9 617.8,576 618.2,576.1 618.7,576.5 619.1,574.9 619.6,576.7 620,575.8 620.5,575.9 620.9,576.6 621.4,576.6 621.8,574.8 622.3,575.2 622.7,575.4 623.2,575 623.6,576.9 624.1,575.4 624.5,575.3 625,576.6 625.4,576 625.9,574.8 626.3,576.3 626.8,575.3 627.2,576.7 627.7,575.5 628.1,576.4 628.6,575.9 629,576.2 629.5,575 629.9,575.3 630.4,575.9 630.8,575.4 631.3,576.1 631.7,575.2 632.2,576.5 632.6,575.8 633.1,575.7 633.5,576.1 634,576.9 634.4,576.6 634.9,575.5 635.3,576.5 635.8,575.2 636.2,575.8 636.7,574.8 637.1,575 637.6,575.3 638,576.2 638.5,576.9 638.9,575.7 639.4,575.3 639.8,574.8 640.3,576.5 640.7,576.6 641.2,574.7 641.6,575.3 642.1,575.9 642.5,575.3 643,576.7 643.4,575.7 643.9,575.4 644.3,575.6 644.8,576.6 645.2,576.7 645.7,575.5 646.1,574.9 646.6,576.7 647,577 647.5,576.8 647.9,575.1 648.4,576.1 648.8,575.9 649.3,574.6 649.7,575.5 650.2,576.4 650.6,575.3 651.1,577 651.5,576.3 652,575.3 652.4,576.6 652.9,576.9 653.3,575.7 653.8,576.2 654.2,574.6 654.7,576.7 655.1,575 655.6,576 656,575 656.5,575.9 656.9,575.3 657.4,576.2 657.8,576.4 658.3,575.9 658.7,575 659.2,576.1 659.6,576.4 660.1,575.9 660.5,576.7 661,576.2 661.4,575.6 661.9,575.6 662.3,575.5 662.8,576.2 663.2,576.9 663.7,576.9 664.1,576.1 664.6,576.5 665,575.5 665.5,576.3 665.9,575.1 666.4,575.5 666.8,575.3 667.3,575.1 667.7,575.6 668.2,575.9 668.6,576.2 669.1,576.8 669.5,575 670,575.7 670.4,576.7 670.9,574.6 671.3,575.5 671.8,575.4 672.2,575.8 672.7,576.6 673.1,574.4 673.6,576.5 674,576 674.5,574.4 674.9,576.6 675.4,575.7 675.8,575.7 676.3,576.3 676.7,574.6 677.2,575.9 677.6,576.9 678.1,575.7 678.5,576.9 679,575.1 679,581" fill="#b4b4b4"/>
<path d="M45.1 581V578.5 M45.4 581V579.2 M45.9 581V580.1 M46.3 581V579.4 M47 581V580.3 M47.4 581V580.3 M47.9 581V578.9 M48.4 581V580.3 M48.9 581V578 M49.5 581V578.2 M50.1 581V579.6 M50.6 581V576.3 M51.2 581V580.2 M51.6 581V580 M52.2 581V578.1 M52.6 581V576.7 M53.1 581V579.4 M53.5 581V580.3 M54 581V580.2 M54.6 581V580.1 M54.9 581V579 M55.4 581V579 M55.8 581V580.2 M56.3 581V579.3 M56.7 581V578.9 M57.2 581V579.7 M57.6 581V580 M58.2 581V578.3 M58.8 581V578.8 M59.5 581V580.3 M60.1 581V580.3 M60.8 581V580.1 M61.4 581V579.9 M61.8 581V578.6 M62.3 581V579.9 M62.7 581V580.3 M63.2 581V580 M63.6 581V580.3 M64 581V580.2 M64.4 581V578.3 M64.9 581V580.2 M65.4 581V579.9 M65.8 581V578.6 M66.4 581V578.7 M66.9 581V580.2 M67.5 581V578.3 M68 581V580.3 M68.4 581V578.3 M68.8 581V578.1 M69.5 581V580.1 M69.9 581V578.3 M70.3 581V579.3 M70.7 581V580.3 M71.1 581V578.5 M71.5 581V580.1 M71.9 581V579.6 M72.4 581V580.1 M73 581V579.9 M73.5 581V580.3 M74.1 581V579.8 M74.6 581V578.6 M75.1 581V574.5 M75.6 581V579.7 M76.1 581V579.1 M76.8 581V580.3 M77.2 581V578.8 M77.5 581V579.6 M78.2 581V578.4 M78.5 581V580 M79.1 581V579.8 M79.7 581V577.9 M80.3 581V579.6 M81 581V580.3 M81.6 581V580.1 M82 581V580.2 M82.3 581V579.7 M82.7 581V579.1 M83.3 581V578.9 M83.6 581V580.2 M84.3 581V580.2 M84.7 581V578.6 M85.2 581V579.2 M85.8 581V578.8 M86.2 581V580.2 M86.8 581V579.9 M87.4 581V579.1 M87.8 581V578.9 M88.2 581V580.3 M88.8 581V579.5 M89.5 581V579.9 M89.9 581V580 M90.3 581V578.1 M90.8 581V579.3 M91.4 581V579.7 M91.9 581V578.6 M92.5 581V580.1 M92.8 581V579.8 M93.4 581V580.2 M93.8 581V579.6 M94.1 581V580.3 M94.8 581V579.8 M95.2 581V579.3 M95.8 581V580.3 M96.3 581V580.3 M96.8 581V580 M97.3 581V579.6 M97.8 581V570.8 M98.3 581V579.5 M98.6 581V576.5 M99.2 581V579.3 M99.8 581V568.4 M100.2 581V574.2 M100.7 581V578.3 M101.2 581V580.1 M101.8 581V580.2 M102.4 581V578 M102.9 581V577.8 M103.4 581V567.8 M103.8 581V578.8 M104.4 581V578.7 M105 581V580.2 M105.5 581V579.7 M106.1 581V578.8 M106.7 581V579.9 M107.3 581V578.5 M107.7 581V579.2 M108.4 581V580.2 M108.9 581V580.1 M109.4 581V577.9 M109.9 581V578.3 M110.3 581V578.5 M111 581V578.7 M111.4 581V568.3 M111.9 581V578.5 M112.4 581V578.1 M112.8 581V579.4 M113.4 581V579.5 M114.1 581V578.2 M114.5 581V580.1 M115.1 581V568.8 M115.6 581V579.8 M116.1 581V579.1 M116.8 581V580.1 M117.4 581V579.1 M118.1 581V580.2 M118.6 581V579.3 M119.2 581V580.1 M119.6 581V578 M120.1 581V578.8 M120.6 581V580.1 M121.2 581V567.5 M121.6 581V579.4 M121.9 581V579.7 M122.5 581V579.9 M122.9 581V578.2 M123.3 581V574.6 M123.9 581V580.1 M124.5 581V579.3 M125.1 581V578.5 M125.7 581V579.9 M126.3 581V575.3 M126.8 581V575.6 M127.4 581V580.1 M127.8 581V578.2 M128.3 581V578.6 M128.7 581V580.2 M129.2 581V579.9 M129.6 581V573.4 M130.2 581V574.8 M130.8 581V580 M131.2 581V578.3 M131.8 581V575.6 M132.3 581V568 M133 581V578.4 M133.5 581V578.3 M134 581V576.6 M134.4 581V565.7 M135 581V578.8 M135.4 581V578.2 M135.8 581V580.1 M136.5 581V578.6 M137 581V580.1 M137.5 581V566.2 M137.8 581V577.8 M138.4 581V578.5 M138.9 581V579 M139.6 581V580.1 M140.1 581V580.2 M140.5 581V580.2 M140.9 581V580 M141.6 581V579.2 M142.2 581V578.9 M142.6 581V580.1 M143 581V578.8 M143.6 581V579.4 M143.9 581V580 M144.4 581V579.1 M144.8 581V577.9 M145.5 581V579.5 M146.1 581V580.1 M146.6 581V579.6 M147.2 581V578.6 M147.6 581V578.9 M148.3 581V565.6 M148.7 581V578.9 M149.2 581V579.7 M149.9 581V579.5 M150.3 581V578.9 M150.9 581V565.7 M151.5 581V580 M151.8 581V580 M152.4 581V576.4 M152.9 581V579.6 M153.3 581V578.8 M153.8 581V570.4 M154.2 581V580.2 M154.7 581V579.2 M155.3 581V577.6 M156 581V575.5 M156.6 581V580.1 M157.1 581V579.9 M157.8 581V578.6 M158.3 581V579.9 M158.9 581V579.3 M159.5 581V580.1 M160.2 581V580.2 M160.8 581V580.2 M161.4 581V580.2 M161.7 581V578.4 M162.4 581V572.7 M162.8 581V576.8 M163.1 581V578.3 M163.6 581V579.7 M164.1 581V578 M164.6 581V578.3 M165 581V578.4 M165.6 581V578.5 M166.1 581V580.1 M166.5 581V574.9 M167.2 581V580.1 M167.7 581V579.5 M168.2 581V580.1 M168.8 581V579.4 M169.5 581V569.9 M170.1 581V565.6 M170.5 581V579.9 M171.1 581V567.1 M171.6 581V580.2 M172.2 581V580.2 M172.9 581V579.9 M173.5 581V579.7 M174.1 581V578.3 M174.5 581V579 M175 581V579.4 M175.4 581V578.1 M175.8 581V577.8 M176.4 581V573.6 M177 581V580 M177.4 581V572.2 M177.8 581V580.1 M178.3 581V573.8 M178.7 581V572.5 M179.3 581V579.4 M180 581V577.5 M180.5 581V578.3 M180.9 581V577.5 M181.5 581V580.2 M181.9 581V579.3 M182.4 581V580 M183 581V580.2 M183.4 581V579.5 M184 581V580 M184.5 581V576.1 M184.9 581V578.6 M185.4 581V578.3 M186 581V580.1 M186.5 581V580 M186.9 581V580.1 M187.4 581V579.8 M188 581V572.3 M188.5 581V579.9 M189.1 581V575.3 M189.5 581V574.2 M190 581V579 M190.4 581V578.8 M190.8 581V575.3 M191.4 581V578.3 M191.8 581V580.1 M192.3 581V574.9 M192.8 581V579.3 M193.2 581V579.4 M193.7 581V574.7 M194.2 581V580.1 M194.8 581V579.9 M195.3 581V579.6 M195.7 581V580 M196.2 581V574.1 M196.7 581V578.2 M197.1 581V579.2 M197.4 581V578.6 M198.1 581V579.3 M198.6 581V579.2 M199.2 581V578.7 M199.6 581V579.6 M200.1 581V578.6 M200.6 581V579.6 M201.1 581V578.8 M201.7 581V579.4 M202.1 581V579.4 M202.7 581V580.2 M203.2 581V579.8 M203.7 581V579.8 M204.2 581V580.2 M204.8 581V572.2 M205.3 581V579.6 M205.9 581V580 M206.2 581V578.7 M206.8 581V580 M207.2 581V579.4 M207.8 581V578.9 M208.4 581V578.3 M208.8 581V578.4 M209.2 581V578.9 M209.7 581V578.9 M210.3 581V579.6 M210.6 581V579.3 M211.1 581V576.8 M211.8 581V579 M212.3 581V580.1 M213 581V578.7 M213.6 581V579.1 M214.3 581V576.5 M214.6 581V580 M215 581V576.2 M215.6 581V579.5 M215.9 581V572.4 M216.5 581V579.3 M216.8 581V578.5 M217.4 581V579.8 M217.8 581V580 M218.4 581V579.7 M218.8 581V579.5 M219.4 581V578.7 M220 581V580 M220.7 581V578 M221.2 581V578.6 M221.8 581V579.6 M222.3 581V578.1 M222.8 581V578.7 M223.3 581V580.1 M224 581V578.6 M224.5 581V578.8 M225.1 581V579.9 M225.5 581V579.1 M225.8 581V580.2 M226.2 581V579.1 M226.8 581V579.5 M227.4 581V579.8 M228 581V579.8 M228.6 581V579 M229.1 581V579.4 M229.5 581V579.6 M229.9 581V578.2 M230.6 581V579 M231 581V578.5 M231.6 581V579.5 M232.2 581V578.8 M232.6 581V578.8 M233.1 581V580.2 M233.7 581V579.8 M234.3 581V579.2 M234.8 581V579.1 M235.4 581V580 M236.1 581V577.3 M236.7 581V580 M237.3 581V574 M237.9 581V579.2 M238.5 581V579.4 M239 581V580.1 M239.7 581V579.9 M240.3 581V579.2 M240.8 581V577.2 M241.2 581V579.6 M241.6 581V579.3 M242.1 581V580.2 M242.4 581V578.3 M243.1 581V579.8 M243.7 581V580 M244.2 581V578.1 M244.6 581V579.7 M245.2 581V579.9 M245.7 581V579 M246.3 581V580 M246.9 581V580.1 M247.4 581V580 M248 581V578.3 M248.4 581V579.6 M248.9 581V578.5 M249.4 581V579.7 M249.9 581V579.8 M250.5 581V578.2 M250.9 581V579.9 M251.3 581V572.2 M251.8 581V572.7 M252.4 581V578.1 M253 581V578.6 M253.4 581V578.8 M253.8 581V579 M254.4 581V577.9 M254.9 581V578.3 M255.3 581V578.3 M256 581V577.7 M256.6 581V578.8 M257 581V578.6 M257.3 581V578.4 M257.8 581V578 M258.2 581V578 M258.8 581V578.2 M259.4 581V578.1 M259.9 581V578.1 M260.6 581V578.6 M261.1 581V578.2 M261.7 581V578.8 M262.2 581V578.1 M262.8 581V578.7 M263.3 581V576.5 M263.8 581V578.6 M264.2 581V578.6 M264.7 581V578.5 M265.3 581V577.7 M265.9 581V578 M266.4 581V578.7 M266.9 581V578.5 M267.3 581V577.9 M268 581V578.8 M268.6 581V578.8 M269 581V578.1 M269.6 581V578.2 M270.3 581V578.8 M270.9 581V578.1 M271.3 581V578.4 M271.7 581V578.1 M272.2 581V578.7 M272.8 581V578.1 M273.4 581V577.9 M274 581V578.1 M274.4 581V578.4 M275 581V578.5 M275.3 581V578.1 M275.9 581V575.8 M276.3 581V577.6 M276.7 581V578.6 M277.4 581V577.9 M278 581V578.5 M278.5 581V578.5 M279 581V578.5 M279.6 581V577.9 M280.1 581V578.2 M280.6 581V578.8 M281 581V578.4 M281.5 581V578.1 M282.1 581V578.5 M282.7 581V578.6 M283 581V578.4 M283.5 581V578.7 M283.9 581V577.7 M284.5 581V578.2 M284.9 581V578.9 M285.3 581V578.8 M285.9 581V578.1 M286.4 581V578.6 M287 581V578 M287.4 581V576.6 M288 581V578.7 M288.5 581V578.8 M289.1 581V578.3 M289.6 581V577.5 M290.1 581V578.9 M290.4 581V578.3 M290.8 581V578.5 M291.3 581V578.2 M291.8 581V577.6 M292.5 581V578.8 M292.9 581V577.6 M293.5 581V577.8 M293.8 581V577.8 M294.3 581V577.2 M294.9 581V578.4 M295.5 581V578.9 M296.2 581V577.7 M296.7 581V578.1 M297.3 581V578 M297.6 581V578.6 M298.3 581V578.2 M298.7 581V578.5 M299.1 581V577.8 M299.6 581V577.9 M300.2 581V577.9 M300.7 581V578.3 M301.4 581V577.6 M301.9 581V578.8 M302.4 581V578.3 M302.9 581V577.9 M303.3 581V578.2 M303.7 581V578.8 M304.3 581V577.8 M304.7 581V577.8 M305.3 581V578.5 M305.7 581V578.2 M306.3 581V577.9 M306.6 581V577.6 M307.1 581V578.6 M307.6 581V578.4 M308 581V578 M308.3 581V578.5 M308.9 581V578.7 M309.5 581V577.9 M310.2 581V578.2 M310.8 581V577.7 M311.2 581V578.6 M311.9 581V578.1 M312.3 581V578.2 M312.9 581V578.3 M313.5 581V577.6 M313.9 581V578.3 M314.4 581V578 M315 581V578.4 M315.6 581V577.8 M316.1 581V578.7 M316.7 581V577.6 M317.3 581V578.7 M317.8 581V578.8 M318.2 581V577.7 M318.7 581V578.4 M319.1 581V578.8 M319.5 581V578.5 M320.1 581V576.7 M320.5 581V578.7 M321.2 581V578.5 M321.8 581V578.1 M322.2 581V578.8 M322.8 581V578.6 M323.2 581V577.8 M323.8 581V578.1 M324.3 581V577.8 M324.7 581V577.8 M325.2 581V577.6 M325.7 581V578.2 M326.2 581V578.1 M326.6 581V578.2 M327.1 581V577.8 M327.6 581V578.2 M328.2 581V577.4 M328.7 581V578.3 M329.1 581V578.4 M329.6 581V578.5 M329.9 581V578.3 M330.6 581V576.4 M330.9 581V578.2 M331.6 581V578.3 M332 581V578.3 M332.6 581V578.1 M333.1 581V577.8 M333.5 581V577.4 M334.1 581V577.4 M334.7 581V578.2 M335.4 581V577.6 M335.9 581V576.6 M336.4 581V577.5 M336.8 581V578.2 M337.4 581V578 M337.9 581V578.4 M338.3 581V578.8 M338.9 581V578.4 M339.2 581V577.6 M339.8 581V578.2 M340.4 581V578.3 M340.8 581V577.4 M341.1 581V577.9 M341.6 581V577.6 M342.1 581V577.4 M342.7 581V578.7 M343.3 581V578.6 M343.6 581V577.2 M344.1 581V577.9 M344.8 581V578.6 M345.2 581V577.4 M345.8 581V578.6 M346.2 581V578.5 M346.8 581V578.3 M347.4 581V578.4 M347.8 581V577.7 M348.3 581V577.8 M348.8 581V576.5 M349.4 581V578.4 M349.9 581V577.8 M350.5 581V578.2 M351 581V577.7 M351.4 581V578.6 M352 581V576.5 M352.5 581V578.7 M353 581V577.5 M353.6 581V577.4 M354.2 581V578 M354.6 581V577.8 M355.3 581V578.5 M355.9 581V577.5 M356.4 581V578.6 M356.8 581V577.4 M357.3 581V577.9 M357.9 581V577.8 M358.4 581V578.5 M358.8 581V578.1 M359.3 581V577.3 M359.7 581V578 M360.2 581V577.7 M360.8 581V577.7 M361.2 581V577.4 M361.7 581V578.3 M362 581V578.2 M362.6 581V577.6 M363.1 581V577.5 M363.5 581V577.2 M363.9 581V577.3 M364.3 581V577.7 M364.7 581V578.3 M365.3 581V578.4 M365.8 581V578.5 M366.1 581V576.8 M366.7 581V578.2 M367.1 581V577 M367.6 581V578.3 M368.2 581V577.4 M368.7 581V577 M369.2 581V577 M369.7 581V577.2 M370.2 581V577.9 M370.6 581V577.9 M371 581V578.1 M371.4 581V576.5 M371.9 581V578 M372.6 581V578 M373.3 581V577.2 M373.6 581V578.5 M374.2 581V577.7 M374.6 581V577.8 M375.2 581V577.8 M375.6 581V577.3 M376 581V577.1 M376.4 581V578.2 M376.8 581V578.2 M377.4 581V577.2 M377.9 581V577.6 M378.5 581V577.2 M379 581V576.7 M379.4 581V577.3 M379.9 581V577.9 M380.4 581V578.3 M380.8 581V578.2 M381.4 581V577.5 M382 581V577.7 M382.5 581V577.9 M383.1 581V577.7 M383.5 581V576.8 M383.9 581V576.5 M384.4 581V576.8 M385 581V577.9 M385.5 581V576.8 M386 581V577.7 M386.4 581V577 M386.9 581V575.8 M387.5 581V577.2 M388 581V576.7 M388.6 581V577.2 M389.2 581V577.9 M389.7 581V577.5 M390 581V576.5 M390.5 581V577.6 M391.1 581V576.5 M391.8 581V577.6 M392.3 581V576.5 M392.7 581V576.8 M393 581V577.5 M393.5 581V577.8 M394 581V577.9 M394.4 581V577.9 M395 581V577.5 M395.4 581V578.2 M396 581V578 M396.7 581V578.2 M397.1 581V576.8 M397.7 581V576.7 M398.3 581V577.1 M398.7 581V577.3 M399.2 581V576.3 M399.8 581V577.9 M400.3 581V577.4 M400.7 581V577.7 M401.1 581V576.5 M401.6 581V576.8 M402 581V578 M402.5 581V576.2 M402.9 581V576.8 M403.4 581V577.2 M403.8 581V576.3 M404.3 581V577.8 M404.8 581V576.6 M405.2 581V576.6 M405.8 581V577.7 M406.2 581V577.6 M406.5 581V577.8 M406.9 581V577 M407.5 581V576.7 M408.1 581V576.1 M408.7 581V576.6 M409.3 581V577.9 M410 581V576.7 M410.6 581V577.2 M411 581V577.4 M411.7 581V576 M412.3 581V575 M412.7 581V577.8 M413.2 581V577.6 M413.7 581V576.8 M414.1 581V577.9 M414.8 581V577.6 M415.4 581V576.2 M415.7 581V577.3 M416.3 581V574.4 M416.8 581V576.3 M417.2 581V574.9 M417.9 581V576.6 M418.4 581V577 M419 581V575.8 M419.6 581V577.5 M420 581V576.7 M420.6 581V576.6 M421 581V577.3 M421.6 581V576.5 M422.1 581V577.8 M422.5 581V575.8 M422.9 581V577.6 M423.3 581V577.1 M423.7 581V576.5 M424.1 581V576.2 M424.6 581V577.2 M425 581V577.2 M425.4 581V576.4 M425.8 581V576.9 M426.1 581V576.7 M426.6 581V576.2 M427.1 581V577.1 M427.7 581V576.7 M428.1 581V576.2 M428.7 581V577.1 M429.4 581V576.5 M430 581V576.1 M430.6 581V576.4 M431 581V577.5 M431.4 581V577 M432.1 581V576.5 M432.4 581V576.2 M433 581V576.9 M433.6 581V576 M434.2 581V575.8 M434.7 581V576.1 M435.3 581V575.6 M435.9 581V577.4 M436.5 581V575.8 M437.1 581V576.3 M437.5 581V576.6 M438 581V577.5 M438.4 581V575.7 M439.1 581V576.6 M439.4 581V577 M439.9 581V576.8 M440.5 581V576.7 M441 581V577 M441.3 581V577.4 M441.8 581V576.6 M442.5 581V576.7 M442.8 581V575.5 M443.3 581V577.5 M443.8 581V577.3 M444.5 581V576.9 M445 581V576.1 M445.5 581V575.6 M446.1 581V576.3 M446.5 581V575.3 M447 581V576.3 M447.5 581V577 M448.2 581V575.7 M448.7 581V576.7 M449.3 581V577.1 M449.8 581V577.3 M450.2 581V576.5 M450.7 581V576.2 M451.4 581V575.4 M451.9 581V575.2 M452.3 581V576.1 M452.8 581V577.2 M453.2 581V576.4 M453.8 581V576.8 M454.4 581V577 M454.9 581V577.1 M455.6 581V576.7 M456.1 581V575.1 M456.5 581V576.5 M456.9 581V576.2 M457.3 581V577.3 M457.8 581V576.3 M458.4 581V575.2 M458.9 581V577.3 M459.5 581V576.2 M460.2 581V575.6 M460.7 581V576.6 M461.2 581V577.3 M461.8 581V574.2 M462.4 581V577.2 M462.8 581V576.1 M463.3 581V576.4 M463.9 581V574.9 M464.6 581V575.3 M465 581V575 M465.5 581V575.3 M465.8 581V576.1 M466.3 581V575.2 M467 581V576.5 M467.3 581V576 M467.8 581V575 M468.5 581V575.8 M468.9 581V576 M469.3 581V575.1 M469.9 581V576.7 M470.3 581V577 M470.9 581V575.4 M471.5 581V576.7 M471.9 581V576.2 M472.4 581V575.6 M473 581V576.3 M473.3 581V575.2 M473.9 581V575.5 M474.2 581V576.9 M474.8 581V575.8 M475.3 581V576 M475.7 581V575.4 M476.3 581V576.4 M476.8 581V575.5 M477.4 581V575.9 M477.9 581V576.5 M478.4 581V576.7 M479 581V574.7 M479.6 581V576.5 M480.2 581V576.5 M480.7 581V576 M481.3 581V576.5 M481.7 581V576.6 M482.3 581V576.3 M482.9 581V576.8 M483.4 581V574.7 M483.8 581V575 M484.3 581V576.5 M484.8 581V575.4 M485.3 581V576.6 M485.8 581V574.8 M486.2 581V575.4 M486.7 581V576.1 M487.2 581V576.1 M487.6 581V576.7 M488.2 581V576 M488.7 581V575.3 M489.2 581V574.9 M489.8 581V576.4 M490.2 581V575.6 M490.7 581V576.9 M491.2 581V574.5 M491.8 581V575.5 M492.2 581V574.6 M492.6 581V575.5 M493.3 581V574.4 M493.7 581V576.3 M494.2 581V576.3 M494.6 581V576.1 M495 581V574.3 M495.6 581V574.3 M496 581V576.8 M496.5 581V572.8 M497.1 581V576.2 M497.7 581V576.7 M498.2 581V574.8 M498.8 581V576 M499.2 581V575.7 M499.9 581V575.8 M500.4 581V574.5 M501 581V576.4 M501.5 581V575.3 M502.1 581V576.3 M502.7 581V574.4 M503.3 581V576.4 M503.7 581V574.7 M504.1 581V576.8 M504.5 581V575 M505.2 581V575.4 M505.8 581V574.7 M506.5 581V575.7 M506.9 581V575.3 M507.6 581V575.6 M508.1 581V574.9 M508.5 581V576 M508.9 581V574.3 M509.4 581V574.4 M509.8 581V576.6 M510.3 581V576.6 M510.8 581V576.8 M511.5 581V576.1 M511.8 581V574.8 M512.4 581V574.7 M512.9 581V576.5 M513.3 581V574.6 M513.8 581V574.4 M514.3 581V575.8 M515 581V576.2 M515.6 581V574.1 M516.1 581V576.4 M516.5 581V575.1 M517.2 581V575.8 M517.8 581V574.8 M518.2 581V576.4 M518.7 581V574.3 M519 581V575.5 M519.6 581V574.5 M520 581V575.2 M520.7 581V576.4 M521.3 581V576.2 M521.6 581V576.6 M522 581V575.6 M522.7 581V576.1 M523.2 581V575.9 M523.7 581V574.4 M524.3 581V576.4 M524.7 581V576.1 M525.2 581V574.5 M525.9 581V575.9 M526.3 581V575.4 M526.9 581V574.5 M527.4 581V576.2 M528 581V573.9 M528.4 581V576.7 M528.8 581V575.6 M529.2 581V576.3 M529.9 581V574.7 M530.4 581V574.7 M531 581V574.4 M531.6 581V575 M532.2 581V574.2 M532.6 581V576.7 M533 581V576.2 M533.4 581V576.3 M533.8 581V576.7 M534.3 581V574.6 M534.6 581V576.6 M535 581V575.5 M535.5 581V575.7 M535.9 581V575.2 M536.5 581V572.2 M536.9 581V573.9 M537.4 581V574.5 M537.9 581V574.6 M538.2 581V574.3 M538.8 581V575.4 M539.5 581V575.6 M540.1 581V573.9 M540.8 581V576.4 M541.3 581V576 M541.8 581V574.8 M542.2 581V574.8 M542.6 581V575.3 M543 581V575.9 M543.4 581V573.9 M543.8 581V574.6 M544.3 581V575.9 M544.7 581V574.7 M545.1 581V575.3 M545.7 581V574.7 M546.1 581V573.9 M546.6 581V574.7 M547 581V574.3 M547.6 581V574.3 M548 581V576.5 M548.4 581V575.4 M548.9 581V573.4 M549.4 581V574.7 M550 581V576.5 M550.5 581V576.2 M550.9 581V575.6 M551.4 581V574.3 M551.9 581V575.8 M552.4 581V574.8 M553.1 581V574.6 M553.7 581V574.7 M554.3 581V574.4 M554.7 581V573.3 M555.4 581V575.8 M555.8 581V574.8 M556.2 581V575.4 M556.7 581V573.8 M557.2 581V576.1 M557.7 581V574.2 M558.1 581V574.1 M558.8 581V574.3 M559.3 581V575.6 M559.9 581V575.3 M560.3 581V576.4 M560.8 581V573.9 M561.4 581V574.9 M561.9 581V576.5 M562.4 581V576 M562.9 581V574 M563.4 581V574.9 M563.9 581V576.1 M564.2 581V575.1 M564.6 581V574.4 M565.1 581V573.8 M565.7 581V574.6 M566.2 581V575.5 M566.7 581V575.8 M567.3 581V575 M567.7 581V573.1 M568.1 581V574.3 M568.5 581V574.8 M569 581V575.4 M569.4 581V573.7 M570.1 581V575.4 M570.5 581V575.4 M571.2 581V574.5 M571.7 581V574.8 M572.2 581V574.4 M572.6 581V575.6 M573.2 581V575.4 M573.6 581V575.8 M574.2 581V576.1 M574.9 581V574.9 M575.3 581V574.2 M575.7 581V574.7 M576.2 581V575.5 M576.6 581V574 M577.3 581V573.9 M577.9 581V574 M578.3 581V575.3 M578.8 581V574.9 M579.3 581V574.9 M579.8 581V576.4 M580.3 581V574.8 M580.8 581V575.7 M581.3 581V575.9 M581.9 581V575.7 M582.3 581V574.8 M582.9 581V576 M583.3 581V575.9 M583.8 581V574.3 M584.4 581V574.1 M585 581V575.2 M585.6 581V575.6 M586.3 581V573.7 M586.9 581V576.3 M587.4 581V575.6 M588 581V573.7 M588.4 581V574.7 M588.8 581V576.3 M589.2 581V575.5 M589.8 581V575.6 M590.4 581V574.2 M590.8 581V573.9 M591.3 581V574.2 M591.8 581V574.4 M592.1 581V574.2 M592.5 581V575.5 M593.2 581V573.6 M593.6 581V575.6 M594.3 581V573.7 M594.8 581V574.5 M595.5 581V576.2 M595.8 581V573.7 M596.3 581V576.2 M596.9 581V573.8 M597.5 581V574.9 M597.9 581V573.9 M598.4 581V573.1 M599 581V575.2 M599.6 581V575.7 M600 581V574.4 M600.5 581V576.2 M600.9 581V574.5 M601.4 581V576.3 M601.8 581V575.9 M602.2 581V574.6 M602.7 581V573.5 M603.1 581V575.4 M603.7 581V575.6 M604.2 581V573.8 M604.5 581V575.1 M605 581V574.2 M605.6 581V574.5 M606 581V575.9 M606.4 581V575.2 M606.9 581V575.8 M607.4 581V575 M607.8 581V576.3 M608.3 581V573.7 M608.9 581V574 M609.4 581V575.9 M610 581V575.4 M610.4 581V576 M610.9 581V575.2 M611.6 581V574.2 M611.9 581V574.2 M612.5 581V574.2 M613.1 581V576 M613.6 581V574.6 M614.1 581V574.2 M614.7 581V575.3 M615.2 581V573.4 M615.5 581V576.1 M615.9 581V574 M616.3 581V575.1 M616.9 581V575.1 M617.4 581V574.9 M617.9 581V575.5 M618.4 581V575.8 M618.8 581V575.2 M619.3 581V575.5 M619.8 581V576.2 M620.3 581V573.2 M620.7 581V573.3 M621.1 581V575.9 M621.5 581V573.5 M622 581V575.9 M622.4 581V575.2 M622.9 581V573.2 M623.4 581V574.4 M623.8 581V574.3 M624.3 581V574.1 M624.8 581V573.8 M625.2 581V575.7 M625.8 581V573.6 M626.3 581V576.1 M626.9 581V574.6 M627.4 581V574.9 M627.8 581V573.4 M628.4 581V575.7 M628.7 581V575.8 M629.1 581V575 M629.6 581V576 M630.1 581V573.8 M630.6 581V573.8 M631.3 581V574 M631.7 581V574.1 M632.2 581V573.5 M632.6 581V574.5 M633.3 581V573.4 M633.9 581V574.3 M634.4 581V575.6 M634.8 581V575.9 M635.4 581V573.5 M636.1 581V573.6 M636.4 581V573.8 M636.8 581V575.2 M637.2 581V574.8 M637.8 581V575.1 M638.3 581V574.5 M638.9 581V575.7 M639.5 581V574.6 M640 581V573.5 M640.4 581V574 M641.1 581V575 M641.5 581V576.1 M641.9 581V573.4 M642.4 581V571.5 M642.8 581V576.1 M643.2 581V575.4 M643.7 581V575.6 M644.1 581V575.9 M644.4 581V573.4 M644.8 581V574.2 M645.2 581V574.7 M645.5 581V574.6 M646 581V574.6 M646.5 581V574.4 M647 581V575.4 M647.7 581V573.5 M648.3 581V575.2 M648.9 581V575.6 M649.6 581V574.4 M650.2 581V573.6 M650.6 581V575 M651.2 581V575.5 M651.8 581V572.7 M652.2 581V574 M652.6 581V576 M653 581V573.2 M653.5 581V575 M653.9 581V574.3 M654.4 581V574.6 M655.1 581V575.2 M655.7 581V573.8 M656.2 581V574.8 M656.5 581V574.3 M657 581V574.6 M657.6 581V575.1 M658.2 581V574.2 M658.9 581V575 M659.3 581V573.9 M659.9 581V574.7 M660.4 581V573.9 M661 581V571.3 M661.4 581V575.3 M662 581V573 M662.5 581V573 M662.9 581V574.6 M663.6 581V574.6 M663.9 581V574.8 M664.3 581V575.5 M664.6 581V575.5 M665 581V574.5 M665.5 581V573.9 M666.1 581V574.4 M666.6 581V575.9 M667 581V573.8 M667.7 581V574.6 M668.2 581V575.2 M668.6 581V574.4 M669 581V572.8 M669.5 581V574.2 M670.1 581V574.7 M670.7 581V575.9 M671.1 581V573.3 M671.5 581V575 M671.9 581V574.9 M672.3 581V575.3 M672.8 581V575.4 M673.2 581V575.2 M673.7 581V575.1 M674.3 581V575.2 M674.9 581V573 M675.5 581V574 M676.1 581V575.4 M676.5 581V574.4 M677.1 581V576 M677.4 581V575.4 M677.8 581V573.4 M678.4 581V573.9 M678.9 581V575 M163 581V405.1 M137.6 581V492.6 M103.1 581V538 M126.2 581V555.8 M48.9 581V569.8 M55.9 581V567.8 M62.2 581V568.6 M181 581V505.4 M163.8 581V485.2 M164.6 581V534.7 M138.3 581V541.4 M139 581V564.5 M180.2 581V564.5 M181.8 581V541.4 M142.8 581V542.2 M151.7 581V543 M156.3 581V544.7 M147 581V556.2 M160 581V552.1 M170.1 581V544.7 M171.5 581V552.9 M173 581V562.8 M145.5 581V557.9 M143.6 581V560.4 M153.5 581V556.2 M166.5 581V559.5 M168.3 581V556.2 M175 581V564.5 M93.7 581V565.3 M104.2 581V567.8 M108.2 581V568.6 M118.7 581V562 M126.9 581V569.4 M133.4 581V566.1 M134.8 581V562.8 M131 581V570.3 M68.7 581V571.9 M75 581V575.2 M82.7 581V574.8 M89.8 581V573.2 M184.5 581V568.6 M188.3 581V568.6 M192 581V571.1 M199.4 581V567.8 M201 581V572.7 M215 581V562 M206 581V573.6 M233.3 581V570.3 M196 581V572.7 M194 581V573.6 M210 581V574.4 M510.7 581V552.1 M511.5 581V567 M529.6 581V512.4 M530.5 581V534.7 M531.3 581V557.9 M528.2 581V555.4 M526.5 581V568.6 M544.5 581V548.8 M545.4 581V564.5 M548.3 581V557 M549.2 581V567 M540.4 581V564.5 M533 581V571.1 M523 581V569.4 M590.5 581V567.4 M385.5 581V575.2 M390 581V576 M356.2 581V576 M448.4 581V574.8 M624.6 581V576 M233.4 581V570.3 M520.5 581V571.9 M538 581V571.9 M552 581V572.7 M557 581V573.6 M564 581V574 M572 581V574.4 M298 581V576.5 M322 581V576.9" stroke="#999" stroke-width="0.7" fill="none"/>
<line x1="43.4" y1="581" x2="679.6" y2="581" stroke="#333" stroke-width="1.3"/>
<text x="162.1" y="400" font-size="5.3" fill="#1a1a1a" text-anchor="middle">716.5978</text>
<text x="137.6" y="487.2" font-size="5.3" fill="#1a1a1a" text-anchor="middle">680.6212</text>
<text x="103.1" y="532" font-size="5.3" fill="#1a1a1a" text-anchor="middle">629.8597</text>
<text x="124.5" y="549" font-size="5.3" fill="#1a1a1a" text-anchor="middle">652.5891</text>
<text x="54.5" y="566" font-size="5.3" fill="#1a1a1a" text-anchor="middle">560.8082</text>
<text x="213.2" y="560.7" font-size="5.3" fill="#1a1a1a" text-anchor="middle">794.6151</text>
<text x="275.3" y="573.5" font-size="5.3" fill="#1a1a1a" text-anchor="middle">886.6287</text>
<text x="356.2" y="575.9" font-size="5.3" fill="#1a1a1a" text-anchor="middle">1006.6261</text>
<text x="384.4" y="572.4" font-size="5.3" fill="#1a1a1a" text-anchor="middle">1048.5093</text>
<text x="448.4" y="572.4" font-size="5.3" fill="#1a1a1a" text-anchor="middle">1143.5233</text>
<text x="510.1" y="547.2" font-size="5.3" fill="#1a1a1a" text-anchor="middle">1232.6949</text>
<text x="529" y="506.9" font-size="5.3" fill="#1a1a1a" text-anchor="middle">1260.7253</text>
<text x="546.9" y="542.8" font-size="5.3" fill="#1a1a1a" text-anchor="middle">1288.7506</text>
<text x="635" y="570.8" font-size="5.3" fill="#1a1a1a" text-anchor="middle">1418.6806</text>
<text x="477" y="392.8" font-size="4.6" fill="#222" textLength="190" lengthAdjust="spacingAndGlyphs">Lipid extract - Ws4-Botrytis- undiluted-rep2_01_28709.d: -MS, 4.3-5.3min #246-303</text>
<text x="80.8" y="508" font-size="8.2" fill="#ee1f26" stroke="#ee1f26" stroke-width="0.22" text-anchor="middle" textLength="68" lengthAdjust="spacingAndGlyphs">Series A t18:1 h24:0</text>
<text x="80" y="518.8" font-size="8.2" fill="#ee1f26" stroke="#ee1f26" stroke-width="0.22" text-anchor="middle" textLength="22" lengthAdjust="spacingAndGlyphs">[M-2H]</text>
<text x="91.6" y="515.2" font-size="4.6" fill="#ee1f26">2-</text>
<text x="135.9" y="438.8" font-size="8.2" fill="#6db33f" stroke="#6db33f" stroke-width="0.22" text-anchor="middle" textLength="39.6" lengthAdjust="spacingAndGlyphs">t18:1 h24:0</text>
<text x="134.8" y="449" font-size="8.2" fill="#6db33f" stroke="#6db33f" stroke-width="0.22" text-anchor="middle" textLength="19" lengthAdjust="spacingAndGlyphs">[M-H]</text>
<text x="144.5" y="445.4" font-size="4.6" fill="#6db33f">-</text>
<text x="112.3" y="465.5" font-size="8.2" fill="#6db33f" stroke="#6db33f" stroke-width="0.22" text-anchor="middle" textLength="39.6" lengthAdjust="spacingAndGlyphs">t18:1 h22:0</text>
<text x="111.2" y="475.7" font-size="8.2" fill="#6db33f" stroke="#6db33f" stroke-width="0.22" text-anchor="middle" textLength="19" lengthAdjust="spacingAndGlyphs">[M-H]</text>
<text x="120.9" y="472.1" font-size="4.6" fill="#6db33f">-</text>
<text x="479.1" y="471.4" font-size="8.2" fill="#ee1f26" stroke="#ee1f26" stroke-width="0.22" textLength="94" lengthAdjust="spacingAndGlyphs">Series A t18:1 h24:0 [M-H]</text>
<text x="573.8" y="467.8" font-size="4.6" fill="#ee1f26">-</text>
<text x="399.5" y="503.7" font-size="8.2" fill="#ee1f26" stroke="#ee1f26" stroke-width="0.22" textLength="103" lengthAdjust="spacingAndGlyphs">Series A t18:1 h22:0 [M-H]</text>
<text x="503.2" y="500.1" font-size="4.6" fill="#ee1f26">-</text>
<text x="542.9" y="510.2" font-size="8.2" fill="#ee1f26" stroke="#ee1f26" stroke-width="0.22" textLength="103" lengthAdjust="spacingAndGlyphs">Series A t18:1 h26:0 [M-H]</text>
<text x="646.6" y="506.6" font-size="4.6" fill="#ee1f26">-</text>
<line x1="135.4" y1="454.3" x2="138.3" y2="478.6" stroke="#444" stroke-width="0.5" stroke-dasharray="0.8,0.8"/>
<line x1="117.2" y1="478.6" x2="125" y2="540" stroke="#444" stroke-width="0.5" stroke-dasharray="0.8,0.8"/>
<line x1="80.8" y1="523" x2="101.9" y2="556.3" stroke="#444" stroke-width="0.5"/>
<line x1="532.1" y1="476.7" x2="531.3" y2="493" stroke="#444" stroke-width="0.5" stroke-dasharray="0.8,0.8"/>
<line x1="446.4" y1="507.6" x2="497.2" y2="538.7" stroke="#444" stroke-width="0.5" stroke-dasharray="0.8,0.8"/>
<line x1="591.2" y1="514.5" x2="550.1" y2="535.9" stroke="#444" stroke-width="0.5" stroke-dasharray="0.8,0.8"/>
<text x="-0.6" y="385" font-size="18.4" fill="#111" textLength="11.2" lengthAdjust="spacingAndGlyphs">B</text>
<line x1="44.5" y1="616.2" x2="683.2" y2="616.2" stroke="#c8c8c8" stroke-width="1"/>
<line x1="683.2" y1="616.2" x2="683.2" y2="814.4" stroke="#c8c8c8" stroke-width="1"/>
<line x1="44.5" y1="616.2" x2="44.5" y2="814.4" stroke="#909090" stroke-width="0.9"/>
<line x1="48.6" y1="616.2" x2="48.6" y2="814.4" stroke="#c4d8ee" stroke-width="0.7"/>
<line x1="68.2" y1="616.2" x2="68.2" y2="814.4" stroke="#c4d8ee" stroke-width="0.7"/>
<line x1="42.7" y1="701.2" x2="44.5" y2="701.2" stroke="#999" stroke-width="0.6"/>
<line x1="42.7" y1="688.6" x2="44.5" y2="688.6" stroke="#999" stroke-width="0.6"/>
<line x1="42.7" y1="676" x2="44.5" y2="676" stroke="#999" stroke-width="0.6"/>
<line x1="42.7" y1="663.4" x2="44.5" y2="663.4" stroke="#999" stroke-width="0.6"/>
<line x1="42.7" y1="650.8" x2="44.5" y2="650.8" stroke="#999" stroke-width="0.6"/>
<line x1="42.7" y1="638.2" x2="44.5" y2="638.2" stroke="#999" stroke-width="0.6"/>
<line x1="42.7" y1="625.6" x2="44.5" y2="625.6" stroke="#999" stroke-width="0.6"/>
<line x1="42.1" y1="713.8" x2="44.5" y2="713.8" stroke="#999" stroke-width="0.7"/>
<text x="38.3" y="715.6" font-size="5" fill="#999" text-anchor="end">0</text>
<line x1="42.1" y1="688.6" x2="44.5" y2="688.6" stroke="#999" stroke-width="0.7"/>
<text x="38.3" y="690.4" font-size="5" fill="#999" text-anchor="end">2000</text>
<line x1="42.1" y1="663.4" x2="44.5" y2="663.4" stroke="#999" stroke-width="0.7"/>
<text x="38.3" y="665.2" font-size="5" fill="#999" text-anchor="end">4000</text>
<line x1="42.1" y1="638.2" x2="44.5" y2="638.2" stroke="#999" stroke-width="0.7"/>
<text x="38.3" y="640" font-size="5" fill="#999" text-anchor="end">6000</text>
<text x="38.5" y="620" font-size="4.6" fill="#999" text-anchor="end">Intens.</text>
<line x1="43" y1="810.4" x2="44.5" y2="810.4" stroke="#999" stroke-width="0.6"/>
<line x1="43" y1="806.9" x2="44.5" y2="806.9" stroke="#999" stroke-width="0.6"/>
<line x1="43" y1="803.3" x2="44.5" y2="803.3" stroke="#999" stroke-width="0.6"/>
<line x1="43" y1="799.8" x2="44.5" y2="799.8" stroke="#999" stroke-width="0.6"/>
<line x1="42.1" y1="796.2" x2="44.5" y2="796.2" stroke="#999" stroke-width="0.6"/>
<line x1="43" y1="792.6" x2="44.5" y2="792.6" stroke="#999" stroke-width="0.6"/>
<line x1="43" y1="789.1" x2="44.5" y2="789.1" stroke="#999" stroke-width="0.6"/>
<line x1="43" y1="785.5" x2="44.5" y2="785.5" stroke="#999" stroke-width="0.6"/>
<line x1="43" y1="782" x2="44.5" y2="782" stroke="#999" stroke-width="0.6"/>
<line x1="42.1" y1="778.4" x2="44.5" y2="778.4" stroke="#999" stroke-width="0.6"/>
<line x1="43" y1="774.8" x2="44.5" y2="774.8" stroke="#999" stroke-width="0.6"/>
<line x1="43" y1="771.3" x2="44.5" y2="771.3" stroke="#999" stroke-width="0.6"/>
<line x1="43" y1="767.7" x2="44.5" y2="767.7" stroke="#999" stroke-width="0.6"/>
<line x1="43" y1="764.2" x2="44.5" y2="764.2" stroke="#999" stroke-width="0.6"/>
<line x1="42.1" y1="760.6" x2="44.5" y2="760.6" stroke="#999" stroke-width="0.6"/>
<line x1="43" y1="757" x2="44.5" y2="757" stroke="#999" stroke-width="0.6"/>
<line x1="43" y1="753.5" x2="44.5" y2="753.5" stroke="#999" stroke-width="0.6"/>
<line x1="43" y1="749.9" x2="44.5" y2="749.9" stroke="#999" stroke-width="0.6"/>
<line x1="43" y1="746.4" x2="44.5" y2="746.4" stroke="#999" stroke-width="0.6"/>
<line x1="42.1" y1="742.8" x2="44.5" y2="742.8" stroke="#999" stroke-width="0.6"/>
<line x1="43" y1="739.2" x2="44.5" y2="739.2" stroke="#999" stroke-width="0.6"/>
<line x1="43" y1="735.7" x2="44.5" y2="735.7" stroke="#999" stroke-width="0.6"/>
<line x1="43" y1="732.1" x2="44.5" y2="732.1" stroke="#999" stroke-width="0.6"/>
<line x1="43" y1="728.6" x2="44.5" y2="728.6" stroke="#999" stroke-width="0.6"/>
<line x1="42.1" y1="725" x2="44.5" y2="725" stroke="#999" stroke-width="0.6"/>
<line x1="43" y1="721.4" x2="44.5" y2="721.4" stroke="#999" stroke-width="0.6"/>
<line x1="43" y1="717.9" x2="44.5" y2="717.9" stroke="#999" stroke-width="0.6"/>
<text x="38.3" y="815.8" font-size="5" fill="#999" text-anchor="end">0</text>
<text x="38.3" y="798" font-size="5" fill="#999" text-anchor="end">1000</text>
<text x="38.3" y="780.2" font-size="5" fill="#999" text-anchor="end">2000</text>
<text x="38.3" y="762.4" font-size="5" fill="#999" text-anchor="end">3000</text>
<text x="38.3" y="744.6" font-size="5" fill="#999" text-anchor="end">4000</text>
<text x="38.3" y="726.8" font-size="5" fill="#999" text-anchor="end">5000</text>
<text x="38.5" y="719.8" font-size="4.6" fill="#999" text-anchor="end">Intens.</text>
<line x1="67.9" y1="814.4" x2="67.9" y2="815.8" stroke="#aaa" stroke-width="0.6"/>
<line x1="94.1" y1="814.4" x2="94.1" y2="816.6" stroke="#aaa" stroke-width="0.6"/>
<line x1="120.3" y1="814.4" x2="120.3" y2="815.8" stroke="#aaa" stroke-width="0.6"/>
<line x1="146.5" y1="814.4" x2="146.5" y2="816.6" stroke="#aaa" stroke-width="0.6"/>
<line x1="172.7" y1="814.4" x2="172.7" y2="815.8" stroke="#aaa" stroke-width="0.6"/>
<line x1="198.9" y1="814.4" x2="198.9" y2="816.6" stroke="#aaa" stroke-width="0.6"/>
<line x1="225.1" y1="814.4" x2="225.1" y2="815.8" stroke="#aaa" stroke-width="0.6"/>
<line x1="251.2" y1="814.4" x2="251.2" y2="816.6" stroke="#aaa" stroke-width="0.6"/>
<line x1="277.4" y1="814.4" x2="277.4" y2="815.8" stroke="#aaa" stroke-width="0.6"/>
<line x1="303.6" y1="814.4" x2="303.6" y2="816.6" stroke="#aaa" stroke-width="0.6"/>
<line x1="329.8" y1="814.4" x2="329.8" y2="815.8" stroke="#aaa" stroke-width="0.6"/>
<line x1="356" y1="814.4" x2="356" y2="816.6" stroke="#aaa" stroke-width="0.6"/>
<line x1="382.2" y1="814.4" x2="382.2" y2="815.8" stroke="#aaa" stroke-width="0.6"/>
<line x1="408.4" y1="814.4" x2="408.4" y2="816.6" stroke="#aaa" stroke-width="0.6"/>
<line x1="434.6" y1="814.4" x2="434.6" y2="815.8" stroke="#aaa" stroke-width="0.6"/>
<line x1="460.8" y1="814.4" x2="460.8" y2="816.6" stroke="#aaa" stroke-width="0.6"/>
<line x1="486.9" y1="814.4" x2="486.9" y2="815.8" stroke="#aaa" stroke-width="0.6"/>
<line x1="513.1" y1="814.4" x2="513.1" y2="816.6" stroke="#aaa" stroke-width="0.6"/>
<line x1="539.3" y1="814.4" x2="539.3" y2="815.8" stroke="#aaa" stroke-width="0.6"/>
<line x1="565.5" y1="814.4" x2="565.5" y2="816.6" stroke="#aaa" stroke-width="0.6"/>
<line x1="591.7" y1="814.4" x2="591.7" y2="815.8" stroke="#aaa" stroke-width="0.6"/>
<line x1="617.9" y1="814.4" x2="617.9" y2="816.6" stroke="#aaa" stroke-width="0.6"/>
<line x1="644.1" y1="814.4" x2="644.1" y2="815.8" stroke="#aaa" stroke-width="0.6"/>
<line x1="670.2" y1="814.4" x2="670.2" y2="816.6" stroke="#aaa" stroke-width="0.6"/>
<text x="146.5" y="821.8" font-size="5" fill="#999" text-anchor="middle">2</text>
<text x="251.2" y="821.8" font-size="5" fill="#999" text-anchor="middle">4</text>
<text x="356" y="821.8" font-size="5" fill="#999" text-anchor="middle">6</text>
<text x="460.8" y="821.8" font-size="5" fill="#999" text-anchor="middle">8</text>
<text x="565.5" y="821.8" font-size="5" fill="#999" text-anchor="middle">10</text>
<text x="669.7" y="821.6" font-size="5" fill="#999" text-anchor="middle">Time [min]</text>
<polyline points="45,714.1 46,714.1 47,714.1 48,714.1 49,714.1 50,714.1 51,714 52,714 53,714 54,714 55,713.9 56,713.9 57,713.9 58,713.9 59,713.9 60,713.8 61,713.8 62,713.8 63,713.8 64,713.8 65,713.8 66,713.8 67,713.8 68,713.8 69,713.8 70,713.8 71,713.9 72,713.9 73,713.9 74,713.9 75,713.9 76,713.9 77,713.9 78,713.9 79,713.9 80,713.9 81,713.9 82,713.9 83,713.8 84,713.8 85,713.8 86,713.8 87,713.8 88,713.8 89,713.8 90,713.8 91,713.8 92,713.8 93,713.8 94,713.9 95,713.9 96,713.9 97,713.9 98,713.9 99,713.9 100,713.9 101,714 102,714 103,714 104,714 105,714 106,714 107,714 108,714 109,714 110,714 111,714 112,714 113,714 114,714 115,714 116,714 117,714 118,714 119,713.9 120,713.9 121,713.9 122,713.9 123,713.9 124,713.9 125,713.9 126,713.9 127,713.9 128,713.9 129,713.9 130,713.9 131,713.9 132,713.8 133,713.8 134,713.8 135,713.8 136,713.8 137,713.8 138,713.8 139,713.8 140,713.8 141,713.7 142,713.7 143,713.7 144,713.7 145,713.8 146,713.8 147,713.8 148,713.8 149,713.8 150,713.8 151,713.9 152,713.9 153,713.9 154,713.9 155,714 156,714 157,714 158,714 159,714 160,714.1 161,714.1 162,714.1 163,714.1 164,714.1 165,714 166,714 167,714 168,714 169,714 170,714 171,713.9 172,713.9 173,713.9 174,713.9 175,713.9 176,713.9 177,713.9 178,713.9 179,713.9 180,713.9 181,713.9 182,713.9 183,713.9 184,713.9 185,713.9 186,713.9 187,713.9 188,713.9 189,713.9 190,713.9 191,713.9 192,713.9 193,713.9 194,713.9 195,713.9 196,713.9 197,713.9 198,713.8 199,713.8 200,713.8 201,713.8 202,713.8 203,713.8 204,713.8 205,713.8 206,713.8 207,713.8 208,713.8 209,713.8 210,713.8 211,713.8 212,713.8 213,713.8 214,713.9 215,713.9 216,713.9 217,713.9 218,714 219,714 220,714 221,714 222,714 223,714 224,714 225,714 226,714 227,714 228,714 229,714 230,714 231,714 232,714 233,714 234,714 235,714 236,714 237,714 238,714 239,713.9 240,713.9 241,713.9 242,713.9 243,713.9 244,713.9 245,713.9 246,713.9 247,713.9 248,713.9 249,713.9 250,713.8 251,713.8 252,713.8 253,713.8 254,713.8 255,713.8 256,713.8 257,713.8 258,713.8 259,713.8 260,713.8 261,713.8 262,713.8 263,713.8 264,713.8 265,713.8 266,713.8 267,713.8 268,713.9 269,713.9 270,713.9 271,713.9 272,713.9 273,714 274,714 275,714 276,714 277,714 278,714 279,714 280,714 281,714 282,714 283,714 284,714 285,714 286,713.9 287,713.9 288,713.9 289,713.9 290,713.9 291,713.9 292,713.9 293,713.9 294,713.9 295,713.9 296,713.9 297,713.9 298,713.9 299,713.9 300,714 301,714 302,714 303,714 304,714 305,714 306,714 307,714 308,714 309,713.9 310,713.9 311,713.9 312,713.9 313,713.9 314,713.8 315,713.8 316,713.8 317,713.8 318,713.8 319,713.7 320,713.7 321,713.7 322,713.7 323,713.7 324,713.7 325,713.7 326,713.7 327,713.8 328,713.8 329,713.8 330,713.8 331,713.9 332,713.9 333,713.9 334,713.9 335,714 336,714 337,714 338,714 339,714 340,714 341,714 342,714 343,714 344,714 345,714 346,714 347,714 348,714 349,714 350,714 351,714 352,714 353,714 354,714 355,713.9 356,713.9 357,713.9 358,713.9 359,713.9 360,713.9 361,713.9 362,713.9 363,713.9 364,713.9 365,713.9 366,713.9 367,713.9 368,713.9 369,713.9 370,713.8 371,713.8 372,713.8 373,713.8 374,713.8 375,713.8 376,713.8 377,713.8 378,713.8 379,713.8 380,713.8 381,713.8 382,713.8 383,713.8 384,713.8 385,713.8 386,713.9 387,713.9 388,713.9 389,713.9 390,713.9 391,713.9 392,713.9 393,713.9 394,713.9 395,713.9 396,713.9 397,713.9 398,713.9 399,713.9 400,713.9 401,713.9 402,713.9 403,713.9 404,713.9 405,713.9 406,713.9 407,713.9 408,713.9 409,713.9 410,713.9 411,713.9 412,714 413,714 414,714 415,714 416,714 417,714 418,714 419,714 420,714 421,714 422,714 423,714 424,714 425,714 426,714 427,713.9 428,713.9 429,713.9 430,713.9 431,713.8 432,713.8 433,713.8 434,713.8 435,713.7 436,713.7 437,713.7 438,713.7 439,713.7 440,713.7 441,713.7 442,713.7 443,713.7 444,713.8 445,713.8 446,713.8 447,713.8 448,713.9 449,713.9 450,713.9 451,713.9 452,714 453,714 454,714 455,714 456,714 457,714 458,714 459,714 460,714 461,714 462,714 463,714 464,714 465,714 466,714 467,714 468,713.9 469,713.9 470,713.9 471,713.9 472,713.9 473,713.9 474,713.9 475,713.9 476,713.9 477,713.9 478,713.9 479,713.9 480,713.9 481,713.9 482,713.9 483,713.9 484,713.9 485,713.9 486,713.9 487,713.9 488,713.9 489,713.9 490,713.9 491,713.9 492,713.8 493,713.8 494,713.8 495,713.8 496,713.8 497,713.8 498,713.8 499,713.8 500,713.8 501,713.8 502,713.8 503,713.8 504,713.8 505,713.8 506,713.8 507,713.9 508,713.9 509,713.9 510,713.9 511,713.9 512,713.9 513,713.9 514,713.9 515,713.9 516,713.9 517,713.9 518,713.9 519,713.9 520,713.9 521,713.9 522,713.9 523,713.9 524,713.9 525,713.9 526,714 527,714 528,714 529,714 530,714 531,714 532,714 533,714 534,714 535,714 536,714.1 537,714 538,714 539,714 540,714 541,714 542,714 543,714 544,713.9 545,713.9 546,713.9 547,713.8 548,713.8 549,713.8 550,713.8 551,713.8 552,713.7 553,713.7 554,713.7 555,713.7 556,713.7 557,713.7 558,713.7 559,713.8 560,713.8 561,713.8 562,713.8 563,713.8 564,713.9 565,713.9 566,713.9 567,713.9 568,713.9 569,713.9 570,714 571,714 572,714 573,714 574,714 575,714 576,714 577,713.9 578,713.9 579,713.9 580,713.9 581,713.9 582,713.9 583,713.9 584,713.9 585,713.9 586,713.9 587,713.9 588,713.9 589,713.9 590,713.9 591,713.9 592,714 593,714 594,714 595,714 596,714 597,714 598,714 599,714 600,714 601,714 602,714 603,714 604,714 605,713.9 606,713.9 607,713.9 608,713.9 609,713.9 610,713.9 611,713.8 612,713.8 613,713.8 614,713.8 615,713.8 616,713.8 617,713.8 618,713.8 619,713.8 620,713.8 621,713.8 622,713.8 623,713.8 624,713.8 625,713.8 626,713.8 627,713.8 628,713.8 629,713.8 630,713.9 631,713.9 632,713.9 633,713.9 634,713.9 635,713.9 636,713.9 637,713.9 638,713.9 639,713.9 640,713.9 641,713.9 642,713.9 643,714 644,714 645,714 646,714 647,714 648,714 649,714 650,714 651,714 652,714 653,714 654,714 655,714 656,714 657,714 658,714 659,714 660,713.9 661,713.9 662,713.9 663,713.9 664,713.9 665,713.8 666,713.8 667,713.8 668,713.8 669,713.8 670,713.8 671,713.8 672,713.8 673,713.8 674,713.8 675,713.8 676,713.8 677,713.8 678,713.8 679,713.8 680,713.9 681,713.9 682,713.9" fill="none" stroke="#9cb89c" stroke-width="0.8" stroke-linejoin="round"/>
<polyline points="45,714 46,714 47,714 48,714 49,714 50,714 51,714 52,714 53,714 54,714 55,714 56,714 57,714 58,714.1 59,714.1 60,714.1 61,714.1 62,714.1 63,714.1 64,714.1 65,714.1 66,714.1 67,714 68,714 69,714 70,714 71,714 72,714 73,714 74,714 75,714 76,714 77,714 78,714 79,714 80,714 81,714 82,714 83,714 84,714 85,714 86,714 87,714 88,714.1 89,714.1 90,714.1 91,714.1 92,714.1 93,714.1 94,714.1 95,714.1 96,714.1 97,714.1 98,714.1 99,714.1 100,714.1 101,714.1 102,714.1 103,714.1 104,714.1 105,714.1 106,714.1 107,714.1 108,714.1 109,714.1 110,714.1 111,714.1 112,714 113,714 114,714.1 115,714.1 116,714.1 117,714.1 118,714.1 119,714.1 120,714.1 121,714.1 122,714.1 123,714.1 124,714.1 125,714.1 126,714.1 127,714.1 128,714.1 129,714.1 130,714.1 131,714 132,714 133,714 134,714 135,714 136,714 137,714 138,714 139,714 140,714 141,714 142,714 143,714 144,714 145,714 146,714 147,714 148,714 149,714 150,714 151,714.1 152,714.1 153,714.1 154,714.1 155,714.1 156,714.1 157,714.1 158,714.1 159,714.1 160,714.1 161,714.1 162,714.1 163,714.1 164,714.1 165,714.1 166,714.1 167,714.1 168,714.1 169,714.1 170,714 171,714 172,714 173,714 174,714 175,714 176,714 177,714 178,714 179,714 180,714 181,714 182,714 183,714 184,714 185,714 186,714 187,714 188,714 189,714 190,714 191,714 192,714 193,714 194,714 195,714 196,714 197,714 198,714 199,714 200,714 201,714 202,714 203,714 204,714 205,714 206,714 207,714 208,714 209,714 210,714 211,714.1 212,714.1 213,714.1 214,714.1 215,714.1 216,714.1 217,714.1 218,714.1 219,714.1 220,714.1 221,714.2 222,714.2 223,714.2 224,714.1 225,714.1 226,714.1 227,714.1 228,714.1 229,714.1 230,714.1 231,714.1 232,714.1 233,714.1 234,714.1 235,714.1 236,714.1 237,714.1 238,714.1 239,714.1 240,714 241,714 242,714 243,714 244,714 245,714 246,714 247,714 248,714 249,714 250,714 251,714 252,714 253,714 254,714 255,714 256,714 257,714 258,714 259,714 260,714 261,714 262,713.9 263,713.9 264,713.9 265,713.9 266,713.9 267,713.9 268,713.9 269,713.9 270,714 271,714 272,714 273,714 274,714 275,714 276,714 277,714 278,714.1 279,714.1 280,714.1 281,714.1 282,714.1 283,714.1 284,714.1 285,714.1 286,714.1 287,714.1 288,714.1 289,714.1 290,714.1 291,714.1 292,714.1 293,714.1 294,714.1 295,714.1 296,714.1 297,714.1 298,714.1 299,714.1 300,714.1 301,714.1 302,714.1 303,714.1 304,714.1 305,714.1 306,714.1 307,714.1 308,714.1 309,714.1 310,714.1 311,714.1 312,714.1 313,714.1 314,714.1 315,714.1 316,714.1 317,714.1 318,714.1 319,714.1 320,714.1 321,714 322,714 323,714 324,714 325,714 326,714 327,714 328,714 329,714 330,714 331,714 332,714 333,714 334,714 335,714 336,714 337,714 338,714 339,714 340,714 341,714 342,714 343,714 344,714 345,714.1 346,714.1 347,714.1 348,714 349,714 350,714 351,714 352,714 353,714 354,714 355,714 356,714 357,714 358,714 359,714 360,714 361,714 362,714 363,714 364,714 365,714 366,714 367,714 368,714 369,714 370,714 371,714.1 372,714.1 373,714.1 374,714.1 375,714.1 376,714.1 377,714.1 378,714.1 379,714.1 380,714.1 381,714.1 382,714.1 383,714.1 384,714.1 385,714.1 386,714.1 387,714.1 388,714.1 389,714.1 390,714.1 391,714.1 392,714.1 393,714.1 394,714.1 395,714.1 396,714.1 397,714.1 398,714.1 399,714.1 400,714.1 401,714.1 402,714.1 403,714.1 404,714.1 405,714.1 406,714.1 407,714.1 408,714.1 409,714.1 410,714.1 411,714.1 412,714.1 413,714.1 414,714.1 415,714.1 416,714 417,714 418,714 419,714 420,714 421,714 422,714 423,714 424,713.9 425,713.9 426,713.9 427,713.9 428,713.9 429,713.9 430,713.9 431,713.9 432,713.9 433,714 434,714 435,714 436,714 437,714 438,714 439,714 440,714 441,714 442,714 443,714 444,714 445,714 446,714 447,714 448,714 449,714 450,714 451,714 452,714 453,714 454,714 455,714 456,714 457,714 458,714 459,714 460,714.1 461,714.1 462,714.1 463,714.1 464,714.1 465,714.1 466,714.1 467,714.1 468,714.1 469,714.1 470,714.1 471,714.1 472,714.1 473,714.1 474,714.1 475,714.1 476,714.1 477,714.1 478,714.1 479,714.1 480,714 481,714 482,714 483,714 484,713.9 485,713.9 486,713.9 487,713.8 488,713.8 489,713.8 490,713.7 491,713.6 492,713.5 493,713.3 494,713.1 495,712.7 496,712.1 497,711.4 498,710.5 499,709.7 500,709 501,708.7 502,708.9 503,709.4 504,710 505,710.7 506,711.3 507,711.9 508,712.4 509,712.8 510,713.1 511,713.3 512,713.4 513,713.5 514,713.6 515,713.6 516,713.7 517,713.7 518,713.7 519,713.8 520,713.8 521,713.8 522,713.9 523,713.9 524,713.9 525,713.9 526,713.9 527,714 528,714 529,714 530,714 531,714 532,714 533,714 534,714.1 535,714.1 536,714.1 537,714.1 538,714.1 539,714.1 540,714.1 541,714 542,714 543,714 544,714 545,714 546,714 547,714 548,714 549,714 550,714 551,714 552,714 553,714 554,714 555,714 556,714 557,714.1 558,714.1 559,714.1 560,714.1 561,714.1 562,714.1 563,714.1 564,714.1 565,714.1 566,714.1 567,714.1 568,714.1 569,714.1 570,714.1 571,714.1 572,714 573,714 574,714 575,714 576,714 577,714 578,714 579,714 580,714 581,714 582,714 583,714 584,714 585,714 586,714 587,714 588,714 589,714.1 590,714.1 591,714.1 592,714.1 593,714.1 594,714.1 595,714.1 596,714.1 597,714.1 598,714.1 599,714.1 600,714.1 601,714 602,714 603,714 604,714 605,714 606,714 607,714 608,714 609,714 610,714 611,714 612,714 613,714 614,714 615,714 616,714 617,714 618,714 619,714 620,714 621,714 622,714 623,714 624,714 625,714.1 626,714.1 627,714.1 628,714.1 629,714.1 630,714.1 631,714.1 632,714.1 633,714.1 634,714.1 635,714.1 636,714.1 637,714.1 638,714.1 639,714.1 640,714 641,714 642,714.1 643,714.1 644,714.1 645,714.1 646,714.1 647,714.1 648,714.1 649,714.1 650,714.1 651,714.1 652,714.1 653,714.1 654,714.1 655,714.1 656,714.1 657,714.1 658,714.1 659,714.1 660,714.1 661,714.1 662,714.1 663,714.1 664,714.1 665,714.1 666,714.1 667,714 668,714 669,714 670,714 671,714 672,714 673,714 674,714 675,714 676,714 677,714 678,714 679,714 680,714 681,714 682,714" fill="none" stroke="#9ccaf2" stroke-width="0.8" stroke-linejoin="round"/>
<polyline points="45,713 46,712.4 47,711.3 48,709.6 49,707.5 50,706.2 51,706.7 52,708.4 53,710.2 54,711.6 55,712.4 56,712.8 57,713.1 58,713.2 59,713.3 60,713.3 61,713.4 62,713.4 63,713.4 64,713.5 65,713.5 66,713.5 67,713.5 68,713.5 69,713.6 70,713.6 71,713.6 72,713.6 73,713.6 74,713.6 75,713.6 76,713.6 77,713.6 78,713.6 79,713.6 80,713.6 81,713.6 82,713.6 83,713.6 84,713.6 85,713.6 86,713.6 87,713.6 88,713.6 89,713.6 90,713.6 91,713.6 92,713.6 93,713.6 94,713.6 95,713.7 96,713.7 97,713.7 98,713.7 99,713.7 100,713.7 101,713.7 102,713.7 103,713.7 104,713.7 105,713.7 106,713.7 107,713.7 108,713.7 109,713.7 110,713.7 111,713.7 112,713.7 113,713.7 114,713.7 115,713.7 116,713.7 117,713.7 118,713.6 119,713.6 120,713.6 121,713.6 122,713.6 123,713.6 124,713.6 125,713.6 126,713.6 127,713.6 128,713.6 129,713.6 130,713.6 131,713.5 132,713.5 133,713.5 134,713.5 135,713.5 136,713.5 137,713.5 138,713.5 139,713.5 140,713.5 141,713.5 142,713.5 143,713.5 144,713.6 145,713.6 146,713.6 147,713.6 148,713.6 149,713.7 150,713.7 151,713.7 152,713.7 153,713.7 154,713.7 155,713.7 156,713.7 157,713.7 158,713.7 159,713.7 160,713.7 161,713.7 162,713.7 163,713.7 164,713.7 165,713.7 166,713.6 167,713.6 168,713.6 169,713.6 170,713.6 171,713.6 172,713.6 173,713.6 174,713.6 175,713.6 176,713.6 177,713.6 178,713.6 179,713.6 180,713.6 181,713.6 182,713.6 183,713.6 184,713.6 185,713.6 186,713.6 187,713.6 188,713.6 189,713.6 190,713.6 191,713.6 192,713.6 193,713.6 194,713.5 195,713.5 196,713.5 197,713.5 198,713.5 199,713.5 200,713.5 201,713.5 202,713.5 203,713.5 204,713.5 205,713.5 206,713.5 207,713.5 208,713.5 209,713.6 210,713.6 211,713.6 212,713.6 213,713.6 214,713.6 215,713.6 216,713.6 217,713.6 218,713.7 219,713.7 220,713.7 221,713.7 222,713.6 223,713.6 224,713.6 225,713.6 226,713.6 227,713.6 228,713.6 229,713.6 230,713.6 231,713.6 232,713.6 233,713.5 234,713.5 235,713.5 236,713.5 237,713.5 238,713.5 239,713.5 240,713.5 241,713.5 242,713.4 243,713.4 244,713.4 245,713.4 246,713.4 247,713.4 248,713.3 249,713.3 250,713.3 251,713.3 252,713.3 253,713.2 254,713.2 255,713.2 256,713.2 257,713.2 258,713.2 259,713.1 260,713.1 261,713.1 262,713.1 263,713.1 264,713.1 265,713 266,713 267,713 268,712.9 269,712.9 270,712.8 271,712.7 272,712.6 273,712.5 274,712.4 275,712.2 276,711.9 277,711.6 278,711.2 279,710.7 280,710 281,709.1 282,707.9 283,706.5 284,704.8 285,702.8 286,700.6 287,698.1 288,695.6 289,693.2 290,691 291,689.4 292,688.5 293,688.6 294,689.4 295,690.8 296,692.6 297,694.7 298,696.8 299,699 300,701.1 301,703 302,704.7 303,706.2 304,707.5 305,708.6 306,709.5 307,710.2 308,710.7 309,711.1 310,711.5 311,711.7 312,711.9 313,712.1 314,712.2 315,712.3 316,712.4 317,712.5 318,712.6 319,712.7 320,712.7 321,712.8 322,712.8 323,712.9 324,713 325,713 326,713.1 327,713.1 328,713.2 329,713.2 330,713.2 331,713.3 332,713.3 333,713.3 334,713.4 335,713.4 336,713.4 337,713.4 338,713.4 339,713.5 340,713.5 341,713.5 342,713.5 343,713.5 344,713.5 345,713.5 346,713.5 347,713.5 348,713.5 349,713.5 350,713.5 351,713.5 352,713.5 353,713.5 354,713.5 355,713.5 356,713.5 357,713.5 358,713.5 359,713.5 360,713.5 361,713.5 362,713.5 363,713.5 364,713.5 365,713.5 366,713.5 367,713.5 368,713.5 369,713.5 370,713.5 371,713.5 372,713.5 373,713.5 374,713.5 375,713.5 376,713.5 377,713.5 378,713.5 379,713.5 380,713.5 381,713.5 382,713.5 383,713.6 384,713.6 385,713.6 386,713.6 387,713.6 388,713.6 389,713.6 390,713.6 391,713.6 392,713.6 393,713.6 394,713.6 395,713.6 396,713.6 397,713.6 398,713.6 399,713.6 400,713.6 401,713.6 402,713.6 403,713.6 404,713.6 405,713.6 406,713.6 407,713.6 408,713.7 409,713.7 410,713.7 411,713.7 412,713.7 413,713.7 414,713.7 415,713.7 416,713.7 417,713.7 418,713.7 419,713.7 420,713.7 421,713.7 422,713.6 423,713.6 424,713.6 425,713.6 426,713.6 427,713.5 428,713.5 429,713.5 430,713.5 431,713.5 432,713.5 433,713.5 434,713.5 435,713.5 436,713.5 437,713.5 438,713.5 439,713.5 440,713.5 441,713.6 442,713.6 443,713.6 444,713.6 445,713.6 446,713.6 447,713.7 448,713.7 449,713.7 450,713.7 451,713.7 452,713.7 453,713.7 454,713.7 455,713.7 456,713.7 457,713.7 458,713.7 459,713.7 460,713.7 461,713.7 462,713.7 463,713.7 464,713.7 465,713.7 466,713.7 467,713.7 468,713.7 469,713.7 470,713.7 471,713.7 472,713.7 473,713.7 474,713.7 475,713.7 476,713.7 477,713.7 478,713.7 479,713.7 480,713.6 481,713.6 482,713.6 483,713.6 484,713.6 485,713.6 486,713.6 487,713.6 488,713.6 489,713.6 490,713.6 491,713.6 492,713.6 493,713.6 494,713.6 495,713.6 496,713.6 497,713.6 498,713.6 499,713.6 500,713.6 501,713.6 502,713.6 503,713.6 504,713.6 505,713.6 506,713.6 507,713.6 508,713.6 509,713.6 510,713.6 511,713.6 512,713.6 513,713.6 514,713.6 515,713.6 516,713.6 517,713.6 518,713.7 519,713.7 520,713.7 521,713.7 522,713.7 523,713.7 524,713.7 525,713.7 526,713.7 527,713.7 528,713.7 529,713.7 530,713.8 531,713.8 532,713.7 533,713.7 534,713.7 535,713.7 536,713.7 537,713.7 538,713.7 539,713.7 540,713.6 541,713.6 542,713.6 543,713.6 544,713.6 545,713.5 546,713.5 547,713.5 548,713.5 549,713.5 550,713.5 551,713.5 552,713.5 553,713.5 554,713.5 555,713.5 556,713.6 557,713.6 558,713.6 559,713.6 560,713.6 561,713.6 562,713.7 563,713.7 564,713.7 565,713.7 566,713.7 567,713.7 568,713.7 569,713.7 570,713.7 571,713.7 572,713.7 573,713.7 574,713.7 575,713.7 576,713.7 577,713.6 578,713.6 579,713.6 580,713.6 581,713.6 582,713.6 583,713.7 584,713.7 585,713.7 586,713.7 587,713.7 588,713.7 589,713.7 590,713.7 591,713.7 592,713.7 593,713.7 594,713.7 595,713.7 596,713.7 597,713.7 598,713.7 599,713.7 600,713.7 601,713.7 602,713.6 603,713.6 604,713.6 605,713.6 606,713.6 607,713.6 608,713.6 609,713.6 610,713.6 611,713.6 612,713.6 613,713.6 614,713.6 615,713.6 616,713.6 617,713.6 618,713.6 619,713.6 620,713.6 621,713.6 622,713.6 623,713.6 624,713.6 625,713.6 626,713.6 627,713.6 628,713.6 629,713.6 630,713.6 631,713.6 632,713.6 633,713.6 634,713.7 635,713.7 636,713.7 637,713.7 638,713.7 639,713.7 640,713.7 641,713.7 642,713.7 643,713.7 644,713.7 645,713.8 646,713.8 647,713.8 648,713.8 649,713.8 650,713.7 651,713.7 652,713.7 653,713.7 654,713.7 655,713.7 656,713.7 657,713.6 658,713.6 659,713.6 660,713.6 661,713.6 662,713.6 663,713.6 664,713.5 665,713.5 666,713.5 667,713.5 668,713.5 669,713.6 670,713.6 671,713.6 672,713.6 673,713.6 674,713.6 675,713.6 676,713.6 677,713.6 678,713.7 679,713.7 680,713.7 681,713.7 682,713.7" fill="none" stroke="#9ad69a" stroke-width="0.8" stroke-linejoin="round"/>
<polyline points="45,712.8 46,711.3 47,710.8 48,709.8 49,708.5 50,706.8 51,705.5 52,705.3 53,705.8 54,706.6 55,707.6 56,708.6 57,709.4 58,710.1 59,710.6 60,711 61,711.2 62,711.4 63,711.5 64,711.6 65,711.7 66,711.7 67,711.8 68,711.8 69,711.8 70,711.9 71,711.9 72,711.9 73,712 74,712 75,712 76,712.1 77,712.1 78,712.1 79,712.1 80,712.1 81,712.1 82,712.1 83,712.1 84,712.1 85,712.1 86,712.1 87,712.1 88,712.1 89,712.1 90,712.1 91,712.1 92,712.1 93,712.1 94,712.1 95,712.1 96,712.1 97,712.1 98,712.1 99,712.1 100,712.1 101,712.1 102,712.1 103,712.1 104,712.2 105,712.2 106,712.2 107,712.2 108,712.2 109,712.2 110,712.1 111,712.1 112,712.1 113,712.1 114,712.1 115,712.1 116,712.1 117,712 118,712 119,712 120,712 121,712 122,712 123,712 124,712 125,712 126,712 127,712.1 128,712.1 129,712.1 130,712.1 131,712.2 132,712.2 133,712.2 134,712.2 135,712.3 136,712.3 137,712.3 138,712.3 139,712.3 140,712.3 141,712.3 142,712.3 143,712.2 144,712.2 145,712.2 146,712.1 147,712.1 148,712.1 149,712 150,712 151,712 152,712 153,711.9 154,711.9 155,711.9 156,711.9 157,711.9 158,711.9 159,712 160,712 161,712 162,712 163,712.1 164,712.1 165,712.1 166,712.2 167,712.2 168,712.2 169,712.3 170,712.3 171,712.3 172,712.3 173,712.3 174,712.3 175,712.3 176,712.2 177,712.2 178,712.2 179,712.1 180,712.1 181,712.1 182,712.1 183,712 184,712 185,712 186,712 187,712 188,712 189,712 190,712 191,712 192,712 193,712 194,712 195,712.1 196,712.1 197,712.1 198,712.1 199,712.1 200,712.2 201,712.2 202,712.2 203,712.2 204,712.2 205,712.2 206,712.1 207,712.1 208,712.1 209,712.1 210,712.1 211,712 212,712 213,712 214,712 215,712 216,712 217,711.9 218,711.9 219,712 220,712 221,712 222,712 223,712 224,712 225,712.1 226,712.1 227,712.1 228,712.1 229,712.2 230,712.2 231,712.2 232,712.2 233,712.2 234,712.2 235,712.1 236,712.1 237,712.1 238,712 239,712 240,712 241,711.9 242,711.9 243,711.8 244,711.8 245,711.8 246,711.7 247,711.7 248,711.7 249,711.7 250,711.7 251,711.7 252,711.7 253,711.8 254,711.8 255,711.8 256,711.8 257,711.9 258,711.9 259,711.9 260,711.9 261,711.9 262,712 263,712 264,711.9 265,711.9 266,711.9 267,711.9 268,711.8 269,711.7 270,711.7 271,711.6 272,711.5 273,711.4 274,711.3 275,711.2 276,711.1 277,711 278,710.9 279,710.8 280,710.7 281,710.6 282,710.5 283,710.4 284,710.2 285,710.1 286,709.9 287,709.7 288,709.4 289,709.1 290,708.6 291,708 292,707.1 293,705.8 294,703.8 295,700.9 296,696.7 297,690.9 298,683.5 299,674.4 300,664.2 301,654 302,645.5 303,640.7 304,640.9 305,645 306,651.7 307,659.7 308,667.8 309,675.5 310,682.2 311,687.8 312,692.2 313,695.7 314,698.3 315,700.2 316,701.6 317,702.8 318,703.6 319,704.3 320,705 321,705.5 322,705.9 323,706.4 324,706.7 325,707.1 326,707.4 327,707.7 328,707.9 329,708.1 330,708.3 331,708.5 332,708.7 333,708.9 334,709 335,709.1 336,709.2 337,709.3 338,709.4 339,709.5 340,709.6 341,709.7 342,709.8 343,709.9 344,709.9 345,710 346,710.1 347,710.1 348,710.1 349,710.2 350,710.2 351,710.2 352,710.2 353,710.2 354,710.2 355,710.3 356,710.4 357,710.5 358,710.6 359,710.8 360,710.9 361,711 362,711.1 363,711.2 364,711.2 365,711.3 366,711.3 367,711.3 368,711.3 369,711.3 370,711.3 371,711.3 372,711.3 373,711.3 374,711.4 375,711.4 376,711.4 377,711.5 378,711.5 379,711.5 380,711.6 381,711.6 382,711.7 383,711.7 384,711.8 385,711.9 386,711.9 387,711.9 388,712 389,712 390,712 391,712.1 392,712.1 393,712.1 394,712.1 395,712.1 396,712 397,712 398,712 399,712 400,711.9 401,711.9 402,711.9 403,711.9 404,711.8 405,711.8 406,711.8 407,711.8 408,711.8 409,711.8 410,711.8 411,711.9 412,711.9 413,711.9 414,711.9 415,712 416,712 417,712 418,712.1 419,712.1 420,712.1 421,712.1 422,712.1 423,712.2 424,712.2 425,712.2 426,712.2 427,712.2 428,712.1 429,712.1 430,712.1 431,712.1 432,712.1 433,712.1 434,712.1 435,712 436,712 437,712 438,712 439,712 440,712 441,712 442,712 443,712 444,712.1 445,712.1 446,712.1 447,712.1 448,712.1 449,712.1 450,712.1 451,712.1 452,712.2 453,712.2 454,712.2 455,712.1 456,712.1 457,712.1 458,712.1 459,712.1 460,712.1 461,712.1 462,712.1 463,712 464,712 465,712 466,712 467,712 468,712 469,712 470,712 471,712 472,712.1 473,712.1 474,712.1 475,712.1 476,712.1 477,712.2 478,712.2 479,712.2 480,712.2 481,712.2 482,712.2 483,712.2 484,712.2 485,712.2 486,712.2 487,712.2 488,712.2 489,712.2 490,712.2 491,712.1 492,712.1 493,712.1 494,712.1 495,712.1 496,712 497,712 498,712 499,712 500,712 501,712 502,712 503,712 504,712 505,712 506,712 507,712.1 508,712.1 509,712.1 510,712.1 511,712.2 512,712.2 513,712.2 514,712.2 515,712.2 516,712.2 517,712.2 518,712.2 519,712.2 520,712.2 521,712.2 522,712.2 523,712.2 524,712.2 525,712.2 526,712.2 527,712.1 528,712.1 529,712.1 530,712.1 531,712.1 532,712.1 533,712.1 534,712.1 535,712.1 536,712.1 537,712.1 538,712.1 539,712.1 540,712.1 541,712.1 542,712.1 543,712.1 544,712.1 545,712.1 546,712.1 547,712.1 548,712.1 549,712.1 550,712.1 551,712.1 552,712.1 553,712.1 554,712.1 555,712.1 556,712.1 557,712.1 558,712.1 559,712.1 560,712.2 561,712.2 562,712.2 563,712.2 564,712.2 565,712.2 566,712.2 567,712.2 568,712.2 569,712.2 570,712.2 571,712.2 572,712.2 573,712.2 574,712.2 575,712.2 576,712.2 577,712.1 578,712.1 579,712.1 580,712.1 581,712.1 582,712.1 583,712.1 584,712.1 585,712.1 586,712 587,712 588,712 589,712.1 590,712.1 591,712.1 592,712.1 593,712.1 594,712.1 595,712.1 596,712.1 597,712.1 598,712.2 599,712.2 600,712.2 601,712.2 602,712.2 603,712.2 604,712.2 605,712.2 606,712.2 607,712.2 608,712.2 609,712.2 610,712.2 611,712.2 612,712.2 613,712.2 614,712.1 615,712.1 616,712.1 617,712.1 618,712.1 619,712.1 620,712.1 621,712.1 622,712.1 623,712.1 624,712.1 625,712.1 626,712.1 627,712.1 628,712.1 629,712.1 630,712.1 631,712.1 632,712.1 633,712.1 634,712.1 635,712.1 636,712.2 637,712.2 638,712.1 639,712.1 640,712.1 641,712.1 642,712.1 643,712.1 644,712.1 645,712.1 646,712.1 647,712.1 648,712.1 649,712.1 650,712.1 651,712.1 652,712.2 653,712.2 654,712.2 655,712.2 656,712.2 657,712.2 658,712.2 659,712.2 660,712.2 661,712.2 662,712.2 663,712.2 664,712.2 665,712.2 666,712.2 667,712.2 668,712.1 669,712.1 670,712.1 671,712.1 672,712.1 673,712.1 674,712 675,712 676,712 677,712 678,712 679,712 680,712 681,712 682,712.1" fill="none" stroke="#f29a9e" stroke-width="0.8" stroke-linejoin="round"/>
<line x1="44.5" y1="715.2" x2="683.2" y2="715.2" stroke="#505050" stroke-width="1.5"/>
<line x1="44.5" y1="813.8" x2="683.2" y2="813.8" stroke="#b4d8c8" stroke-width="1.1"/>
<line x1="56.5" y1="814.3" x2="683.2" y2="814.3" stroke="#a8a8e4" stroke-width="1.1" stroke-dasharray="9,7,4,11"/>
<line x1="47.5" y1="813.6" x2="683.2" y2="813.6" stroke="#888" stroke-width="0.8" stroke-dasharray="3,14,5,9"/>
<polyline points="45,813.3 46,813.3 47,813.2 48,813.2 49,813.2 50,813.2 51,813.2 52,813.2 53,813.2 54,813.2 55,813.2 56,813.2 57,813.2 58,813.2 59,813.2 60,813.2 61,813.2 62,813.2 63,813.2 64,813.2 65,813.2 66,813.2 67,813.2 68,813.2 69,813.2 70,813.2 71,813.2 72,813.2 73,813.2 74,813.2 75,813.2 76,813.2 77,813.2 78,813.2 79,813.2 80,813.2 81,813.2 82,813.2 83,813.2 84,813.2 85,813.2 86,813.2 87,813.2 88,813.2 89,813.2 90,813.3 91,813.3 92,813.3 93,813.3 94,813.3 95,813.3 96,813.3 97,813.3 98,813.3 99,813.3 100,813.3 101,813.3 102,813.3 103,813.3 104,813.3 105,813.3 106,813.3 107,813.3 108,813.3 109,813.3 110,813.3 111,813.3 112,813.2 113,813.2 114,813.2 115,813.2 116,813.2 117,813.2 118,813.2 119,813.2 120,813.2 121,813.2 122,813.2 123,813.2 124,813.2 125,813.2 126,813.1 127,813.1 128,813.1 129,813.1 130,813.1 131,813.1 132,813.1 133,813.1 134,813.1 135,813.1 136,813.1 137,813.1 138,813.1 139,813.1 140,813.1 141,813.2 142,813.2 143,813.2 144,813.2 145,813.2 146,813.3 147,813.3 148,813.3 149,813.3 150,813.3 151,813.3 152,813.3 153,813.3 154,813.3 155,813.3 156,813.3 157,813.3 158,813.3 159,813.3 160,813.3 161,813.2 162,813.2 163,813.2 164,813.2 165,813.2 166,813.2 167,813.2 168,813.2 169,813.2 170,813.2 171,813.2 172,813.2 173,813.2 174,813.2 175,813.2 176,813.2 177,813.2 178,813.2 179,813.2 180,813.2 181,813.2 182,813.2 183,813.2 184,813.2 185,813.2 186,813.2 187,813.1 188,813.1 189,813.1 190,813.1 191,813.1 192,813.1 193,813.1 194,813.1 195,813 196,813 197,813 198,813 199,813 200,813 201,813.1 202,813.1 203,813.1 204,813.1 205,813.1 206,813.1 207,813.1 208,813.1 209,813.2 210,813.2 211,813.2 212,813.2 213,813.2 214,813.2 215,813.2 216,813.2 217,813.2 218,813.2 219,813.2 220,813.2 221,813.1 222,813.1 223,813.1 224,813.1 225,813.1 226,813.1 227,813.1 228,813.1 229,813.1 230,813 231,813 232,813 233,813 234,813 235,813 236,813 237,812.9 238,812.9 239,812.9 240,812.9 241,812.9 242,812.8 243,812.8 244,812.8 245,812.8 246,812.7 247,812.7 248,812.7 249,812.7 250,812.6 251,812.6 252,812.6 253,812.6 254,812.5 255,812.5 256,812.5 257,812.5 258,812.4 259,812.4 260,812.3 261,812.3 262,812.2 263,812.1 264,811.9 265,811.7 266,811.4 267,810.9 268,810.3 269,809.5 270,808.5 271,807.4 272,806.1 273,804.8 274,803.6 275,802.5 276,801.6 277,801.2 278,801.1 279,801.3 280,801.5 281,801.6 282,801.4 283,800.8 284,799.8 285,798.3 286,796.3 287,794 288,791.4 289,788.5 290,785.6 291,782.6 292,779.8 293,777.3 294,775.2 295,773.7 296,772.8 297,772.8 298,773.4 299,774.7 300,776.5 301,778.7 302,781.2 303,783.9 304,786.7 305,789.4 306,792 307,794.4 308,796.7 309,798.7 310,800.5 311,802.1 312,803.5 313,804.6 314,805.6 315,806.4 316,807.1 317,807.6 318,808.1 319,808.5 320,808.8 321,809.1 322,809.3 323,809.5 324,809.7 325,809.9 326,810.1 327,810.2 328,810.3 329,810.5 330,810.6 331,810.7 332,810.8 333,810.9 334,811 335,811 336,811.1 337,811.2 338,811.2 339,811.3 340,811.4 341,811.4 342,811.5 343,811.5 344,811.6 345,811.6 346,811.7 347,811.7 348,811.8 349,811.8 350,811.8 351,811.9 352,811.9 353,812 354,812 355,812 356,812 357,812.1 358,812.1 359,812.1 360,812.2 361,812.2 362,812.2 363,812.2 364,812.2 365,812.3 366,812.3 367,812.3 368,812.3 369,812.3 370,812.4 371,812.4 372,812.4 373,812.4 374,812.5 375,812.5 376,812.5 377,812.6 378,812.6 379,812.6 380,812.6 381,812.7 382,812.7 383,812.7 384,812.7 385,812.7 386,812.8 387,812.8 388,812.8 389,812.8 390,812.8 391,812.8 392,812.8 393,812.8 394,812.8 395,812.9 396,812.9 397,812.9 398,812.9 399,812.9 400,812.9 401,812.9 402,812.9 403,813 404,813 405,813 406,813 407,813 408,813 409,813.1 410,813.1 411,813.1 412,813.1 413,813.1 414,813.1 415,813.1 416,813.1 417,813.1 418,813.1 419,813 420,813 421,813 422,813 423,813 424,813 425,813 426,812.9 427,812.9 428,812.9 429,812.9 430,812.9 431,812.9 432,813 433,813 434,813 435,813 436,813 437,813 438,813.1 439,813.1 440,813.1 441,813.1 442,813.1 443,813.2 444,813.2 445,813.2 446,813.2 447,813.2 448,813.2 449,813.2 450,813.2 451,813.2 452,813.2 453,813.2 454,813.2 455,813.2 456,813.2 457,813.2 458,813.2 459,813.2 460,813.2 461,813.2 462,813.2 463,813.2 464,813.2 465,813.2 466,813.2 467,813.2 468,813.2 469,813.2 470,813.2 471,813.2 472,813.2 473,813.2 474,813.2 475,813.2 476,813.2 477,813.2 478,813.2 479,813.2 480,813.2 481,813.2 482,813.2 483,813.2 484,813.1 485,813.1 486,813.1 487,813.1 488,813.1 489,813.1 490,813.1 491,813.1 492,813.1 493,813.1 494,813.1 495,813.2 496,813.2 497,813.2 498,813.2 499,813.2 500,813.2 501,813.2 502,813.2 503,813.2 504,813.2 505,813.2 506,813.2 507,813.2 508,813.2 509,813.2 510,813.2 511,813.2 512,813.2 513,813.2 514,813.2 515,813.2 516,813.2 517,813.3 518,813.3 519,813.3 520,813.3 521,813.3 522,813.3 523,813.3 524,813.3 525,813.3 526,813.3 527,813.3 528,813.3 529,813.3 530,813.3 531,813.3 532,813.3 533,813.3 534,813.3 535,813.2 536,813.2 537,813.2 538,813.2 539,813.2 540,813.2 541,813.1 542,813.1 543,813.1 544,813.1 545,813.1 546,813.1 547,813.1 548,813.1 549,813.1 550,813.1 551,813.1 552,813.1 553,813.2 554,813.2 555,813.2 556,813.2 557,813.2 558,813.2 559,813.3 560,813.3 561,813.3 562,813.3 563,813.3 564,813.3 565,813.3 566,813.3 567,813.3 568,813.3 569,813.3 570,813.3 571,813.3 572,813.2 573,813.2 574,813.2 575,813.2 576,813.2 577,813.2 578,813.2 579,813.2 580,813.3 581,813.3 582,813.3 583,813.3 584,813.3 585,813.3 586,813.3 587,813.3 588,813.3 589,813.3 590,813.3 591,813.3 592,813.3 593,813.3 594,813.3 595,813.3 596,813.3 597,813.3 598,813.2 599,813.2 600,813.2 601,813.2 602,813.2 603,813.2 604,813.2 605,813.2 606,813.2 607,813.2 608,813.2 609,813.2 610,813.2 611,813.2 612,813.2 613,813.2 614,813.2 615,813.2 616,813.2 617,813.2 618,813.2 619,813.2 620,813.2 621,813.2 622,813.2 623,813.2 624,813.2 625,813.2 626,813.2 627,813.2 628,813.2 629,813.2 630,813.3 631,813.3 632,813.3 633,813.3 634,813.3 635,813.3 636,813.3 637,813.3 638,813.3 639,813.3 640,813.3 641,813.3 642,813.4 643,813.4 644,813.4 645,813.3 646,813.3 647,813.3 648,813.3 649,813.3 650,813.3 651,813.3 652,813.3 653,813.2 654,813.2 655,813.2 656,813.2 657,813.2 658,813.2 659,813.2 660,813.1 661,813.1 662,813.1 663,813.1 664,813.1 665,813.1 666,813.2 667,813.2 668,813.2 669,813.2 670,813.2 671,813.2 672,813.2 673,813.2 674,813.2 675,813.3 676,813.3 677,813.3 678,813.3 679,813.3 680,813.3 681,813.3 682,813.3" fill="none" stroke="#9ad69a" stroke-width="0.8" stroke-linejoin="round"/>
<polyline points="45,812.8 46,811.6 47,811.3 48,810.5 49,809.2 50,807.3 51,805.3 52,804.2 53,804.4 54,805.2 55,806.3 56,807.4 57,808.5 58,809.4 59,810.1 60,810.6 61,811 62,811.2 63,811.4 64,811.5 65,811.5 66,811.6 67,811.7 68,811.7 69,811.8 70,811.8 71,811.9 72,811.9 73,812 74,812 75,812.1 76,812.1 77,812.1 78,812.1 79,812.2 80,812.2 81,812.2 82,812.2 83,812.2 84,812.2 85,812.2 86,812.2 87,812.1 88,812.1 89,812.1 90,812.1 91,812.1 92,812.1 93,812.1 94,812.1 95,812.1 96,812.1 97,812.1 98,812.1 99,812.1 100,812.2 101,812.2 102,812.2 103,812.2 104,812.2 105,812.2 106,812.2 107,812.2 108,812.2 109,812.2 110,812.2 111,812.2 112,812.2 113,812.1 114,812.1 115,812.1 116,812.1 117,812 118,812 119,812 120,812 121,812 122,812 123,812 124,812 125,812 126,812 127,812.1 128,812.1 129,812.1 130,812.2 131,812.2 132,812.3 133,812.3 134,812.3 135,812.4 136,812.4 137,812.4 138,812.4 139,812.4 140,812.4 141,812.4 142,812.4 143,812.3 144,812.3 145,812.2 146,812.2 147,812.1 148,812.1 149,812 150,812 151,811.9 152,811.9 153,811.9 154,811.9 155,811.8 156,811.8 157,811.9 158,811.9 159,811.9 160,811.9 161,812 162,812 163,812.1 164,812.2 165,812.2 166,812.3 167,812.3 168,812.3 169,812.4 170,812.4 171,812.4 172,812.4 173,812.4 174,812.4 175,812.4 176,812.3 177,812.3 178,812.3 179,812.2 180,812.2 181,812.1 182,812.1 183,812 184,812 185,811.9 186,811.9 187,811.9 188,811.9 189,811.9 190,811.9 191,811.9 192,812 193,812 194,812 195,812.1 196,812.1 197,812.1 198,812.2 199,812.2 200,812.2 201,812.3 202,812.3 203,812.3 204,812.3 205,812.2 206,812.2 207,812.2 208,812.2 209,812.1 210,812.1 211,812 212,812 213,812 214,811.9 215,811.9 216,811.9 217,811.9 218,811.9 219,811.9 220,811.9 221,811.9 222,812 223,812 224,812.1 225,812.1 226,812.1 227,812.2 228,812.2 229,812.2 230,812.3 231,812.3 232,812.3 233,812.3 234,812.2 235,812.2 236,812.2 237,812.1 238,812.1 239,812 240,811.9 241,811.9 242,811.8 243,811.8 244,811.7 245,811.6 246,811.6 247,811.6 248,811.6 249,811.6 250,811.6 251,811.6 252,811.6 253,811.6 254,811.7 255,811.7 256,811.8 257,811.8 258,811.9 259,811.9 260,811.9 261,812 262,812 263,812 264,812 265,812 266,811.9 267,811.9 268,811.8 269,811.7 270,811.6 271,811.5 272,811.4 273,811.3 274,811.1 275,811 276,810.8 277,810.7 278,810.6 279,810.4 280,810.3 281,810.1 282,810 283,809.8 284,809.7 285,809.5 286,809.2 287,809 288,808.6 289,808.1 290,807.3 291,806.3 292,804.9 293,802.8 294,800.1 295,796.4 296,791.7 297,785.9 298,779 299,771.3 300,763.1 301,755 302,747.9 303,742.9 304,740.8 305,741.9 306,745.7 307,751.4 308,758.2 309,765.3 310,772.2 311,778.5 312,784 313,788.7 314,792.5 315,795.5 316,797.9 317,799.6 318,801 319,802.1 320,802.9 321,803.6 322,804.1 323,804.6 324,805 325,805.4 326,805.7 327,806 328,806.3 329,806.5 330,806.7 331,806.9 332,807.1 333,807.2 334,807.3 335,807.5 336,807.6 337,807.7 338,807.8 339,807.9 340,808 341,808.1 342,808.2 343,808.3 344,808.4 345,808.5 346,808.7 347,808.8 348,808.9 349,809 350,809.2 351,809.3 352,809.4 353,809.6 354,809.7 355,809.8 356,809.9 357,810 358,810 359,810.1 360,810.2 361,810.2 362,810.2 363,810.2 364,810.2 365,810.2 366,810.2 367,810.2 368,810.2 369,810.2 370,810.2 371,810.2 372,810.2 373,810.2 374,810.2 375,810.3 376,810.3 377,810.4 378,810.5 379,810.5 380,810.6 381,810.7 382,810.8 383,810.9 384,811 385,811.1 386,811.2 387,811.2 388,811.3 389,811.4 390,811.4 391,811.4 392,811.5 393,811.5 394,811.5 395,811.5 396,811.4 397,811.4 398,811.4 399,811.3 400,811.3 401,811.2 402,811.2 403,811.2 404,811.1 405,811.1 406,811 407,810.9 408,810.8 409,810.7 410,810.4 411,810.1 412,809.6 413,809 414,808.3 415,807.5 416,806.8 417,806.2 418,805.8 419,805.7 420,806 421,806.4 422,807 423,807.7 424,808.4 425,809.1 426,809.7 427,810.2 428,810.6 429,810.9 430,811.2 431,811.4 432,811.5 433,811.5 434,811.6 435,811.6 436,811.6 437,811.6 438,811.7 439,811.7 440,811.7 441,811.7 442,811.7 443,811.8 444,811.8 445,811.8 446,811.9 447,811.9 448,811.9 449,811.9 450,812 451,812 452,812 453,812 454,812 455,812 456,812 457,812 458,812 459,812 460,811.9 461,811.9 462,811.9 463,811.9 464,811.9 465,811.9 466,811.9 467,811.9 468,811.9 469,811.9 470,811.9 471,811.9 472,811.9 473,812 474,812 475,812 476,812.1 477,812.1 478,812.2 479,812.2 480,812.2 481,812.2 482,812.3 483,812.3 484,812.3 485,812.3 486,812.3 487,812.2 488,812.2 489,812.2 490,812.2 491,812.1 492,812.1 493,812.1 494,812 495,812 496,812 497,811.9 498,811.9 499,811.9 500,811.9 501,811.9 502,811.9 503,811.9 504,811.9 505,812 506,812 507,812 508,812.1 509,812.1 510,812.1 511,812.2 512,812.2 513,812.2 514,812.3 515,812.3 516,812.3 517,812.3 518,812.3 519,812.3 520,812.3 521,812.3 522,812.3 523,812.3 524,812.2 525,812.2 526,812.2 527,812.2 528,812.2 529,812.1 530,812.1 531,812.1 532,812.1 533,812.1 534,812.1 535,812.1 536,812.1 537,812.1 538,812.1 539,812.1 540,812.1 541,812.1 542,812.1 543,812.1 544,812.1 545,812.1 546,812.1 547,812.1 548,812.1 549,812.1 550,812.1 551,812.1 552,812.2 553,812.2 554,812.2 555,812.2 556,812.2 557,812.2 558,812.2 559,812.2 560,812.2 561,812.2 562,812.2 563,812.2 564,812.2 565,812.2 566,812.3 567,812.3 568,812.3 569,812.3 570,812.3 571,812.3 572,812.3 573,812.3 574,812.2 575,812.2 576,812.2 577,812.2 578,812.2 579,812.2 580,812.1 581,812.1 582,812.1 583,812.1 584,812.1 585,812 586,812 587,812 588,812 589,812 590,812 591,812.1 592,812.1 593,812.1 594,812.1 595,812.1 596,812.2 597,812.2 598,812.2 599,812.2 600,812.3 601,812.3 602,812.3 603,812.3 604,812.3 605,812.3 606,812.3 607,812.3 608,812.3 609,812.3 610,812.3 611,812.3 612,812.2 613,812.2 614,812.2 615,812.2 616,812.2 617,812.1 618,812.1 619,812.1 620,812.1 621,812.1 622,812.1 623,812.1 624,812.1 625,812.1 626,812.1 627,812.1 628,812.1 629,812.1 630,812.2 631,812.2 632,812.2 633,812.2 634,812.2 635,812.2 636,812.2 637,812.2 638,812.2 639,812.2 640,812.2 641,812.2 642,812.2 643,812.2 644,812.2 645,812.2 646,812.2 647,812.2 648,812.2 649,812.2 650,812.2 651,812.2 652,812.2 653,812.2 654,812.2 655,812.3 656,812.3 657,812.3 658,812.3 659,812.3 660,812.3 661,812.3 662,812.3 663,812.3 664,812.3 665,812.3 666,812.2 667,812.2 668,812.2 669,812.2 670,812.1 671,812.1 672,812.1 673,812.1 674,812 675,812 676,812 677,812 678,812 679,812 680,812 681,812 682,812.1" fill="none" stroke="#f29a9e" stroke-width="0.8" stroke-linejoin="round"/>
<polyline points="45,813.7 46,813.7 47,813.7 48,813.7 49,813.7 50,813.7 51,813.7 52,813.7 53,813.7 54,813.7 55,813.7 56,813.7 57,813.7 58,813.7 59,813.7 60,813.7 61,813.7 62,813.7 63,813.7 64,813.7 65,813.7 66,813.7 67,813.7 68,813.7 69,813.7 70,813.7 71,813.7 72,813.7 73,813.7 74,813.7 75,813.7 76,813.7 77,813.7 78,813.7 79,813.7 80,813.7 81,813.7 82,813.7 83,813.7 84,813.7 85,813.7 86,813.7 87,813.7 88,813.7 89,813.7 90,813.7 91,813.7 92,813.7 93,813.7 94,813.7 95,813.7 96,813.7 97,813.7 98,813.7 99,813.7 100,813.7 101,813.7 102,813.7 103,813.7 104,813.7 105,813.7 106,813.7 107,813.7 108,813.7 109,813.7 110,813.7 111,813.7 112,813.7 113,813.7 114,813.7 115,813.7 116,813.7 117,813.7 118,813.7 119,813.7 120,813.7 121,813.7 122,813.7 123,813.7 124,813.7 125,813.7 126,813.7 127,813.7 128,813.7 129,813.7 130,813.7 131,813.7 132,813.7 133,813.7 134,813.7 135,813.7 136,813.7 137,813.7 138,813.7 139,813.7 140,813.7 141,813.7 142,813.7 143,813.7 144,813.7 145,813.7 146,813.7 147,813.7 148,813.7 149,813.7 150,813.7 151,813.7 152,813.7 153,813.7 154,813.7 155,813.7 156,813.7 157,813.7 158,813.7 159,813.7 160,813.7 161,813.7 162,813.7 163,813.7 164,813.7 165,813.7 166,813.7 167,813.7 168,813.7 169,813.7 170,813.7 171,813.7 172,813.7 173,813.7 174,813.7 175,813.7 176,813.7 177,813.7 178,813.7 179,813.7 180,813.7 181,813.7 182,813.7 183,813.7 184,813.7 185,813.7 186,813.7 187,813.7 188,813.7 189,813.7 190,813.7 191,813.7 192,813.7 193,813.7 194,813.7 195,813.7 196,813.7 197,813.7 198,813.7 199,813.7 200,813.7 201,813.7 202,813.7 203,813.7 204,813.7 205,813.7 206,813.7 207,813.7 208,813.7 209,813.7 210,813.7 211,813.7 212,813.7 213,813.7 214,813.7 215,813.7 216,813.7 217,813.7 218,813.7 219,813.7 220,813.7 221,813.7 222,813.7 223,813.7 224,813.7 225,813.7 226,813.7 227,813.7 228,813.7 229,813.7 230,813.7 231,813.7 232,813.7 233,813.7 234,813.7 235,813.7 236,813.7 237,813.7 238,813.7 239,813.7 240,813.7 241,813.7 242,813.7 243,813.7 244,813.7 245,813.7 246,813.7 247,813.7 248,813.7 249,813.7 250,813.7 251,813.7 252,813.7 253,813.7 254,813.7 255,813.7 256,813.7 257,813.7 258,813.7 259,813.7 260,813.7 261,813.7 262,813.7 263,813.7 264,813.7 265,813.7 266,813.7 267,813.7 268,813.7 269,813.7 270,813.7 271,813.7 272,813.7 273,813.7 274,813.7 275,813.7 276,813.7 277,813.7 278,813.7 279,813.7 280,813.7 281,813.7 282,813.7 283,813.7 284,813.7 285,813.7 286,813.7 287,813.7 288,813.7 289,813.7 290,813.7 291,813.7 292,813.7 293,813.7 294,813.7 295,813.7 296,813.7 297,813.7 298,813.7 299,813.7 300,813.7 301,813.7 302,813.7 303,813.7 304,813.7 305,813.7 306,813.7 307,813.7 308,813.7 309,813.7 310,813.7 311,813.7 312,813.7 313,813.7 314,813.7 315,813.7 316,813.7 317,813.7 318,813.7 319,813.7 320,813.7 321,813.7 322,813.7 323,813.7 324,813.7 325,813.7 326,813.7 327,813.7 328,813.7 329,813.7 330,813.7 331,813.7 332,813.7 333,813.7 334,813.7 335,813.7 336,813.7 337,813.7 338,813.7 339,813.7 340,813.7 341,813.7 342,813.7 343,813.7 344,813.7 345,813.7 346,813.7 347,813.7 348,813.7 349,813.7 350,813.7 351,813.7 352,813.7 353,813.7 354,813.7 355,813.7 356,813.7 357,813.7 358,813.7 359,813.7 360,813.7 361,813.7 362,813.7 363,813.7 364,813.7 365,813.7 366,813.7 367,813.7 368,813.7 369,813.7 370,813.7 371,813.7 372,813.7 373,813.7 374,813.7 375,813.7 376,813.7 377,813.7 378,813.7 379,813.7 380,813.7 381,813.7 382,813.7 383,813.7 384,813.7 385,813.7 386,813.7 387,813.7 388,813.7 389,813.7 390,813.7 391,813.7 392,813.7 393,813.7 394,813.7 395,813.7 396,813.7 397,813.7 398,813.7 399,813.7 400,813.7 401,813.7 402,813.7 403,813.7 404,813.7 405,813.7 406,813.7 407,813.7 408,813.7 409,813.7 410,813.7 411,813.7 412,813.7 413,813.7 414,813.7 415,813.7 416,813.7 417,813.7 418,813.7 419,813.7 420,813.7 421,813.7 422,813.7 423,813.7 424,813.7 425,813.7 426,813.7 427,813.7 428,813.7 429,813.7 430,813.7 431,813.7 432,813.7 433,813.7 434,813.6 435,813.6 436,813.6 437,813.6 438,813.6 439,813.6 440,813.6 441,813.6 442,813.6 443,813.6 444,813.6 445,813.6 446,813.6 447,813.6 448,813.6 449,813.6 450,813.6 451,813.6 452,813.6 453,813.6 454,813.6 455,813.6 456,813.6 457,813.6 458,813.6 459,813.5 460,813.5 461,813.5 462,813.5 463,813.5 464,813.5 465,813.5 466,813.5 467,813.4 468,813.4 469,813.4 470,813.4 471,813.3 472,813.3 473,813.3 474,813.2 475,813.2 476,813.1 477,813 478,812.8 479,812.5 480,812.1 481,811.4 482,810.3 483,808.8 484,806.6 485,803.6 486,799.8 487,795.4 488,790.3 489,785.1 490,780.3 491,776.3 492,773.8 493,773.1 494,773.9 495,775.8 496,778.5 497,781.9 498,785.6 499,789.4 500,793.1 501,796.5 502,799.6 503,802.2 504,804.3 505,806.1 506,807.4 507,808.4 508,809.2 509,809.8 510,810.3 511,810.6 512,810.9 513,811.2 514,811.4 515,811.6 516,811.7 517,811.9 518,812 519,812.1 520,812.2 521,812.3 522,812.4 523,812.5 524,812.6 525,812.7 526,812.7 527,812.8 528,812.8 529,812.9 530,813 531,813 532,813 533,813.1 534,813.1 535,813.2 536,813.2 537,813.2 538,813.3 539,813.3 540,813.3 541,813.3 542,813.4 543,813.4 544,813.4 545,813.4 546,813.4 547,813.4 548,813.5 549,813.5 550,813.5 551,813.5 552,813.5 553,813.5 554,813.5 555,813.5 556,813.5 557,813.6 558,813.6 559,813.6 560,813.6 561,813.6 562,813.6 563,813.6 564,813.6 565,813.6 566,813.6 567,813.6 568,813.6 569,813.6 570,813.6 571,813.6 572,813.6 573,813.6 574,813.6 575,813.6 576,813.6 577,813.6 578,813.6 579,813.6 580,813.6 581,813.7 582,813.7 583,813.7 584,813.7 585,813.7 586,813.7 587,813.7 588,813.7 589,813.7 590,813.7 591,813.7 592,813.7 593,813.7 594,813.7 595,813.7 596,813.7 597,813.7 598,813.7 599,813.7 600,813.7 601,813.7 602,813.7 603,813.7 604,813.7 605,813.7 606,813.7 607,813.7 608,813.7 609,813.7 610,813.7 611,813.7 612,813.7 613,813.7 614,813.7 615,813.7 616,813.7 617,813.7 618,813.7 619,813.7 620,813.7 621,813.7 622,813.7 623,813.7 624,813.7 625,813.7 626,813.7 627,813.7 628,813.7 629,813.7 630,813.7 631,813.7 632,813.7 633,813.7 634,813.7 635,813.7 636,813.7 637,813.7 638,813.7 639,813.7 640,813.7 641,813.7 642,813.7 643,813.7 644,813.7 645,813.7 646,813.7 647,813.7 648,813.7 649,813.7 650,813.7 651,813.7 652,813.7 653,813.7 654,813.7 655,813.7 656,813.7 657,813.7 658,813.7 659,813.7 660,813.7 661,813.7 662,813.7 663,813.7 664,813.7 665,813.7 666,813.7 667,813.7 668,813.7 669,813.7 670,813.7 671,813.7 672,813.7 673,813.7 674,813.7 675,813.7 676,813.7 677,813.7 678,813.7 679,813.7 680,813.7 681,813.7 682,813.7" fill="none" stroke="#f2b07a" stroke-width="0.8" stroke-linejoin="round"/>
<polyline points="45,813.5 46,813.5 47,813.5 48,813.5 49,813.5 50,813.5 51,813.5 52,813.5 53,813.6 54,813.6 55,813.6 56,813.6 57,813.6 58,813.6 59,813.6 60,813.6 61,813.5 62,813.5 63,813.5 64,813.5 65,813.5 66,813.5 67,813.5 68,813.5 69,813.5 70,813.5 71,813.5 72,813.5 73,813.5 74,813.5 75,813.5 76,813.5 77,813.5 78,813.5 79,813.5 80,813.6 81,813.6 82,813.6 83,813.6 84,813.6 85,813.6 86,813.6 87,813.6 88,813.6 89,813.6 90,813.6 91,813.6 92,813.6 93,813.6 94,813.6 95,813.6 96,813.6 97,813.6 98,813.6 99,813.6 100,813.6 101,813.5 102,813.5 103,813.5 104,813.6 105,813.6 106,813.6 107,813.6 108,813.6 109,813.6 110,813.6 111,813.6 112,813.6 113,813.6 114,813.6 115,813.6 116,813.6 117,813.6 118,813.6 119,813.5 120,813.5 121,813.5 122,813.5 123,813.5 124,813.5 125,813.5 126,813.5 127,813.5 128,813.5 129,813.5 130,813.5 131,813.5 132,813.5 133,813.5 134,813.5 135,813.5 136,813.5 137,813.6 138,813.6 139,813.6 140,813.6 141,813.6 142,813.6 143,813.6 144,813.6 145,813.6 146,813.6 147,813.6 148,813.6 149,813.6 150,813.6 151,813.6 152,813.6 153,813.6 154,813.5 155,813.5 156,813.5 157,813.5 158,813.5 159,813.5 160,813.5 161,813.5 162,813.5 163,813.5 164,813.5 165,813.5 166,813.5 167,813.5 168,813.5 169,813.5 170,813.5 171,813.5 172,813.5 173,813.5 174,813.5 175,813.5 176,813.5 177,813.5 178,813.5 179,813.5 180,813.5 181,813.5 182,813.5 183,813.5 184,813.5 185,813.5 186,813.5 187,813.5 188,813.5 189,813.5 190,813.5 191,813.5 192,813.6 193,813.6 194,813.6 195,813.6 196,813.6 197,813.6 198,813.6 199,813.6 200,813.6 201,813.6 202,813.7 203,813.6 204,813.6 205,813.6 206,813.6 207,813.6 208,813.6 209,813.6 210,813.6 211,813.6 212,813.6 213,813.6 214,813.6 215,813.6 216,813.6 217,813.6 218,813.5 219,813.5 220,813.5 221,813.5 222,813.5 223,813.5 224,813.5 225,813.5 226,813.5 227,813.5 228,813.5 229,813.5 230,813.5 231,813.5 232,813.5 233,813.5 234,813.5 235,813.5 236,813.5 237,813.5 238,813.4 239,813.4 240,813.4 241,813.4 242,813.4 243,813.4 244,813.4 245,813.4 246,813.5 247,813.5 248,813.5 249,813.5 250,813.5 251,813.5 252,813.5 253,813.6 254,813.6 255,813.6 256,813.6 257,813.6 258,813.6 259,813.6 260,813.6 261,813.6 262,813.6 263,813.6 264,813.6 265,813.6 266,813.6 267,813.6 268,813.6 269,813.6 270,813.6 271,813.6 272,813.6 273,813.6 274,813.6 275,813.6 276,813.6 277,813.6 278,813.6 279,813.6 280,813.6 281,813.6 282,813.6 283,813.6 284,813.6 285,813.6 286,813.6 287,813.6 288,813.6 289,813.6 290,813.6 291,813.6 292,813.5 293,813.5 294,813.5 295,813.5 296,813.5 297,813.5 298,813.5 299,813.5 300,813.5 301,813.5 302,813.5 303,813.5 304,813.5 305,813.5 306,813.5 307,813.5 308,813.5 309,813.5 310,813.5 311,813.5 312,813.5 313,813.5 314,813.5 315,813.5 316,813.5 317,813.5 318,813.5 319,813.5 320,813.5 321,813.5 322,813.5 323,813.5 324,813.5 325,813.5 326,813.5 327,813.5 328,813.5 329,813.5 330,813.5 331,813.5 332,813.5 333,813.5 334,813.5 335,813.5 336,813.5 337,813.5 338,813.6 339,813.6 340,813.6 341,813.6 342,813.6 343,813.6 344,813.6 345,813.6 346,813.6 347,813.6 348,813.6 349,813.6 350,813.6 351,813.6 352,813.6 353,813.6 354,813.6 355,813.6 356,813.6 357,813.6 358,813.6 359,813.6 360,813.6 361,813.6 362,813.6 363,813.6 364,813.6 365,813.6 366,813.6 367,813.6 368,813.6 369,813.6 370,813.6 371,813.6 372,813.6 373,813.6 374,813.6 375,813.6 376,813.6 377,813.6 378,813.5 379,813.5 380,813.5 381,813.5 382,813.5 383,813.5 384,813.5 385,813.5 386,813.4 387,813.4 388,813.4 389,813.4 390,813.4 391,813.4 392,813.4 393,813.4 394,813.5 395,813.5 396,813.5 397,813.5 398,813.5 399,813.5 400,813.5 401,813.5 402,813.5 403,813.5 404,813.5 405,813.5 406,813.5 407,813.5 408,813.5 409,813.5 410,813.5 411,813.5 412,813.5 413,813.5 414,813.5 415,813.5 416,813.5 417,813.5 418,813.6 419,813.6 420,813.6 421,813.6 422,813.6 423,813.6 424,813.7 425,813.7 426,813.7 427,813.7 428,813.7 429,813.7 430,813.7 431,813.7 432,813.7 433,813.6 434,813.6 435,813.6 436,813.6 437,813.6 438,813.6 439,813.6 440,813.5 441,813.5 442,813.5 443,813.5 444,813.5 445,813.5 446,813.5 447,813.5 448,813.5 449,813.5 450,813.5 451,813.5 452,813.5 453,813.5 454,813.5 455,813.5 456,813.5 457,813.5 458,813.4 459,813.4 460,813.4 461,813.4 462,813.4 463,813.4 464,813.4 465,813.4 466,813.4 467,813.4 468,813.3 469,813.3 470,813.3 471,813.3 472,813.3 473,813.3 474,813.3 475,813.3 476,813.3 477,813.3 478,813.3 479,813.3 480,813.3 481,813.3 482,813.3 483,813.3 484,813.2 485,813.1 486,813 487,812.9 488,812.6 489,812.2 490,811.5 491,810.6 492,809.2 493,807.3 494,805 495,802.1 496,798.8 497,795.4 498,792.1 499,789.3 500,787.4 501,786.7 502,786.9 503,787.5 504,788.5 505,789.8 506,791.3 507,793 508,794.9 509,796.7 510,798.6 511,800.4 512,802.1 513,803.7 514,805.1 515,806.4 516,807.4 517,808.4 518,809.1 519,809.8 520,810.3 521,810.7 522,811.1 523,811.4 524,811.6 525,811.8 526,812 527,812.1 528,812.2 529,812.3 530,812.4 531,812.5 532,812.6 533,812.6 534,812.7 535,812.8 536,812.8 537,812.9 538,812.9 539,813 540,813 541,813 542,813.1 543,813.1 544,813.1 545,813.1 546,813.2 547,813.2 548,813.2 549,813.2 550,813.2 551,813.2 552,813.2 553,813.2 554,813.2 555,813.2 556,813.3 557,813.3 558,813.3 559,813.3 560,813.3 561,813.3 562,813.3 563,813.4 564,813.4 565,813.4 566,813.4 567,813.4 568,813.4 569,813.4 570,813.5 571,813.5 572,813.5 573,813.5 574,813.5 575,813.5 576,813.5 577,813.5 578,813.5 579,813.5 580,813.5 581,813.5 582,813.5 583,813.5 584,813.5 585,813.5 586,813.5 587,813.5 588,813.5 589,813.5 590,813.5 591,813.5 592,813.6 593,813.6 594,813.6 595,813.6 596,813.6 597,813.6 598,813.6 599,813.6 600,813.6 601,813.6 602,813.6 603,813.6 604,813.5 605,813.5 606,813.5 607,813.5 608,813.5 609,813.5 610,813.5 611,813.5 612,813.5 613,813.5 614,813.5 615,813.5 616,813.5 617,813.5 618,813.5 619,813.5 620,813.5 621,813.5 622,813.5 623,813.5 624,813.5 625,813.5 626,813.5 627,813.5 628,813.5 629,813.5 630,813.5 631,813.5 632,813.5 633,813.5 634,813.5 635,813.5 636,813.5 637,813.5 638,813.5 639,813.5 640,813.5 641,813.5 642,813.5 643,813.5 644,813.5 645,813.5 646,813.5 647,813.6 648,813.6 649,813.6 650,813.6 651,813.6 652,813.6 653,813.6 654,813.6 655,813.6 656,813.6 657,813.6 658,813.6 659,813.6 660,813.6 661,813.5 662,813.5 663,813.5 664,813.5 665,813.5 666,813.5 667,813.5 668,813.5 669,813.5 670,813.5 671,813.5 672,813.5 673,813.5 674,813.5 675,813.5 676,813.5 677,813.5 678,813.5 679,813.5 680,813.5 681,813.5 682,813.6" fill="none" stroke="#c096d6" stroke-width="0.8" stroke-linejoin="round"/>
<polyline points="45,813.6 46,813.6 47,813.6 48,813.6 49,813.6 50,813.6 51,813.6 52,813.6 53,813.6 54,813.6 55,813.6 56,813.6 57,813.7 58,813.7 59,813.7 60,813.7 61,813.7 62,813.7 63,813.7 64,813.7 65,813.7 66,813.7 67,813.7 68,813.7 69,813.7 70,813.7 71,813.7 72,813.7 73,813.7 74,813.7 75,813.7 76,813.7 77,813.7 78,813.7 79,813.7 80,813.7 81,813.7 82,813.6 83,813.6 84,813.6 85,813.6 86,813.6 87,813.6 88,813.6 89,813.6 90,813.6 91,813.6 92,813.6 93,813.6 94,813.6 95,813.6 96,813.6 97,813.6 98,813.6 99,813.6 100,813.6 101,813.6 102,813.6 103,813.6 104,813.6 105,813.6 106,813.6 107,813.7 108,813.7 109,813.7 110,813.7 111,813.7 112,813.7 113,813.7 114,813.7 115,813.7 116,813.7 117,813.7 118,813.7 119,813.7 120,813.7 121,813.7 122,813.7 123,813.7 124,813.7 125,813.7 126,813.7 127,813.6 128,813.6 129,813.6 130,813.6 131,813.6 132,813.6 133,813.6 134,813.6 135,813.6 136,813.6 137,813.6 138,813.6 139,813.6 140,813.6 141,813.6 142,813.6 143,813.7 144,813.7 145,813.7 146,813.7 147,813.7 148,813.7 149,813.7 150,813.7 151,813.7 152,813.7 153,813.7 154,813.7 155,813.7 156,813.7 157,813.7 158,813.7 159,813.7 160,813.7 161,813.6 162,813.6 163,813.6 164,813.6 165,813.6 166,813.6 167,813.6 168,813.6 169,813.6 170,813.6 171,813.6 172,813.6 173,813.6 174,813.6 175,813.6 176,813.6 177,813.6 178,813.6 179,813.6 180,813.6 181,813.6 182,813.6 183,813.6 184,813.6 185,813.6 186,813.7 187,813.7 188,813.7 189,813.7 190,813.7 191,813.7 192,813.7 193,813.7 194,813.7 195,813.7 196,813.7 197,813.7 198,813.7 199,813.7 200,813.7 201,813.7 202,813.7 203,813.7 204,813.7 205,813.7 206,813.7 207,813.7 208,813.7 209,813.7 210,813.6 211,813.6 212,813.6 213,813.6 214,813.6 215,813.6 216,813.6 217,813.6 218,813.5 219,813.5 220,813.5 221,813.5 222,813.5 223,813.5 224,813.5 225,813.5 226,813.5 227,813.6 228,813.6 229,813.6 230,813.6 231,813.6 232,813.6 233,813.6 234,813.6 235,813.7 236,813.7 237,813.7 238,813.7 239,813.7 240,813.7 241,813.7 242,813.7 243,813.7 244,813.7 245,813.8 246,813.8 247,813.7 248,813.7 249,813.7 250,813.7 251,813.7 252,813.7 253,813.7 254,813.7 255,813.7 256,813.7 257,813.7 258,813.6 259,813.6 260,813.6 261,813.6 262,813.6 263,813.6 264,813.6 265,813.6 266,813.6 267,813.6 268,813.6 269,813.6 270,813.6 271,813.6 272,813.6 273,813.6 274,813.6 275,813.6 276,813.6 277,813.6 278,813.6 279,813.6 280,813.6 281,813.7 282,813.7 283,813.7 284,813.7 285,813.7 286,813.7 287,813.7 288,813.7 289,813.7 290,813.7 291,813.7 292,813.7 293,813.7 294,813.7 295,813.7 296,813.7 297,813.7 298,813.7 299,813.6 300,813.6 301,813.6 302,813.6 303,813.6 304,813.6 305,813.6 306,813.6 307,813.6 308,813.6 309,813.6 310,813.6 311,813.6 312,813.6 313,813.6 314,813.6 315,813.6 316,813.6 317,813.6 318,813.6 319,813.6 320,813.6 321,813.7 322,813.7 323,813.7 324,813.7 325,813.7 326,813.7 327,813.7 328,813.7 329,813.7 330,813.7 331,813.7 332,813.7 333,813.7 334,813.7 335,813.7 336,813.7 337,813.7 338,813.7 339,813.7 340,813.7 341,813.7 342,813.6 343,813.6 344,813.6 345,813.6 346,813.6 347,813.6 348,813.6 349,813.5 350,813.5 351,813.5 352,813.5 353,813.5 354,813.5 355,813.5 356,813.5 357,813.5 358,813.5 359,813.5 360,813.5 361,813.6 362,813.6 363,813.6 364,813.6 365,813.6 366,813.6 367,813.6 368,813.7 369,813.7 370,813.7 371,813.7 372,813.7 373,813.7 374,813.7 375,813.8 376,813.8 377,813.8 378,813.8 379,813.8 380,813.8 381,813.8 382,813.8 383,813.7 384,813.7 385,813.7 386,813.7 387,813.7 388,813.7 389,813.6 390,813.6 391,813.6 392,813.6 393,813.6 394,813.6 395,813.5 396,813.5 397,813.5 398,813.5 399,813.5 400,813.5 401,813.5 402,813.5 403,813.5 404,813.5 405,813.5 406,813.5 407,813.5 408,813.5 409,813.5 410,813.5 411,813.6 412,813.6 413,813.6 414,813.6 415,813.6 416,813.6 417,813.6 418,813.7 419,813.7 420,813.7 421,813.7 422,813.7 423,813.7 424,813.7 425,813.7 426,813.7 427,813.7 428,813.7 429,813.7 430,813.7 431,813.7 432,813.7 433,813.6 434,813.6 435,813.6 436,813.6 437,813.6 438,813.6 439,813.5 440,813.5 441,813.5 442,813.5 443,813.5 444,813.5 445,813.5 446,813.5 447,813.5 448,813.5 449,813.5 450,813.5 451,813.5 452,813.5 453,813.5 454,813.5 455,813.5 456,813.5 457,813.5 458,813.5 459,813.5 460,813.5 461,813.5 462,813.5 463,813.5 464,813.5 465,813.5 466,813.5 467,813.5 468,813.4 469,813.4 470,813.4 471,813.4 472,813.4 473,813.3 474,813.3 475,813.3 476,813.2 477,813.2 478,813.1 479,813.1 480,813 481,812.9 482,812.9 483,812.8 484,812.7 485,812.5 486,812.3 487,812.1 488,811.7 489,811 490,810 491,808.6 492,806.5 493,803.5 494,799.5 495,794.3 496,788 497,780.7 498,772.6 499,764.4 500,756.8 501,750.4 502,746.2 503,744.7 504,745.8 505,749 506,754 507,760.2 508,767.1 509,774.1 510,780.9 511,787.1 512,792.6 513,797.1 514,800.8 515,803.6 516,805.8 517,807.4 518,808.6 519,809.4 520,810 521,810.5 522,810.8 523,811.1 524,811.3 525,811.5 526,811.7 527,811.8 528,811.9 529,812.1 530,812.2 531,812.3 532,812.3 533,812.4 534,812.5 535,812.6 536,812.6 537,812.7 538,812.8 539,812.8 540,812.9 541,812.9 542,813 543,813 544,813.1 545,813.1 546,813.2 547,813.2 548,813.3 549,813.3 550,813.3 551,813.4 552,813.4 553,813.4 554,813.5 555,813.5 556,813.5 557,813.5 558,813.6 559,813.6 560,813.6 561,813.6 562,813.6 563,813.6 564,813.6 565,813.6 566,813.6 567,813.6 568,813.6 569,813.6 570,813.6 571,813.5 572,813.5 573,813.5 574,813.5 575,813.5 576,813.5 577,813.5 578,813.5 579,813.5 580,813.5 581,813.5 582,813.5 583,813.5 584,813.5 585,813.5 586,813.5 587,813.5 588,813.5 589,813.5 590,813.5 591,813.5 592,813.5 593,813.6 594,813.6 595,813.6 596,813.6 597,813.6 598,813.6 599,813.6 600,813.6 601,813.7 602,813.7 603,813.7 604,813.7 605,813.7 606,813.7 607,813.7 608,813.7 609,813.7 610,813.7 611,813.7 612,813.7 613,813.7 614,813.7 615,813.6 616,813.6 617,813.6 618,813.6 619,813.6 620,813.6 621,813.6 622,813.6 623,813.6 624,813.6 625,813.6 626,813.6 627,813.6 628,813.6 629,813.6 630,813.6 631,813.6 632,813.6 633,813.6 634,813.6 635,813.6 636,813.6 637,813.6 638,813.6 639,813.6 640,813.6 641,813.6 642,813.7 643,813.7 644,813.7 645,813.7 646,813.7 647,813.7 648,813.7 649,813.7 650,813.7 651,813.7 652,813.7 653,813.6 654,813.6 655,813.6 656,813.6 657,813.6 658,813.6 659,813.6 660,813.6 661,813.6 662,813.6 663,813.6 664,813.6 665,813.6 666,813.6 667,813.6 668,813.6 669,813.6 670,813.6 671,813.6 672,813.6 673,813.6 674,813.6 675,813.6 676,813.6 677,813.6 678,813.6 679,813.6 680,813.7 681,813.7 682,813.7" fill="none" stroke="#8cc6f2" stroke-width="0.8" stroke-linejoin="round"/>
<line x1="44.5" y1="815" x2="683.2" y2="815" stroke="#a8a8a8" stroke-width="0.9"/>
<text x="257.4" y="636" font-size="11" fill="#f03a3e" stroke="#f03a3e" stroke-width="0.22" textLength="100.4" lengthAdjust="spacingAndGlyphs">Series A t18:1 h24:0</text>
<text x="228.2" y="697.1" font-size="11" fill="#66c666" stroke="#66c666" stroke-width="0.22" textLength="57.7" lengthAdjust="spacingAndGlyphs">t18:1 h24:0</text>
<text x="259.9" y="730.2" font-size="11" fill="#f03a3e" stroke="#f03a3e" stroke-width="0.22" textLength="100.1" lengthAdjust="spacingAndGlyphs">Series A t18:1 h24:0</text>
<text x="221" y="783.6" font-size="11" fill="#66c666" stroke="#66c666" stroke-width="0.22" textLength="57.2" lengthAdjust="spacingAndGlyphs">t18:1 h24:0</text>
<text x="514.9" y="748.1" font-size="11.2" fill="#6cc0f0" stroke="#6cc0f0" stroke-width="0.22" textLength="80.4" lengthAdjust="spacingAndGlyphs">Man-GlcA-Ino-P</text>
<text x="434" y="770" font-size="11" fill="#f0a050" stroke="#f0a050" stroke-width="0.22" textLength="47.3" lengthAdjust="spacingAndGlyphs">GalA4Me</text>
<text x="543.6" y="780.3" font-size="11" fill="#b060c0" stroke="#b060c0" stroke-width="0.22" textLength="29.8" lengthAdjust="spacingAndGlyphs">GalA3</text>
<line x1="539.7" y1="755.6" x2="510.5" y2="774" stroke="#909090" stroke-width="0.5"/>
<line x1="465.3" y1="776.9" x2="485.7" y2="795.3" stroke="#909090" stroke-width="0.5"/>
<line x1="539.7" y1="777.8" x2="509" y2="796.5" stroke="#909090" stroke-width="0.5"/>
<text x="4.4" y="627.9" font-size="18.8" fill="#111" textLength="11.6" lengthAdjust="spacingAndGlyphs">C</text>
</svg>
</body></html>
